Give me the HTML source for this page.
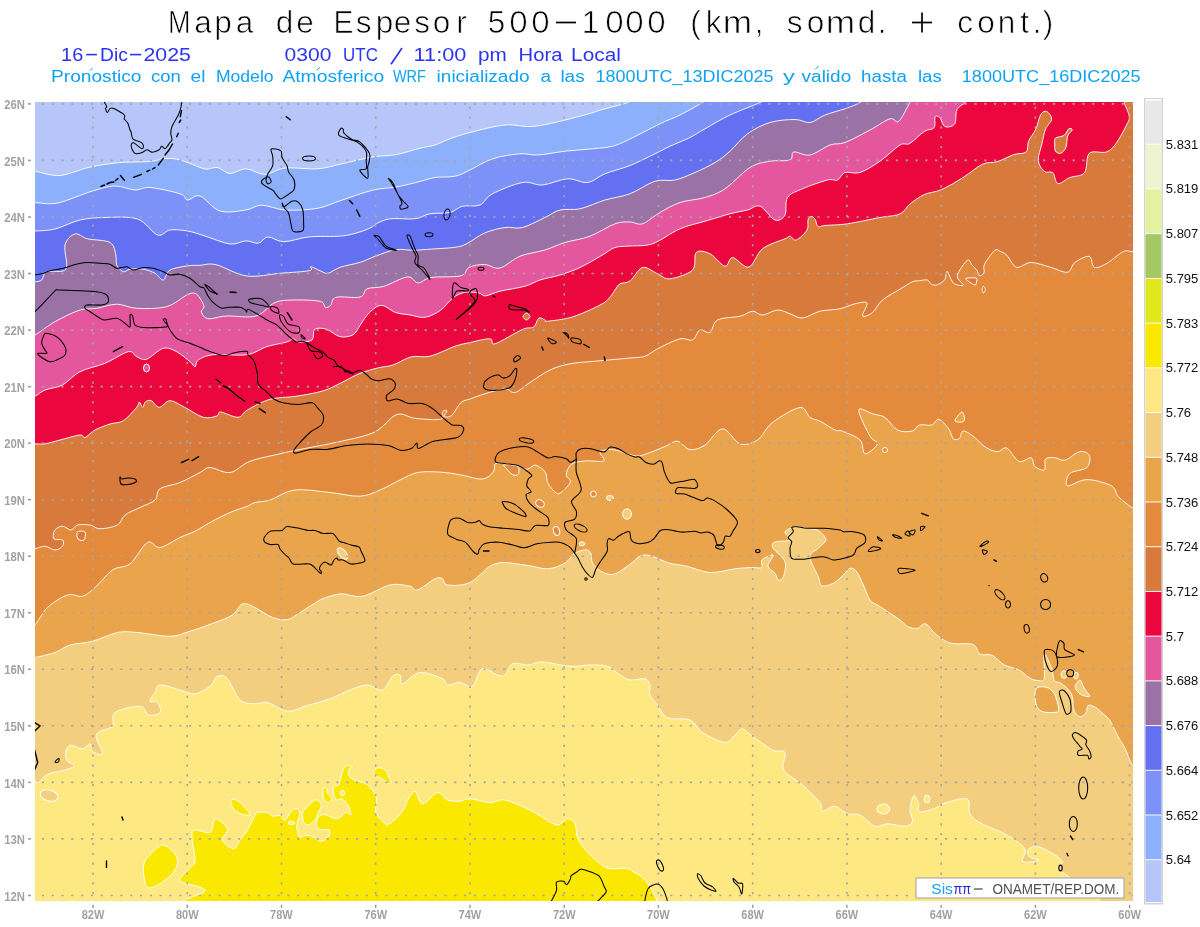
<!DOCTYPE html><html><head><meta charset="utf-8"><style>html,body{margin:0;padding:0;background:#fff;overflow:hidden}svg{display:block;will-change:transform}text{font-family:"Liberation Sans",sans-serif}</style></head><body>
<svg width="1200" height="927" viewBox="0 0 1200 927">
<rect width="1200" height="927" fill="#fff"/>
<defs><clipPath id="mc"><rect x="35" y="102" width="1098" height="799"/></clipPath></defs>
<text transform="translate(179.3 33) scale(0.86 1)" x="0" y="0" font-size="31.5" text-anchor="middle" fill="#000" stroke="#fff" stroke-width="0.7">M</text>
<text transform="translate(203 33) scale(1.0 1)" x="0" y="0" font-size="31.5" text-anchor="middle" fill="#000" stroke="#fff" stroke-width="0.7">a</text>
<text transform="translate(223 33) scale(1.0 1)" x="0" y="0" font-size="31.5" text-anchor="middle" fill="#000" stroke="#fff" stroke-width="0.7">p</text>
<text transform="translate(244.5 33) scale(1.0 1)" x="0" y="0" font-size="31.5" text-anchor="middle" fill="#000" stroke="#fff" stroke-width="0.7">a</text>
<text transform="translate(284.5 33) scale(1.0 1)" x="0" y="0" font-size="31.5" text-anchor="middle" fill="#000" stroke="#fff" stroke-width="0.7">d</text>
<text transform="translate(305 33) scale(1.0 1)" x="0" y="0" font-size="31.5" text-anchor="middle" fill="#000" stroke="#fff" stroke-width="0.7">e</text>
<text transform="translate(343.5 33) scale(0.95 1)" x="0" y="0" font-size="31.5" text-anchor="middle" fill="#000" stroke="#fff" stroke-width="0.7">E</text>
<text transform="translate(363.5 33) scale(1.0 1)" x="0" y="0" font-size="31.5" text-anchor="middle" fill="#000" stroke="#fff" stroke-width="0.7">s</text>
<text transform="translate(384.5 33) scale(1.0 1)" x="0" y="0" font-size="31.5" text-anchor="middle" fill="#000" stroke="#fff" stroke-width="0.7">p</text>
<text transform="translate(402.5 33) scale(1.0 1)" x="0" y="0" font-size="31.5" text-anchor="middle" fill="#000" stroke="#fff" stroke-width="0.7">e</text>
<text transform="translate(422 33) scale(1.0 1)" x="0" y="0" font-size="31.5" text-anchor="middle" fill="#000" stroke="#fff" stroke-width="0.7">s</text>
<text transform="translate(441.5 33) scale(1.0 1)" x="0" y="0" font-size="31.5" text-anchor="middle" fill="#000" stroke="#fff" stroke-width="0.7">o</text>
<text transform="translate(461.5 33) scale(1.0 1)" x="0" y="0" font-size="31.5" text-anchor="middle" fill="#000" stroke="#fff" stroke-width="0.7">r</text>
<text transform="translate(496.5 33) scale(1.0 1)" x="0" y="0" font-size="31.5" text-anchor="middle" fill="#000" stroke="#fff" stroke-width="0.7">5</text>
<text transform="translate(518.5 33) scale(1.05 1)" x="0" y="0" font-size="31.5" text-anchor="middle" fill="#000" stroke="#fff" stroke-width="0.7">0</text>
<text transform="translate(540.5 33) scale(1.05 1)" x="0" y="0" font-size="31.5" text-anchor="middle" fill="#000" stroke="#fff" stroke-width="0.7">0</text>
<line x1="556" y1="22.5" x2="576" y2="22.5" stroke="#000" stroke-width="1.7"/>
<text transform="translate(590.5 33) scale(1.0 1)" x="0" y="0" font-size="31.5" text-anchor="middle" fill="#000" stroke="#fff" stroke-width="0.7">1</text>
<text transform="translate(614.5 33) scale(1.05 1)" x="0" y="0" font-size="31.5" text-anchor="middle" fill="#000" stroke="#fff" stroke-width="0.7">0</text>
<text transform="translate(634.5 33) scale(1.05 1)" x="0" y="0" font-size="31.5" text-anchor="middle" fill="#000" stroke="#fff" stroke-width="0.7">0</text>
<text transform="translate(656.5 33) scale(1.05 1)" x="0" y="0" font-size="31.5" text-anchor="middle" fill="#000" stroke="#fff" stroke-width="0.7">0</text>
<text transform="translate(695.5 33) scale(1.0 1)" x="0" y="0" font-size="31.5" text-anchor="middle" fill="#000" stroke="#fff" stroke-width="0.7">(</text>
<text transform="translate(713.5 33) scale(1.0 1)" x="0" y="0" font-size="31.5" text-anchor="middle" fill="#000" stroke="#fff" stroke-width="0.7">k</text>
<text transform="translate(737.5 33) scale(1.12 1)" x="0" y="0" font-size="31.5" text-anchor="middle" fill="#000" stroke="#fff" stroke-width="0.7">m</text>
<text transform="translate(759 33) scale(1.0 1)" x="0" y="0" font-size="31.5" text-anchor="middle" fill="#000" stroke="#fff" stroke-width="0.7">,</text>
<text transform="translate(794.5 33) scale(1.0 1)" x="0" y="0" font-size="31.5" text-anchor="middle" fill="#000" stroke="#fff" stroke-width="0.7">s</text>
<text transform="translate(815.5 33) scale(1.0 1)" x="0" y="0" font-size="31.5" text-anchor="middle" fill="#000" stroke="#fff" stroke-width="0.7">o</text>
<text transform="translate(840.5 33) scale(1.12 1)" x="0" y="0" font-size="31.5" text-anchor="middle" fill="#000" stroke="#fff" stroke-width="0.7">m</text>
<text transform="translate(866.5 33) scale(1.0 1)" x="0" y="0" font-size="31.5" text-anchor="middle" fill="#000" stroke="#fff" stroke-width="0.7">d</text>
<text transform="translate(882 33) scale(1.0 1)" x="0" y="0" font-size="31.5" text-anchor="middle" fill="#000" stroke="#fff" stroke-width="0.7">.</text>
<line x1="912" y1="22.5" x2="932" y2="22.5" stroke="#000" stroke-width="1.7"/><line x1="922" y1="12.5" x2="922" y2="32.5" stroke="#000" stroke-width="1.7"/>
<text transform="translate(965 33) scale(1.0 1)" x="0" y="0" font-size="31.5" text-anchor="middle" fill="#000" stroke="#fff" stroke-width="0.7">c</text>
<text transform="translate(986 33) scale(1.0 1)" x="0" y="0" font-size="31.5" text-anchor="middle" fill="#000" stroke="#fff" stroke-width="0.7">o</text>
<text transform="translate(1006.5 33) scale(1.0 1)" x="0" y="0" font-size="31.5" text-anchor="middle" fill="#000" stroke="#fff" stroke-width="0.7">n</text>
<text transform="translate(1024.5 33) scale(1.0 1)" x="0" y="0" font-size="31.5" text-anchor="middle" fill="#000" stroke="#fff" stroke-width="0.7">t</text>
<text transform="translate(1037 33) scale(1.0 1)" x="0" y="0" font-size="31.5" text-anchor="middle" fill="#000" stroke="#fff" stroke-width="0.7">.</text>
<text transform="translate(1048 33) scale(1.0 1)" x="0" y="0" font-size="31.5" text-anchor="middle" fill="#000" stroke="#fff" stroke-width="0.7">)</text>
<text x="61.1" y="61" font-size="17.5" textLength="22.1" lengthAdjust="spacingAndGlyphs" fill="#2b34f2" >16</text>
<text x="100.1" y="61" font-size="17.5" textLength="27.8" lengthAdjust="spacingAndGlyphs" fill="#2b34f2" >Dic</text>
<text x="143.5" y="61" font-size="17.5" textLength="47.4" lengthAdjust="spacingAndGlyphs" fill="#2b34f2" >2025</text>
<line x1="86.25" y1="54.6" x2="96.9" y2="54.6" stroke="#2b34f2" stroke-width="1.6"/>
<line x1="130" y1="54.6" x2="141.25" y2="54.6" stroke="#2b34f2" stroke-width="1.6"/>
<text x="284.6" y="61" font-size="17.5" textLength="46.8" lengthAdjust="spacingAndGlyphs" fill="#2b34f2" >0300</text>
<text x="343.1" y="61" font-size="17.5" textLength="34.8" lengthAdjust="spacingAndGlyphs" fill="#2b34f2" >UTC</text>
<text x="413.6" y="61" font-size="17.5" textLength="52.8" lengthAdjust="spacingAndGlyphs" fill="#2b34f2" >11:00</text>
<text x="478.1" y="61" font-size="17.5" textLength="28.8" lengthAdjust="spacingAndGlyphs" fill="#2b34f2" >pm</text>
<text x="518.6" y="61" font-size="17.5" textLength="43.8" lengthAdjust="spacingAndGlyphs" fill="#2b34f2" >Hora</text>
<text x="571.1" y="61" font-size="17.5" textLength="49.8" lengthAdjust="spacingAndGlyphs" fill="#2b34f2" >Local</text>
<line x1="391" y1="64.3" x2="402" y2="48" stroke="#2b34f2" stroke-width="1.7"/>
<text x="51.0" y="82" font-size="16" textLength="90.5" lengthAdjust="spacingAndGlyphs" fill="#0ea2f6" >Pronostico</text>
<text x="151.1" y="82" font-size="16" textLength="29.8" lengthAdjust="spacingAndGlyphs" fill="#0ea2f6" >con</text>
<text x="190.5" y="82" font-size="16" textLength="14.9" lengthAdjust="spacingAndGlyphs" fill="#0ea2f6" >el</text>
<text x="215.9" y="82" font-size="16" textLength="57.7" lengthAdjust="spacingAndGlyphs" fill="#0ea2f6" >Modelo</text>
<text x="282.4" y="82" font-size="16" textLength="101.8" lengthAdjust="spacingAndGlyphs" fill="#0ea2f6" >Atmosferico</text>
<text x="392.9" y="82" font-size="16" textLength="33.0" lengthAdjust="spacingAndGlyphs" fill="#0ea2f6" >WRF</text>
<text x="436.6" y="82" font-size="16" textLength="93.0" lengthAdjust="spacingAndGlyphs" fill="#0ea2f6" >inicializado</text>
<text x="540.4" y="82" font-size="16" textLength="10.6" lengthAdjust="spacingAndGlyphs" fill="#0ea2f6" >a</text>
<text x="560.4" y="82" font-size="16" textLength="24.3" lengthAdjust="spacingAndGlyphs" fill="#0ea2f6" >las</text>
<text x="595.4" y="82" font-size="16" textLength="178.1" lengthAdjust="spacingAndGlyphs" fill="#0ea2f6" >1800UTC_13DIC2025</text>
<text x="782.9" y="82" font-size="16" textLength="11.8" lengthAdjust="spacingAndGlyphs" fill="#0ea2f6" >y</text>
<text x="801.6" y="82" font-size="16" textLength="49.6" lengthAdjust="spacingAndGlyphs" fill="#0ea2f6" >valido</text>
<text x="861.1" y="82" font-size="16" textLength="45.8" lengthAdjust="spacingAndGlyphs" fill="#0ea2f6" >hasta</text>
<text x="917.9" y="82" font-size="16" textLength="23.8" lengthAdjust="spacingAndGlyphs" fill="#0ea2f6" >las</text>
<text x="961.8" y="82" font-size="16" textLength="178.8" lengthAdjust="spacingAndGlyphs" fill="#0ea2f6" >1800UTC_16DIC2025</text>
<line x1="89.9" y1="70.75" x2="92.5" y2="68" stroke="#0ea2f6" stroke-width="1"/>
<line x1="316.7" y1="70" x2="320" y2="67.3" stroke="#0ea2f6" stroke-width="1"/>
<line x1="815" y1="69.5" x2="818.75" y2="65.75" stroke="#0ea2f6" stroke-width="1"/>
<g clip-path="url(#mc)">
<rect x="30" y="96" width="1110" height="814" fill="#b6c6fa"/>
<path d="M30.0,171.0 C30.8,171.0 30.0,170.5 35.0,171.2 C40.0,172.0 51.0,176.2 60.0,175.5 C69.0,174.8 79.5,169.4 89.2,167.3 C98.9,165.2 108.4,163.7 118.3,162.7 C128.2,161.7 140.9,162.2 148.7,161.5 C156.5,160.8 160.3,159.0 165.0,158.6 C169.7,158.2 172.8,158.5 176.7,159.2 C180.6,159.9 183.6,161.1 188.3,162.7 C193.0,164.3 200.1,168.2 205.0,169.0 C209.9,169.8 213.3,166.7 217.5,167.5 C221.7,168.3 225.3,173.4 230.0,173.6 C234.7,173.8 240.0,168.7 245.8,168.8 C251.6,168.9 258.2,174.5 264.8,174.4 C271.4,174.3 276.7,168.9 285.4,168.0 C294.1,167.1 307.9,169.5 317.1,168.8 C326.3,168.2 331.6,166.1 340.8,164.1 C350.0,162.1 363.3,158.6 372.5,157.0 C381.7,155.4 388.3,156.1 396.2,154.6 C404.1,153.1 413.5,149.8 420.0,148.2 C426.5,146.6 430.0,146.6 435.0,145.0 C440.0,143.4 444.2,140.8 450.0,138.8 C455.8,136.7 460.8,134.8 470.0,132.5 C479.2,130.2 494.2,126.0 505.0,125.0 C515.8,124.0 522.5,127.7 535.0,126.2 C547.5,124.8 568.3,119.2 580.0,116.2 C591.7,113.3 597.1,111.0 605.0,108.8 C612.9,106.5 622.5,104.6 627.5,102.5 C632.5,100.4 633.8,97.1 635.0,96.0 L1140.0,96.0 L1140.0,910.0 L30.0,910.0 Z" fill="#8cb0fc"/>
<path d="M30.0,202.5 C30.8,202.5 30.4,202.4 35.0,202.5 C39.6,202.6 47.9,204.9 57.5,203.0 C67.1,201.1 82.9,193.8 92.5,191.0 C102.1,188.2 107.9,186.2 115.0,186.0 C122.1,185.8 129.2,189.8 135.0,190.0 C140.8,190.2 142.5,186.9 150.0,187.5 C157.5,188.1 173.8,191.7 180.0,193.8 C186.2,195.8 184.2,199.6 187.5,200.0 C190.8,200.4 194.6,194.2 200.0,196.0 C205.4,197.8 212.4,208.7 220.0,211.0 C227.6,213.3 238.9,211.0 245.8,210.0 C252.8,209.0 255.1,205.2 261.7,205.2 C268.3,205.2 276.2,209.5 285.4,210.0 C294.6,210.5 307.9,210.0 317.1,208.4 C326.3,206.8 331.6,203.5 340.8,200.5 C350.0,197.5 363.3,192.4 372.5,190.2 C381.7,187.9 388.3,188.4 396.2,187.0 C404.1,185.6 413.5,183.1 420.0,181.5 C426.5,179.9 429.2,178.4 435.0,177.5 C440.8,176.6 449.2,177.5 455.0,176.2 C460.8,175.0 463.8,172.9 470.0,170.0 C476.2,167.1 484.2,161.5 492.5,158.8 C500.8,156.0 512.5,154.4 520.0,153.8 C527.5,153.1 530.0,155.4 537.5,155.0 C545.0,154.6 555.8,152.3 565.0,151.2 C574.2,150.2 584.6,149.6 592.5,148.8 C600.4,147.9 606.2,147.9 612.5,146.2 C618.8,144.6 622.1,142.8 630.0,139.0 C637.9,135.2 651.7,127.8 660.0,123.8 C668.3,119.8 672.9,118.5 680.0,115.0 C687.1,111.5 697.2,105.7 702.5,102.5 C707.8,99.3 710.4,97.1 712.0,96.0 L1140.0,96.0 L1140.0,910.0 L30.0,910.0 Z" fill="#7c92f8"/>
<path d="M30.0,231.0 C30.8,231.0 30.8,231.3 35.0,231.0 C39.2,230.7 47.5,230.8 55.0,229.0 C62.5,227.2 71.7,221.9 80.0,220.0 C88.3,218.1 95.4,217.7 105.0,217.5 C114.6,217.3 128.8,216.1 137.5,219.0 C146.2,221.9 152.1,233.2 157.5,235.0 C162.9,236.8 165.0,230.7 170.0,230.0 C175.0,229.3 181.7,230.0 187.5,231.0 C193.3,232.0 197.9,233.8 205.0,236.0 C212.1,238.2 223.2,243.2 230.0,244.0 C236.8,244.8 241.1,241.0 245.8,240.9 C250.6,240.8 254.8,243.9 258.5,243.2 C262.2,242.5 263.8,237.2 268.0,236.9 C272.2,236.7 276.9,241.7 283.8,241.7 C290.7,241.7 299.7,237.8 309.2,236.9 C318.7,236.0 332.3,236.9 340.8,236.1 C349.3,235.3 354.8,233.4 360.0,231.9 C365.2,230.4 369.1,228.5 371.9,227.1 C374.7,225.7 373.6,225.0 376.6,223.6 C379.6,222.2 383.6,219.6 390.0,218.8 C396.4,217.9 408.3,219.6 415.0,218.8 C421.7,217.9 424.2,214.8 430.0,213.8 C435.8,212.7 444.6,213.8 450.0,212.5 C455.4,211.2 457.5,207.5 462.5,206.2 C467.5,205.0 475.0,207.1 480.0,205.0 C485.0,202.9 485.4,197.5 492.5,193.8 C499.6,190.0 514.2,184.0 522.5,182.5 C530.8,181.0 535.0,185.6 542.5,185.0 C550.0,184.4 560.0,179.2 567.5,178.8 C575.0,178.3 581.2,183.3 587.5,182.5 C593.8,181.7 597.9,176.6 605.0,173.8 C612.1,170.9 621.7,168.8 630.0,165.5 C638.3,162.2 648.3,157.0 655.0,153.8 C661.7,150.5 664.2,149.0 670.0,146.2 C675.8,143.5 684.2,140.4 690.0,137.5 C695.8,134.6 698.3,132.5 705.0,128.8 C711.7,125.0 720.8,119.4 730.0,115.0 C739.2,110.6 753.3,105.7 760.0,102.5 C766.7,99.3 768.3,97.1 770.0,96.0 L1140.0,96.0 L1140.0,910.0 L30.0,910.0 Z" fill="#6470f2"/>
<path d="M30.0,281.7 C30.8,281.7 33.0,282.0 35.0,281.7 C37.0,281.4 39.8,281.7 41.7,280.0 C43.7,278.3 42.7,273.5 46.7,271.7 C50.7,269.9 62.8,273.6 65.8,269.2 C68.8,264.8 63.5,250.9 65.0,245.0 C66.5,239.1 71.2,235.0 75.0,234.0 C78.8,233.0 81.7,237.3 87.5,238.8 C93.3,240.2 105.3,239.8 110.0,242.5 C114.7,245.2 114.7,251.2 115.8,255.0 C116.9,258.8 115.5,262.2 116.7,265.0 C118.0,267.8 121.1,271.0 123.3,271.7 C125.5,272.4 126.7,269.6 130.0,269.2 C133.3,268.8 139.1,268.5 143.3,269.2 C147.5,269.9 151.7,271.5 155.0,273.3 C158.3,275.1 160.8,280.6 163.3,280.0 C165.8,279.4 165.8,272.4 170.0,270.0 C174.2,267.6 183.3,266.6 188.3,265.8 C193.3,265.0 195.4,265.5 200.0,265.3 C204.6,265.1 208.2,262.9 216.0,264.7 C223.8,266.5 236.0,274.6 246.7,276.0 C257.4,277.4 269.6,274.2 280.0,273.3 C290.4,272.4 304.2,271.8 309.3,270.7 C314.4,269.6 308.9,266.7 310.7,266.7 C312.5,266.7 317.1,269.6 320.0,270.7 C322.9,271.8 324.7,273.9 328.0,273.3 C331.3,272.7 334.7,269.1 340.0,267.3 C345.3,265.5 354.1,264.2 360.0,262.4 C365.9,260.5 369.5,258.3 375.4,256.2 C381.3,254.1 389.3,250.7 395.6,249.7 C401.9,248.7 407.5,250.3 413.4,250.2 C419.3,250.1 424.3,249.6 431.2,249.1 C438.1,248.6 449.0,248.2 454.9,247.3 C460.8,246.4 461.9,246.1 466.8,243.7 C471.8,241.3 478.2,235.7 484.6,233.0 C491.0,230.3 498.7,228.4 505.0,227.5 C511.3,226.6 515.8,229.2 522.5,227.5 C529.2,225.8 538.8,220.4 545.0,217.5 C551.2,214.6 554.2,211.5 560.0,210.0 C565.8,208.5 572.5,210.4 580.0,208.8 C587.5,207.1 596.7,202.5 605.0,200.0 C613.3,197.5 621.7,196.9 630.0,193.8 C638.3,190.6 647.5,183.5 655.0,181.2 C662.5,179.0 668.3,181.5 675.0,180.0 C681.7,178.5 688.3,175.4 695.0,172.5 C701.7,169.6 709.2,166.0 715.0,162.5 C720.8,159.0 724.6,156.0 730.0,151.2 C735.4,146.5 740.8,138.5 747.5,133.8 C754.2,129.0 762.1,124.9 770.0,122.5 C777.9,120.1 788.3,119.5 795.0,119.5 C801.7,119.5 805.0,123.2 810.0,122.5 C815.0,121.8 819.2,117.3 825.0,115.0 C830.8,112.7 839.2,110.8 845.0,108.8 C850.8,106.7 856.2,104.6 860.0,102.5 C863.8,100.4 866.7,97.1 868.0,96.0 L1140.0,96.0 L1140.0,910.0 L30.0,910.0 Z" fill="#9a72a6"/>
<path d="M30.0,335.0 C30.8,335.0 30.8,337.2 35.0,335.0 C39.2,332.8 47.5,325.9 55.0,321.7 C62.5,317.5 73.0,312.2 80.0,310.0 C87.0,307.8 90.6,309.3 96.7,308.3 C102.8,307.3 110.0,304.2 116.7,304.2 C123.4,304.2 128.4,307.9 136.7,308.3 C145.0,308.7 158.4,308.9 166.7,306.7 C175.0,304.5 182.0,297.2 186.7,295.0 C191.4,292.8 192.8,292.8 195.0,293.3 C197.2,293.9 198.5,296.1 200.0,298.3 C201.5,300.5 203.8,304.4 204.0,306.7 C204.2,309.0 200.6,310.0 201.3,312.0 C202.0,314.0 203.8,318.0 208.0,318.7 C212.2,319.4 218.7,316.4 226.7,316.0 C234.7,315.6 248.0,318.2 256.0,316.0 C264.0,313.8 268.5,305.4 274.7,302.7 C280.9,300.0 285.8,300.2 293.3,300.0 C300.9,299.8 314.7,300.1 320.0,301.3 C325.3,302.5 323.5,306.6 325.3,307.3 C327.1,308.0 328.9,307.0 330.7,305.3 C332.5,303.6 331.1,298.7 336.0,297.3 C340.9,295.9 354.8,298.5 360.0,297.1 C365.2,295.7 363.2,290.6 367.1,288.8 C371.1,287.0 377.0,288.4 383.7,286.4 C390.4,284.4 401.7,277.5 407.4,276.9 C413.1,276.3 414.1,282.8 418.1,282.9 C422.1,283.0 424.1,278.7 431.2,277.5 C438.3,276.3 454.5,277.5 460.8,275.8 C467.1,274.1 465.1,269.3 469.1,267.4 C473.1,265.5 479.5,264.4 484.6,264.5 C489.8,264.6 494.1,269.4 500.0,268.0 C505.9,266.6 512.5,259.2 520.0,256.2 C527.5,253.2 537.5,252.3 545.0,250.0 C552.5,247.7 557.5,244.8 565.0,242.5 C572.5,240.2 581.7,239.4 590.0,236.2 C598.3,233.1 608.3,226.1 615.0,223.8 C621.7,221.4 625.4,222.0 630.0,222.0 C634.6,222.0 637.5,225.3 642.5,223.8 C647.5,222.2 653.8,216.0 660.0,212.5 C666.2,209.0 672.5,205.0 680.0,202.5 C687.5,200.0 697.5,199.8 705.0,197.5 C712.5,195.2 717.5,193.8 725.0,188.8 C732.5,183.8 742.5,172.1 750.0,167.5 C757.5,162.9 763.3,162.5 770.0,161.2 C776.7,160.0 786.0,161.5 790.0,160.0 C794.0,158.5 790.4,152.8 793.8,152.0 C797.1,151.2 804.0,156.2 810.0,155.0 C816.0,153.8 824.2,147.1 830.0,145.0 C835.8,142.9 838.3,145.0 845.0,142.5 C851.7,140.0 862.5,134.0 870.0,130.0 C877.5,126.0 885.2,120.2 890.0,118.8 C894.8,117.3 895.4,124.0 898.8,121.2 C902.1,118.5 907.3,106.7 910.0,102.5 C912.7,98.3 914.2,97.1 915.0,96.0 L1140.0,96.0 L1140.0,910.0 L30.0,910.0 Z" fill="#e4569e"/>
<path d="M30.0,396.2 C30.8,396.2 32.5,397.3 35.0,396.2 C37.5,395.2 40.4,391.9 45.0,390.0 C49.6,388.1 56.7,388.1 62.5,385.0 C68.3,381.9 72.9,375.3 80.0,371.7 C87.1,368.1 97.0,366.6 105.0,363.3 C113.0,360.0 123.0,352.8 128.3,351.7 C133.6,350.6 133.6,355.4 136.7,356.7 C139.8,357.9 142.3,360.6 146.7,359.2 C151.1,357.8 158.3,349.6 163.3,348.3 C168.3,347.1 172.2,349.5 176.7,351.7 C181.1,353.9 186.9,359.2 190.0,361.7 C193.1,364.2 193.6,367.0 195.0,366.7 C196.4,366.4 195.2,362.0 198.3,360.0 C201.4,358.0 205.2,355.6 213.3,354.7 C221.4,353.8 237.8,356.0 246.7,354.7 C255.6,353.4 260.0,348.8 266.7,346.7 C273.4,344.6 282.3,343.3 286.7,342.0 C291.1,340.7 291.3,338.7 293.3,338.7 C295.3,338.7 295.6,341.8 298.7,342.0 C301.8,342.2 309.3,342.1 312.0,340.0 C314.7,337.9 312.2,331.1 314.7,329.3 C317.1,327.5 322.5,328.1 326.7,329.3 C330.9,330.5 335.6,335.8 340.0,336.7 C344.4,337.6 350.0,336.6 353.3,334.7 C356.6,332.8 357.3,329.0 360.0,325.3 C362.7,321.6 365.9,315.8 369.5,312.5 C373.1,309.2 377.0,305.4 381.4,305.4 C385.8,305.4 390.9,310.9 395.6,312.5 C400.3,314.1 404.9,314.1 409.8,314.9 C414.7,315.7 420.1,318.1 425.2,317.3 C430.3,316.5 436.1,313.4 440.7,310.2 C445.2,307.0 448.6,301.3 452.5,298.3 C456.4,295.3 460.0,293.3 464.4,292.4 C468.8,291.5 475.1,292.4 478.6,293.0 C482.2,293.6 482.1,296.2 485.7,295.9 C489.3,295.6 493.4,292.8 500.0,291.2 C506.6,289.6 518.3,288.1 525.0,286.2 C531.7,284.4 534.2,281.9 540.0,280.0 C545.8,278.1 553.3,277.1 560.0,275.0 C566.7,272.9 572.9,270.8 580.0,267.5 C587.1,264.2 596.7,258.3 602.5,255.0 C608.3,251.7 610.4,249.0 615.0,247.5 C619.6,246.0 623.8,246.6 630.0,246.0 C636.2,245.4 644.2,246.6 652.5,243.8 C660.8,240.9 671.2,232.5 680.0,228.8 C688.8,225.0 696.7,223.8 705.0,221.2 C713.3,218.8 722.9,215.6 730.0,213.8 C737.1,211.9 742.5,211.2 747.5,210.0 C752.5,208.8 755.4,204.6 760.0,206.2 C764.6,207.9 770.8,218.5 775.0,220.0 C779.2,221.5 782.9,218.8 785.0,215.0 C787.1,211.2 784.6,201.9 787.5,197.5 C790.4,193.1 795.8,191.7 802.5,188.8 C809.2,185.8 821.7,181.5 827.5,180.0 C833.3,178.5 834.6,181.2 837.5,180.0 C840.4,178.8 841.2,173.8 845.0,172.5 C848.8,171.2 854.2,174.4 860.0,172.5 C865.8,170.6 873.3,165.8 880.0,161.2 C886.7,156.7 895.0,148.0 900.0,145.0 C905.0,142.0 905.7,145.8 909.7,143.5 C913.8,141.2 920.2,134.0 924.3,131.4 C928.3,128.8 932.2,130.2 934.0,127.8 C935.8,125.4 934.2,118.4 935.2,116.8 C936.2,115.2 938.4,116.4 940.0,118.0 C941.6,119.6 942.5,125.6 944.9,126.6 C947.3,127.6 952.6,126.9 954.6,124.1 C956.6,121.3 955.2,113.2 957.0,109.6 C958.8,106.0 963.3,104.6 965.5,102.3 C967.7,100.0 969.2,97.0 970.0,96.0 L1140.0,96.0 L1140.0,910.0 L30.0,910.0 Z" fill="#ec063e"/>
<path d="M30.0,443.8 C30.8,443.8 32.5,443.8 35.0,443.8 C37.5,443.8 40.8,444.4 45.0,443.8 C49.2,443.1 54.2,441.5 60.0,440.0 C65.8,438.5 75.8,435.4 80.0,435.0 C84.2,434.6 82.5,438.3 85.0,437.5 C87.5,436.7 90.8,432.2 95.0,430.0 C99.2,427.8 105.3,425.6 110.0,424.0 C114.7,422.4 118.8,423.5 123.3,420.7 C127.8,417.9 134.0,410.4 136.7,407.3 C139.4,404.2 138.3,402.0 139.3,402.0 C140.3,402.0 141.7,407.3 142.7,407.3 C143.7,407.3 143.9,403.1 145.3,402.0 C146.7,400.9 149.0,399.8 151.3,400.7 C153.6,401.6 156.2,407.3 159.3,407.3 C162.4,407.3 165.8,400.7 170.0,400.7 C174.2,400.7 179.1,404.5 184.7,407.3 C190.2,410.1 198.0,415.9 203.3,417.3 C208.6,418.8 213.8,416.9 216.7,416.0 C219.6,415.1 217.1,411.8 220.7,412.0 C224.2,412.2 233.6,417.6 238.0,417.3 C242.4,417.0 242.0,413.0 247.3,410.0 C252.6,407.0 261.9,401.6 270.0,399.3 C278.1,397.0 286.9,397.7 295.8,396.3 C304.7,394.9 315.7,393.1 323.3,390.8 C330.9,388.5 335.6,385.4 341.7,382.5 C347.8,379.6 353.9,375.8 360.0,373.3 C366.1,370.9 372.8,369.2 378.3,367.8 C383.8,366.4 387.5,366.8 393.0,365.0 C398.5,363.2 405.1,358.3 411.3,356.8 C417.5,355.3 422.7,358.0 430.0,356.2 C437.3,354.5 448.3,348.5 455.0,346.2 C461.7,344.0 464.2,343.8 470.0,342.5 C475.8,341.2 485.8,338.5 490.0,338.8 C494.2,339.0 489.6,345.3 495.0,343.8 C500.4,342.2 516.0,332.2 522.5,329.4 C529.0,326.6 531.0,328.8 533.8,326.9 C536.5,325.0 536.9,319.2 538.8,318.1 C540.6,317.0 543.5,319.5 545.0,320.0 C546.5,320.5 542.9,321.8 547.5,321.2 C552.1,320.7 563.5,319.7 572.5,316.9 C581.5,314.1 595.0,307.7 601.2,304.4 C607.5,301.1 607.7,299.4 610.0,297.0 C612.3,294.6 613.3,292.2 615.0,290.0 C616.7,287.8 617.5,285.2 620.0,283.8 C622.5,282.2 626.2,283.7 630.0,281.0 C633.8,278.3 637.9,268.7 642.5,267.5 C647.1,266.3 652.9,271.9 657.5,273.8 C662.1,275.6 664.2,279.4 670.0,278.8 C675.8,278.1 688.1,274.4 692.5,270.0 C696.9,265.6 693.3,255.2 696.2,252.5 C699.2,249.8 705.2,251.5 710.0,253.8 C714.8,256.0 721.2,265.6 725.0,266.2 C728.8,266.9 728.5,257.4 732.5,257.5 C736.5,257.6 743.8,268.5 748.8,267.0 C753.8,265.5 756.5,253.5 762.5,248.8 C768.5,244.0 780.4,240.8 785.0,238.8 C789.6,236.7 788.1,236.0 790.0,236.2 C791.9,236.5 793.4,241.0 796.2,240.0 C799.1,239.0 805.0,233.3 807.0,230.0 C809.0,226.7 807.3,222.2 808.0,220.0 C808.7,217.8 809.8,216.7 811.0,216.5 C812.2,216.3 813.8,217.3 815.0,219.0 C816.2,220.7 816.3,225.4 818.0,226.5 C819.7,227.6 820.1,226.0 825.0,225.5 C829.9,225.0 838.3,225.1 847.5,223.8 C856.7,222.4 871.2,219.1 880.0,217.5 C888.8,215.9 895.0,216.1 900.0,213.9 C905.0,211.7 905.7,207.4 909.7,204.2 C913.8,201.0 919.0,196.9 924.3,194.5 C929.6,192.1 934.8,192.5 941.3,189.7 C947.8,186.9 956.2,181.8 963.1,177.5 C970.0,173.2 976.8,166.8 982.5,164.2 C988.2,161.6 991.8,163.3 997.1,161.7 C1002.4,160.1 1009.2,156.1 1014.1,154.5 C1019.0,152.9 1023.8,154.2 1026.2,152.0 C1028.6,149.8 1027.0,144.9 1028.6,141.1 C1030.2,137.3 1033.9,133.4 1035.9,129.0 C1037.9,124.5 1039.0,117.3 1040.8,114.4 C1042.6,111.5 1045.0,110.7 1046.8,111.5 C1048.6,112.3 1051.9,116.4 1051.7,119.3 C1051.5,122.2 1047.2,125.0 1045.6,129.0 C1044.0,133.0 1043.2,138.2 1042.0,143.5 C1040.8,148.8 1037.9,155.8 1038.3,160.5 C1038.7,165.2 1042.0,169.5 1044.4,171.5 C1046.8,173.5 1050.7,170.7 1052.9,172.7 C1055.1,174.7 1055.0,182.8 1057.8,183.6 C1060.6,184.4 1065.5,179.3 1069.9,177.5 C1074.4,175.7 1081.3,176.7 1084.5,172.7 C1087.7,168.7 1085.7,156.8 1089.3,153.3 C1092.9,149.9 1101.8,153.6 1106.3,152.0 C1110.8,150.4 1112.8,147.7 1116.0,143.5 C1119.2,139.3 1123.5,131.0 1125.7,126.6 C1127.9,122.1 1129.6,120.6 1129.4,116.8 C1129.2,113.0 1125.4,107.0 1124.5,103.5 C1123.6,100.0 1124.1,97.2 1124.0,96.0 L1140.0,96.0 L1140.0,910.0 L30.0,910.0 Z" fill="#d87a3c"/>
<path d="M30.0,548.8 C30.8,548.8 32.5,549.2 35.0,548.8 C37.5,548.3 41.7,546.0 45.0,546.2 C48.3,546.5 52.1,550.0 55.0,550.0 C57.9,550.0 61.2,547.9 62.5,546.2 C63.8,544.6 64.0,541.2 62.5,540.0 C61.0,538.8 55.0,540.4 53.8,538.8 C52.5,537.1 53.5,532.1 55.0,530.0 C56.5,527.9 59.8,526.2 62.5,526.2 C65.2,526.2 68.8,530.2 71.2,530.0 C73.8,529.8 74.4,525.8 77.5,525.0 C80.6,524.2 86.2,524.4 90.0,525.0 C93.8,525.6 95.4,528.8 100.0,528.8 C104.6,528.8 113.3,527.3 117.5,525.0 C121.7,522.7 121.2,517.9 125.0,515.0 C128.8,512.1 135.0,510.0 140.0,507.5 C145.0,505.0 151.7,503.1 155.0,500.0 C158.3,496.9 155.8,491.7 160.0,488.8 C164.2,485.8 173.3,485.2 180.0,482.5 C186.7,479.8 195.0,475.0 200.0,472.5 C205.0,470.0 205.0,467.5 210.0,467.5 C215.0,467.5 223.3,473.5 230.0,472.5 C236.7,471.5 241.7,464.4 250.0,461.3 C258.3,458.2 272.4,455.6 280.0,453.8 C287.6,451.9 285.5,452.4 295.8,450.3 C306.1,448.2 328.6,444.2 341.7,441.2 C354.8,438.1 365.5,436.4 374.7,432.0 C383.9,427.6 390.0,416.9 396.7,414.6 C403.4,412.3 407.7,417.5 415.0,418.3 C422.3,419.1 436.1,420.3 440.7,419.2 C445.3,418.1 441.4,413.2 442.5,411.8 C443.6,410.4 446.7,410.1 447.0,410.9 C447.3,411.7 443.5,415.6 444.3,416.4 C445.1,417.2 448.9,417.8 451.7,415.5 C454.4,413.2 457.8,405.4 460.8,402.7 C463.9,399.9 466.0,400.5 470.0,399.0 C474.0,397.5 479.2,395.5 485.0,393.8 C490.8,392.0 500.0,389.0 505.0,388.8 C510.0,388.5 510.8,393.5 515.0,392.5 C519.2,391.5 524.2,386.2 530.0,382.5 C535.8,378.8 543.3,373.1 550.0,370.0 C556.7,366.9 562.5,365.2 570.0,363.8 C577.5,362.3 585.0,362.2 595.0,361.2 C605.0,360.3 621.7,358.8 630.0,358.0 C638.3,357.2 640.4,357.8 645.0,356.2 C649.6,354.7 651.7,351.7 657.5,348.8 C663.3,345.8 674.2,340.2 680.0,338.8 C685.8,337.3 689.2,341.5 692.5,340.0 C695.8,338.5 697.1,331.2 700.0,330.0 C702.9,328.8 707.1,334.2 710.0,332.5 C712.9,330.8 712.5,322.7 717.5,320.0 C722.5,317.3 734.2,317.7 740.0,316.2 C745.8,314.8 748.8,311.5 752.5,311.2 C756.2,311.0 758.3,315.2 762.5,315.0 C766.7,314.8 772.9,310.2 777.5,310.0 C782.1,309.8 785.8,312.4 790.0,313.8 C794.2,315.1 797.5,318.4 802.5,318.0 C807.5,317.6 813.8,312.8 820.0,311.2 C826.2,309.7 834.2,310.0 840.0,308.8 C845.8,307.5 850.5,304.7 855.0,303.8 C859.5,302.8 865.8,301.0 867.0,303.0 C868.2,305.0 861.6,314.4 862.5,316.0 C863.4,317.6 869.2,315.2 872.5,312.5 C875.8,309.8 877.9,303.9 882.5,300.0 C887.1,296.1 895.1,292.2 900.0,289.2 C904.9,286.2 908.9,283.3 912.1,281.9 C915.3,280.5 916.9,281.0 919.4,280.7 C921.9,280.4 925.3,279.4 927.3,280.0 C929.3,280.6 929.6,283.5 931.3,284.3 C933.0,285.1 935.1,285.5 937.3,284.7 C939.5,283.9 943.1,281.9 944.7,279.7 C946.3,277.5 945.9,271.3 947.0,271.3 C948.1,271.3 950.0,277.6 951.3,279.7 C952.6,281.8 952.7,283.1 954.7,284.0 C956.7,284.9 962.9,286.4 963.3,285.0 C963.7,283.6 956.6,279.8 957.3,275.7 C958.0,271.6 964.8,262.1 967.3,260.3 C969.8,258.5 970.3,263.2 972.0,265.0 C973.7,266.8 976.1,269.2 977.3,271.0 C978.5,272.8 978.2,275.4 979.3,275.7 C980.4,276.0 983.2,274.7 984.0,273.0 C984.8,271.3 983.2,268.2 984.0,265.7 C984.8,263.1 986.8,260.3 988.7,257.7 C990.6,255.1 993.4,251.1 995.3,250.0 C997.2,248.9 998.1,250.4 1000.0,251.3 C1001.9,252.2 1004.0,252.5 1006.8,255.2 C1009.5,257.9 1012.5,266.1 1016.5,267.3 C1020.5,268.5 1025.4,262.5 1031.1,262.5 C1036.8,262.5 1044.4,265.7 1050.5,267.3 C1056.6,268.9 1063.5,273.0 1067.5,272.2 C1071.5,271.4 1071.2,265.1 1074.8,262.5 C1078.4,259.9 1086.1,255.6 1089.3,256.4 C1092.5,257.2 1091.4,266.1 1094.2,267.3 C1097.0,268.5 1101.5,266.3 1106.3,263.7 C1111.1,261.1 1119.0,253.6 1123.3,251.6 C1127.6,249.6 1129.2,251.6 1132.0,251.6 C1134.8,251.6 1138.7,251.6 1140.0,251.6 L1140.0,910.0 L30.0,910.0 Z" fill="#e48a3c"/>
<path d="M30.0,625.0 C30.8,625.0 32.1,627.9 35.0,625.0 C37.9,622.1 42.1,612.5 47.5,607.5 C52.9,602.5 61.7,596.9 67.5,595.0 C73.3,593.1 77.9,597.5 82.5,596.2 C87.1,595.0 90.0,591.9 95.0,587.5 C100.0,583.1 106.7,574.0 112.5,570.0 C118.3,566.0 124.2,568.3 130.0,563.8 C135.8,559.2 142.5,545.2 147.5,542.5 C152.5,539.8 154.6,548.3 160.0,547.5 C165.4,546.7 174.2,540.2 180.0,537.5 C185.8,534.8 190.0,533.8 195.0,531.2 C200.0,528.8 204.2,525.6 210.0,522.5 C215.8,519.4 223.8,515.2 230.0,512.5 C236.2,509.8 243.3,507.9 247.5,506.2 C251.7,504.6 251.2,503.5 255.0,502.5 C258.8,501.5 263.3,502.1 270.0,500.0 C276.7,497.9 285.0,491.2 295.0,490.0 C305.0,488.8 319.2,491.5 330.0,492.5 C340.8,493.5 351.7,496.7 360.0,496.2 C368.3,495.8 373.3,492.7 380.0,490.0 C386.7,487.3 393.8,482.9 400.0,480.0 C406.2,477.1 410.8,473.8 417.5,472.5 C424.2,471.2 432.8,471.7 440.0,472.1 C447.2,472.5 454.0,473.7 461.0,474.9 C468.0,476.1 476.7,479.6 482.1,479.1 C487.5,478.6 491.1,474.7 493.3,472.1 C495.5,469.5 493.3,465.1 495.4,463.7 C497.5,462.3 502.3,463.3 505.9,463.7 C509.5,464.1 513.6,464.9 517.1,465.8 C520.6,466.7 523.9,469.4 526.9,469.3 C529.9,469.2 532.3,464.6 535.4,465.1 C538.5,465.6 543.1,469.1 545.2,472.1 C547.3,475.1 546.1,479.8 548.0,483.3 C549.9,486.8 554.1,491.7 556.4,493.1 C558.7,494.5 559.7,493.6 562.0,491.7 C564.3,489.8 569.7,484.7 570.4,481.9 C571.1,479.1 566.0,477.9 566.2,474.9 C566.4,471.9 568.2,466.4 571.5,464.1 C574.8,461.8 580.6,461.4 586.0,460.9 C591.4,460.4 601.5,462.4 603.8,460.9 C606.1,459.4 598.9,453.9 600.0,452.0 C601.1,450.1 607.0,449.7 610.3,449.6 C613.6,449.5 615.7,450.1 620.0,451.2 C624.3,452.3 631.3,455.7 636.2,456.0 C641.1,456.3 644.3,454.4 649.2,452.8 C654.1,451.2 660.7,448.2 665.4,446.3 C670.1,444.4 673.4,440.7 677.5,441.2 C681.6,441.8 685.4,448.9 690.0,449.5 C694.6,450.1 699.6,448.5 705.0,445.0 C710.4,441.5 716.7,429.0 722.5,428.8 C728.3,428.5 734.2,441.9 740.0,443.8 C745.8,445.6 752.1,443.5 757.5,440.0 C762.9,436.5 765.4,427.9 772.5,422.5 C779.6,417.1 793.8,408.3 800.0,407.5 C806.2,406.7 806.7,415.2 810.0,417.5 C813.3,419.8 815.8,419.2 820.0,421.2 C824.2,423.3 831.2,428.3 835.0,430.0 C838.8,431.7 838.3,429.6 842.5,431.2 C846.7,432.9 856.2,436.2 860.0,440.0 C863.8,443.8 862.1,453.1 865.0,453.8 C867.9,454.4 876.7,446.7 877.5,443.8 C878.3,440.8 873.1,441.9 870.0,436.2 C866.9,430.6 858.3,413.8 858.8,410.0 C859.2,406.2 868.1,412.5 872.5,413.8 C876.9,415.0 880.8,414.8 885.0,417.5 C889.2,420.2 893.0,427.7 897.5,430.0 C902.0,432.3 908.5,431.9 912.1,431.1 C915.8,430.3 916.1,426.0 919.4,425.0 C922.6,424.0 928.4,425.9 931.6,425.0 C934.8,424.1 936.0,418.8 938.8,419.4 C941.6,420.0 946.1,425.4 948.5,428.6 C950.9,431.8 951.6,437.2 953.4,438.8 C955.2,440.4 957.9,439.6 959.5,438.3 C961.1,437.0 960.9,431.5 963.1,431.1 C965.3,430.7 969.1,433.3 972.8,435.9 C976.4,438.5 981.0,444.2 985.0,446.8 C989.0,449.4 993.5,451.5 997.1,451.7 C1000.7,451.9 1003.2,446.5 1006.8,448.1 C1010.4,449.7 1014.9,459.8 1018.9,461.4 C1022.9,463.0 1028.5,457.0 1031.1,457.8 C1033.7,458.6 1032.5,464.3 1034.7,466.3 C1036.9,468.3 1042.6,471.1 1044.4,469.9 C1046.2,468.7 1043.8,461.0 1045.6,459.0 C1047.4,457.0 1052.1,457.6 1055.3,457.8 C1058.5,458.0 1061.0,461.2 1065.0,460.2 C1069.0,459.2 1075.5,452.5 1079.6,451.7 C1083.6,450.9 1088.1,452.7 1089.3,455.3 C1090.5,457.9 1090.1,464.5 1086.9,467.5 C1083.7,470.5 1073.1,470.5 1069.9,473.5 C1066.7,476.5 1064.7,484.7 1067.5,485.7 C1070.3,486.7 1079.6,479.6 1086.9,479.6 C1094.2,479.6 1106.0,482.9 1111.2,485.7 C1116.5,488.5 1115.0,493.0 1118.4,496.6 C1121.8,500.2 1128.2,504.9 1131.8,507.5 C1135.4,510.1 1138.6,511.2 1140.0,512.0 L1140.0,910.0 L30.0,910.0 Z" fill="#eaa44c"/>
<path d="M30.0,657.5 C30.8,657.5 30.8,658.3 35.0,657.5 C39.2,656.7 49.2,654.6 55.0,652.5 C60.8,650.4 63.8,646.9 70.0,645.0 C76.2,643.1 84.6,643.3 92.5,641.2 C100.4,639.2 110.0,634.0 117.5,632.5 C125.0,631.0 128.8,631.9 137.5,632.5 C146.2,633.1 161.2,636.5 170.0,636.2 C178.8,636.0 182.5,633.5 190.0,631.2 C197.5,629.0 207.9,625.2 215.0,622.5 C222.1,619.8 227.9,618.1 232.5,615.0 C237.1,611.9 238.8,605.0 242.5,603.8 C246.2,602.5 250.0,605.2 255.0,607.5 C260.0,609.8 267.1,615.5 272.5,617.5 C277.9,619.5 282.9,620.3 287.5,619.5 C292.1,618.7 294.6,615.8 300.0,612.5 C305.4,609.2 315.0,602.7 320.0,600.0 C325.0,597.3 326.2,597.3 330.0,596.2 C333.8,595.2 337.1,593.8 342.5,593.8 C347.9,593.8 354.6,597.7 362.5,596.2 C370.4,594.8 382.1,586.7 390.0,585.0 C397.9,583.3 405.4,585.4 410.0,586.2 C414.6,587.1 413.3,591.2 417.5,590.0 C421.7,588.8 430.8,580.6 435.0,578.8 C439.2,576.9 440.4,577.7 442.5,578.8 C444.6,579.8 442.9,584.4 447.5,585.0 C452.1,585.6 462.1,586.0 470.0,582.5 C477.9,579.0 485.8,566.7 495.0,563.8 C504.2,560.8 516.2,564.2 525.0,565.0 C533.8,565.8 540.8,569.1 547.5,568.8 C554.2,568.4 560.5,565.6 565.0,563.0 C569.5,560.4 571.2,555.4 574.7,553.2 C578.2,551.0 583.3,549.9 586.0,549.9 C588.7,549.9 589.8,551.0 590.9,553.2 C592.0,555.4 590.9,559.9 592.5,562.9 C594.1,565.9 597.1,569.1 600.6,571.0 C604.1,572.9 608.8,575.3 613.6,574.2 C618.5,573.1 625.1,567.6 629.7,564.5 C634.3,561.4 637.3,557.0 641.1,555.6 C644.9,554.2 647.8,555.2 652.4,556.4 C657.0,557.6 662.9,561.3 668.6,562.9 C674.3,564.5 679.5,564.5 686.4,566.1 C693.3,567.7 701.9,572.1 710.0,572.5 C718.1,572.9 728.0,569.6 735.0,568.8 C742.0,567.9 747.2,567.7 751.7,567.5 C756.2,567.3 760.0,568.8 761.7,567.5 C763.4,566.2 760.1,562.1 762.0,560.0 C763.9,557.9 772.3,554.0 773.3,555.0 C774.3,556.0 767.7,563.0 768.0,566.0 C768.3,569.0 773.3,571.0 775.0,573.3 C776.7,575.6 776.9,579.4 778.3,580.0 C779.7,580.6 782.2,579.8 783.3,576.7 C784.4,573.7 786.7,566.5 785.0,561.7 C783.3,556.9 774.7,551.3 773.0,548.0 C771.3,544.7 772.2,543.3 775.0,542.0 C777.8,540.7 788.3,541.7 790.0,540.0 C791.7,538.3 784.2,534.1 785.0,532.0 C785.8,529.9 790.3,528.0 795.0,527.5 C799.7,527.0 809.1,528.5 813.3,529.2 C817.5,529.9 817.9,529.9 820.0,531.7 C822.1,533.5 826.1,537.2 825.8,540.0 C825.5,542.8 820.9,545.5 818.3,548.3 C815.7,551.1 810.0,552.0 810.0,556.7 C810.0,561.4 816.3,571.9 818.3,576.7 C820.2,581.6 819.2,584.7 821.7,585.8 C824.2,586.9 829.7,585.1 833.3,583.3 C836.9,581.5 840.5,577.5 843.3,575.0 C846.1,572.5 847.8,568.8 850.0,568.3 C852.2,567.8 854.5,568.9 856.7,571.7 C858.9,574.5 861.1,580.3 863.3,585.0 C865.5,589.7 867.6,596.7 870.0,600.0 C872.4,603.3 872.5,601.7 877.5,605.0 C882.5,608.3 895.0,616.5 900.0,620.0 C905.0,623.5 904.5,624.8 907.3,626.2 C910.1,627.6 914.0,629.0 917.0,628.6 C920.0,628.2 922.3,622.8 925.5,623.8 C928.7,624.8 932.1,631.5 936.4,634.7 C940.6,637.9 944.9,641.6 951.0,643.2 C957.1,644.8 967.9,642.6 972.8,644.4 C977.6,646.2 976.9,652.3 980.1,654.1 C983.3,655.9 988.2,653.5 992.2,655.3 C996.2,657.1 1000.0,662.6 1004.4,665.0 C1008.8,667.4 1014.6,667.7 1018.9,669.9 C1023.2,672.1 1026.6,676.5 1030.0,678.3 C1033.4,680.1 1036.7,680.6 1039.1,680.6 C1041.5,680.6 1043.4,682.7 1044.3,678.3 C1045.2,673.9 1043.0,655.7 1044.3,654.2 C1045.6,652.7 1050.2,664.8 1051.9,669.2 C1053.6,673.6 1052.8,678.3 1054.2,680.6 C1055.6,682.9 1058.0,681.4 1060.2,682.8 C1062.5,684.2 1065.7,686.6 1067.7,688.9 C1069.7,691.2 1071.3,692.9 1072.3,696.4 C1073.3,699.9 1072.5,706.6 1073.8,710.0 C1075.0,713.4 1077.8,716.3 1079.8,716.8 C1081.8,717.3 1084.4,714.9 1085.8,713.0 C1087.2,711.1 1086.6,706.5 1088.1,705.5 C1089.6,704.5 1092.2,705.5 1094.9,707.0 C1097.6,708.5 1101.5,712.2 1104.0,714.5 C1106.5,716.8 1107.7,717.0 1110.0,720.6 C1112.3,724.2 1115.5,731.8 1118.0,736.4 C1120.5,741.0 1122.6,743.4 1124.9,748.0 C1127.2,752.6 1129.4,760.5 1131.9,764.2 C1134.4,767.9 1138.7,769.0 1140.0,770.0 L1140.0,910.0 L30.0,910.0 Z" fill="#f2ce7e"/>
<path d="M30.0,781.2 C30.8,781.2 33.5,781.0 35.0,781.2 C36.5,781.5 36.7,783.6 38.8,782.5 C40.9,781.4 43.1,776.5 47.4,774.4 C51.7,772.3 60.2,771.4 64.7,770.0 C69.2,768.6 74.1,767.4 74.4,765.8 C74.8,764.2 68.2,762.9 66.8,760.4 C65.4,757.9 65.1,753.2 65.8,750.7 C66.5,748.2 68.4,745.6 71.2,745.3 C74.0,745.0 79.4,749.0 82.5,748.8 C85.6,748.5 88.3,743.3 90.0,743.8 C91.7,744.2 90.4,749.6 92.5,751.2 C94.6,752.9 101.9,756.0 102.5,753.8 C103.1,751.5 96.7,741.2 96.2,737.5 C95.8,733.8 97.3,733.1 100.0,731.2 C102.7,729.4 110.0,729.4 112.5,726.2 C115.0,723.1 110.4,715.8 115.0,712.5 C119.6,709.2 134.4,705.8 140.0,706.2 C145.6,706.7 145.4,714.0 148.8,715.0 C152.1,716.0 158.5,714.6 160.0,712.5 C161.5,710.4 159.2,704.4 157.5,702.5 C155.8,700.6 150.4,702.9 150.0,701.2 C149.6,699.6 153.3,695.2 155.0,692.5 C156.7,689.8 155.8,685.4 160.0,685.0 C164.2,684.6 174.2,688.5 180.0,690.0 C185.8,691.5 190.0,694.4 195.0,693.8 C200.0,693.1 206.2,689.2 210.0,686.2 C213.8,683.3 214.6,677.5 217.5,676.2 C220.4,675.0 223.8,674.8 227.5,678.8 C231.2,682.7 235.4,695.8 240.0,700.0 C244.6,704.2 250.4,703.3 255.0,703.8 C259.6,704.2 262.1,701.2 267.5,702.5 C272.9,703.8 281.2,710.6 287.5,711.2 C293.8,711.9 297.9,708.3 305.0,706.2 C312.1,704.2 322.5,701.5 330.0,698.8 C337.5,696.0 343.8,692.3 350.0,690.0 C356.2,687.7 362.1,685.0 367.5,685.0 C372.9,685.0 378.3,691.5 382.5,690.0 C386.7,688.5 389.6,678.8 392.5,676.2 C395.4,673.8 398.3,673.8 400.0,675.0 C401.7,676.2 399.2,684.2 402.5,683.8 C405.8,683.3 413.3,673.3 420.0,672.5 C426.7,671.7 437.9,676.7 442.5,678.8 C447.1,680.8 444.6,684.4 447.5,685.0 C450.4,685.6 455.8,682.3 460.0,682.5 C464.2,682.7 468.8,688.5 472.5,686.2 C476.2,684.0 477.5,670.4 482.5,668.8 C487.5,667.1 497.5,677.1 502.5,676.2 C507.5,675.4 508.3,665.6 512.5,663.8 C516.7,661.9 522.5,665.3 527.5,665.0 C532.5,664.7 535.4,661.8 542.5,662.0 C549.6,662.2 562.1,665.8 570.0,666.2 C577.9,666.8 583.8,665.0 590.0,665.0 C596.2,665.0 602.5,664.6 607.5,666.2 C612.5,667.9 616.2,672.7 620.0,675.0 C623.8,677.3 625.8,679.4 630.0,680.0 C634.2,680.6 641.7,677.9 645.0,678.8 C648.3,679.6 649.2,682.3 650.0,685.0 C650.8,687.7 648.8,691.7 650.0,695.0 C651.2,698.3 654.6,701.2 657.5,705.0 C660.4,708.8 662.1,715.0 667.5,717.5 C672.9,720.0 684.2,717.5 690.0,720.0 C695.8,722.5 696.7,728.8 702.5,732.5 C708.3,736.2 719.6,742.1 725.0,742.5 C730.4,742.9 732.1,737.3 735.0,735.0 C737.9,732.7 739.6,728.5 742.5,728.8 C745.4,729.0 747.5,732.7 752.5,736.2 C757.5,739.8 767.1,747.3 772.5,750.0 C777.9,752.7 783.1,749.2 785.0,752.5 C786.9,755.8 780.8,764.6 783.8,770.0 C786.7,775.4 796.5,779.6 802.5,785.0 C808.5,790.4 816.7,798.1 820.0,802.5 C823.3,806.9 820.0,810.6 822.5,811.2 C825.0,811.9 830.8,805.8 835.0,806.2 C839.2,806.7 843.3,812.3 847.5,813.8 C851.7,815.2 855.4,812.9 860.0,815.0 C864.6,817.1 870.4,824.8 875.0,826.2 C879.6,827.7 882.5,823.8 887.5,823.8 C892.5,823.8 900.8,826.7 905.0,826.2 C909.2,825.8 911.7,824.0 912.5,821.2 C913.3,818.5 909.8,814.3 910.0,810.0 C910.2,805.7 912.5,796.6 913.9,795.5 C915.3,794.4 917.8,801.1 918.6,803.6 C919.4,806.1 917.8,809.2 918.6,810.6 C919.4,812.0 920.5,812.1 923.2,811.7 C925.9,811.3 930.9,809.8 934.8,808.3 C938.7,806.8 941.0,804.0 946.4,802.5 C951.8,801.0 963.3,797.3 967.2,799.0 C971.1,800.7 967.7,809.0 969.6,812.9 C971.5,816.8 973.8,819.1 978.8,822.2 C983.8,825.3 993.5,828.3 999.7,831.4 C1005.9,834.5 1011.8,837.6 1016.0,840.7 C1020.2,843.8 1024.0,846.5 1025.2,850.0 C1026.4,853.5 1020.6,859.9 1022.9,861.6 C1025.2,863.3 1037.9,861.2 1039.1,860.4 C1040.3,859.6 1031.8,858.7 1029.9,857.0 C1028.0,855.3 1026.3,851.8 1027.5,850.0 C1028.7,848.2 1032.9,846.1 1036.8,846.5 C1040.7,846.9 1046.5,849.8 1050.7,852.3 C1055.0,854.8 1061.1,858.9 1062.3,861.6 C1063.5,864.3 1056.9,866.3 1057.7,868.6 C1058.5,870.9 1063.3,872.8 1067.0,875.5 C1070.7,878.2 1075.3,881.8 1080.0,885.0 C1084.7,888.2 1091.7,892.2 1095.0,895.0 C1098.3,897.8 1099.2,899.5 1100.0,902.0 C1100.8,904.5 1100.0,908.7 1100.0,910.0 L30.0,910.0 Z" fill="#fee882"/>
<path d="M180.0,878.8 C181.2,876.2 187.5,870.6 190.0,867.5 C192.5,864.4 194.6,866.0 195.0,860.0 C195.4,854.0 190.0,835.8 192.5,831.2 C195.0,826.7 206.2,834.6 210.0,832.5 C213.8,830.4 212.1,819.4 215.0,818.8 C217.9,818.1 226.2,825.2 227.5,828.8 C228.8,832.3 221.5,836.7 222.5,840.0 C223.5,843.3 230.8,848.8 233.8,848.8 C236.7,848.8 237.7,843.1 240.0,840.0 C242.3,836.9 245.2,833.8 247.5,830.0 C249.8,826.2 252.1,820.4 253.8,817.5 C255.4,814.6 255.6,813.4 257.5,812.5 C259.4,811.6 263.2,812.4 265.0,812.4 C266.8,812.4 267.2,812.2 268.5,812.8 C269.8,813.4 270.8,815.8 272.8,816.2 C274.8,816.6 278.5,814.8 280.5,815.4 C282.5,816.0 283.1,820.7 284.8,820.1 C286.5,819.5 289.0,813.8 290.9,811.9 C292.8,810.0 294.8,808.8 296.1,808.5 C297.4,808.2 298.0,809.2 298.6,810.2 C299.2,811.2 299.8,811.8 299.5,814.5 C299.2,817.2 296.9,822.9 296.9,826.6 C296.9,830.3 298.1,835.5 299.5,836.9 C300.9,838.3 303.3,835.2 305.6,835.2 C307.9,835.2 310.7,835.9 313.3,836.9 C315.9,837.9 318.5,841.4 321.1,841.3 C323.7,841.2 327.4,838.0 328.8,836.1 C330.2,834.2 330.6,831.1 329.3,830.0 C328.0,828.9 323.2,830.2 321.1,829.6 C319.0,829.0 317.4,828.5 316.8,826.6 C316.2,824.7 316.3,820.0 317.6,818.0 C318.9,816.0 321.2,814.4 324.5,814.5 C327.8,814.6 333.6,819.1 337.1,818.8 C340.6,818.4 343.4,813.1 345.7,812.4 C348.0,811.7 350.6,815.9 350.9,814.5 C351.2,813.1 349.0,806.8 347.4,804.2 C345.8,801.6 343.3,799.7 341.4,799.0 C339.5,798.3 337.5,800.9 336.2,799.9 C334.9,798.9 334.0,795.2 333.6,793.0 C333.2,790.8 332.8,788.2 333.6,786.9 C334.4,785.6 337.2,786.9 338.4,785.2 C339.6,783.5 339.9,779.7 341.0,776.6 C342.1,773.5 342.9,768.3 344.8,766.6 C346.7,764.9 352.0,766.1 352.6,766.6 C353.2,767.1 349.3,768.2 348.7,769.7 C348.1,771.2 348.1,773.9 349.2,775.7 C350.3,777.5 352.5,779.2 355.2,780.5 C357.9,781.8 362.6,781.7 365.6,783.5 C368.6,785.3 371.4,788.5 373.3,791.2 C375.2,793.9 376.4,796.3 376.8,799.9 C377.2,803.5 374.5,808.8 375.9,812.8 C377.3,816.8 383.2,822.1 385.4,824.0 C387.5,825.9 386.8,825.1 388.8,824.0 C390.8,822.9 394.8,820.0 397.5,817.1 C400.2,814.2 403.3,809.6 405.0,806.8 C406.7,803.9 405.8,802.6 407.5,800.0 C409.2,797.4 412.5,790.6 415.0,791.2 C417.5,791.9 418.8,803.5 422.5,803.8 C426.2,804.0 433.3,793.1 437.5,792.5 C441.7,791.9 443.8,798.5 447.5,800.0 C451.2,801.5 456.2,801.5 460.0,801.2 C463.8,801.0 465.0,798.5 470.0,798.8 C475.0,799.0 484.2,802.3 490.0,802.5 C495.8,802.7 498.3,798.8 505.0,800.0 C511.7,801.2 523.3,806.9 530.0,810.0 C536.7,813.1 540.4,816.2 545.0,818.8 C549.6,821.2 553.8,825.0 557.5,825.0 C561.2,825.0 564.6,819.0 567.5,818.8 C570.4,818.5 573.3,820.6 575.0,823.8 C576.7,826.9 575.7,833.1 577.5,837.5 C579.3,841.9 582.9,846.4 585.8,850.0 C588.7,853.6 591.3,856.2 595.0,859.2 C598.7,862.2 602.6,866.8 607.8,868.3 C613.0,869.8 621.9,867.7 626.2,868.3 C630.5,868.9 630.8,870.5 633.5,872.0 C636.2,873.5 640.0,875.0 642.7,877.5 C645.5,880.0 647.6,882.7 650.0,886.7 C652.4,890.7 656.0,897.4 657.3,901.3 C658.6,905.2 731.7,908.5 658.0,910.0 C584.3,911.5 290.5,913.3 215.0,910.0 C139.5,906.7 210.4,894.6 205.0,890.0 C199.6,885.4 186.7,884.4 182.5,882.5 C178.3,880.6 178.8,881.2 180.0,878.8 Z" fill="#fae800" />
<path d="M143.8,865.0 C144.4,862.1 144.4,860.8 147.5,857.5 C150.6,854.2 157.7,845.2 162.5,845.0 C167.3,844.8 174.2,852.1 176.2,856.2 C178.3,860.4 177.7,865.4 175.0,870.0 C172.3,874.6 164.6,880.8 160.0,883.8 C155.4,886.7 150.2,889.0 147.5,887.5 C144.8,886.0 144.4,878.8 143.8,875.0 C143.1,871.2 143.1,867.9 143.8,865.0 Z" fill="#fae800" />
<path d="M231.0,800.0 C231.8,798.8 234.8,798.7 238.0,801.0 C241.2,803.3 249.5,811.8 250.0,814.0 C250.5,816.2 243.8,815.0 241.0,814.0 C238.2,813.0 234.7,810.3 233.0,808.0 C231.3,805.7 230.2,801.2 231.0,800.0 Z" fill="#fae800" />
<path d="M302.5,813.0 C303.1,811.5 304.6,809.7 306.0,808.0 C307.4,806.3 309.3,804.4 311.0,803.0 C312.7,801.6 314.5,800.0 316.0,799.8 C317.5,799.6 319.1,801.0 320.0,802.0 C320.9,803.0 321.8,804.2 321.5,806.0 C321.2,807.8 318.9,810.8 318.0,813.0 C317.1,815.2 317.5,817.0 316.0,819.0 C314.5,821.0 311.0,824.2 309.0,824.9 C307.0,825.6 305.1,824.3 304.0,823.0 C302.9,821.7 302.8,818.7 302.5,817.0 C302.2,815.3 301.9,814.5 302.5,813.0 Z" fill="#fae800" />
<path d="M323.0,789.0 C323.5,787.8 325.2,787.1 326.0,787.8 C326.8,788.5 326.5,791.2 327.5,793.0 C328.5,794.8 331.8,796.8 332.0,798.5 C332.2,800.2 329.8,802.8 328.5,803.0 C327.2,803.2 324.9,801.3 324.0,800.0 C323.1,798.7 323.2,796.8 323.0,795.0 C322.8,793.2 322.5,790.2 323.0,789.0 Z" fill="#fae800" />
<path d="M373.7,771.4 C374.0,770.1 375.9,768.3 377.6,767.9 C379.3,767.5 382.1,768.1 383.7,768.8 C385.3,769.5 386.2,770.9 387.1,772.3 C388.0,773.7 388.2,776.0 388.8,777.4 C389.4,778.8 390.9,779.8 391.0,780.9 C391.1,782.0 390.6,783.8 389.7,783.9 C388.8,784.0 387.0,782.3 385.4,781.3 C383.8,780.3 381.8,778.8 380.2,777.9 C378.6,777.0 377.0,776.8 375.9,775.7 C374.8,774.6 373.4,772.7 373.7,771.4 Z" fill="#fae800" />
<path d="M1055.4,138.2 C1057.0,136.8 1062.0,136.9 1064.2,135.3 C1066.4,133.7 1067.5,129.7 1068.8,128.8 C1070.1,127.9 1072.5,128.8 1072.3,130.0 C1072.1,131.2 1068.8,132.9 1067.7,135.8 C1066.6,138.7 1067.1,144.6 1065.9,147.5 C1064.7,150.4 1062.5,152.7 1060.7,153.3 C1059.0,153.9 1056.4,152.6 1055.4,151.0 C1054.4,149.4 1054.8,146.1 1054.8,144.0 C1054.8,141.9 1053.8,139.6 1055.4,138.2 Z" fill="#d87a3c" />
<ellipse cx="146.5" cy="368" rx="3" ry="4" transform="rotate(0 146.5 368)" fill="#e4569e" stroke="none" stroke-width="1"/>
<path d="M77.5,532.0 C78.7,530.8 83.9,530.7 85.0,532.0 C86.1,533.3 85.2,538.8 84.0,540.0 C82.8,541.2 79.1,540.3 78.0,539.0 C76.9,537.7 76.3,533.2 77.5,532.0 Z" fill="#d87a3c" />
<path d="M955.0,421.0 C954.7,419.5 960.5,412.0 962.0,412.0 C963.5,412.0 965.2,419.5 964.0,421.0 C962.8,422.5 955.3,422.5 955.0,421.0 Z" fill="#eaa44c" />
<ellipse cx="540" cy="503.5" rx="4.5" ry="3.5" transform="rotate(30 540 503.5)" fill="#e48a3c" stroke="none" stroke-width="1"/>
<ellipse cx="556.5" cy="531" rx="3" ry="4.5" transform="rotate(-20 556.5 531)" fill="#e48a3c" stroke="none" stroke-width="1"/>
<ellipse cx="593.5" cy="494" rx="2.8" ry="3" transform="rotate(0 593.5 494)" fill="#e48a3c" stroke="none" stroke-width="1"/>
<ellipse cx="885" cy="450" rx="2.5" ry="2.5" transform="rotate(0 885 450)" fill="#e48a3c" stroke="none" stroke-width="1"/>
<path d="M966.0,278.3 C967.3,277.8 974.2,277.6 976.0,278.0 C977.8,278.4 976.9,279.8 976.7,281.0 C976.5,282.2 976.5,285.0 975.0,285.0 C973.5,285.0 969.5,282.1 968.0,281.0 C966.5,279.9 964.7,278.8 966.0,278.3 Z" fill="#d87a3c" />
<path d="M982.0,289.5 C982.0,288.4 983.1,286.3 983.6,286.3 C984.1,286.3 985.3,288.4 985.3,289.5 C985.3,290.6 984.1,293.0 983.6,293.0 C983.1,293.0 982.0,290.6 982.0,289.5 Z" fill="#d87a3c" />
<path d="M526.5,313.0 C527.7,313.0 530.0,315.3 530.0,316.5 C530.0,317.7 527.7,320.0 526.5,320.0 C525.3,320.0 523.0,317.7 523.0,316.5 C523.0,315.3 525.3,313.0 526.5,313.0 Z" fill="#d87a3c" />
<path d="M504.0,465.0 C505.8,464.6 514.6,464.4 517.0,465.8 C519.4,467.2 519.2,472.0 518.5,473.5 C517.8,475.0 515.1,475.9 513.0,475.0 C510.9,474.1 507.5,469.7 506.0,468.0 C504.5,466.3 502.2,465.4 504.0,465.0 Z" fill="#e48a3c" />
<ellipse cx="342.5" cy="553.5" rx="7" ry="3.5" transform="rotate(50 342.5 553.5)" fill="#f2ce7e" stroke="none" stroke-width="1"/>
<ellipse cx="627" cy="514" rx="4.5" ry="5.2" transform="rotate(0 627 514)" fill="#f2ce7e" stroke="none" stroke-width="1"/>
<ellipse cx="610" cy="498" rx="3.6" ry="2.4" transform="rotate(0 610 498)" fill="#f2ce7e" stroke="none" stroke-width="1"/>
<ellipse cx="582" cy="543.8" rx="2.8" ry="2" transform="rotate(0 582 543.8)" fill="#f2ce7e" stroke="none" stroke-width="1"/>
<path d="M1036.0,688.9 C1037.8,686.1 1043.6,686.6 1046.6,687.4 C1049.6,688.1 1052.2,689.9 1054.2,693.4 C1056.2,696.9 1058.5,705.4 1058.7,708.5 C1059.0,711.6 1058.5,711.8 1055.7,712.3 C1052.9,712.8 1045.4,712.9 1042.1,711.5 C1038.8,710.1 1037.0,707.8 1036.0,704.0 C1035.0,700.2 1034.2,691.7 1036.0,688.9 Z" fill="#eaa44c" />
<ellipse cx="1064" cy="674.5" rx="3" ry="3.8" transform="rotate(0 1064 674.5)" fill="#f2ce7e" stroke="none" stroke-width="1"/>
<ellipse cx="1076" cy="675.6" rx="2.3" ry="3.4" transform="rotate(0 1076 675.6)" fill="#f2ce7e" stroke="none" stroke-width="1"/>
<path d="M1080.0,680.0 C1081.5,680.2 1082.4,685.3 1084.0,688.0 C1085.6,690.7 1090.3,695.4 1089.6,696.4 C1088.9,697.4 1082.4,695.6 1080.0,694.0 C1077.6,692.4 1075.3,689.3 1075.3,687.0 C1075.3,684.7 1078.5,679.8 1080.0,680.0 Z" fill="#f2ce7e" />
<ellipse cx="49" cy="795.5" rx="9" ry="5.5" transform="rotate(15 49 795.5)" fill="#f2ce7e" stroke="none" stroke-width="1"/>
<ellipse cx="883.5" cy="809" rx="6.5" ry="5" transform="rotate(0 883.5 809)" fill="#fee882" stroke="none" stroke-width="1"/>
<ellipse cx="927" cy="799" rx="3" ry="4" transform="rotate(0 927 799)" fill="#fee882" stroke="none" stroke-width="1"/>
<ellipse cx="342.5" cy="793" rx="2.2" ry="2.6" transform="rotate(0 342.5 793)" fill="#fee882" stroke="none" stroke-width="1"/>
<ellipse cx="291.5" cy="823" rx="3.2" ry="1.5" transform="rotate(0 291.5 823)" fill="#fee882" stroke="none" stroke-width="1"/>
<path d="M30.0,171.0 C30.8,171.0 30.0,170.5 35.0,171.2 C40.0,172.0 51.0,176.2 60.0,175.5 C69.0,174.8 79.5,169.4 89.2,167.3 C98.9,165.2 108.4,163.7 118.3,162.7 C128.2,161.7 140.9,162.2 148.7,161.5 C156.5,160.8 160.3,159.0 165.0,158.6 C169.7,158.2 172.8,158.5 176.7,159.2 C180.6,159.9 183.6,161.1 188.3,162.7 C193.0,164.3 200.1,168.2 205.0,169.0 C209.9,169.8 213.3,166.7 217.5,167.5 C221.7,168.3 225.3,173.4 230.0,173.6 C234.7,173.8 240.0,168.7 245.8,168.8 C251.6,168.9 258.2,174.5 264.8,174.4 C271.4,174.3 276.7,168.9 285.4,168.0 C294.1,167.1 307.9,169.5 317.1,168.8 C326.3,168.2 331.6,166.1 340.8,164.1 C350.0,162.1 363.3,158.6 372.5,157.0 C381.7,155.4 388.3,156.1 396.2,154.6 C404.1,153.1 413.5,149.8 420.0,148.2 C426.5,146.6 430.0,146.6 435.0,145.0 C440.0,143.4 444.2,140.8 450.0,138.8 C455.8,136.7 460.8,134.8 470.0,132.5 C479.2,130.2 494.2,126.0 505.0,125.0 C515.8,124.0 522.5,127.7 535.0,126.2 C547.5,124.8 568.3,119.2 580.0,116.2 C591.7,113.3 597.1,111.0 605.0,108.8 C612.9,106.5 622.5,104.6 627.5,102.5 C632.5,100.4 633.8,97.1 635.0,96.0" fill="none" stroke="#fff" stroke-width="1.0" stroke-linejoin="round" stroke-opacity="0.9"/>
<path d="M30.0,202.5 C30.8,202.5 30.4,202.4 35.0,202.5 C39.6,202.6 47.9,204.9 57.5,203.0 C67.1,201.1 82.9,193.8 92.5,191.0 C102.1,188.2 107.9,186.2 115.0,186.0 C122.1,185.8 129.2,189.8 135.0,190.0 C140.8,190.2 142.5,186.9 150.0,187.5 C157.5,188.1 173.8,191.7 180.0,193.8 C186.2,195.8 184.2,199.6 187.5,200.0 C190.8,200.4 194.6,194.2 200.0,196.0 C205.4,197.8 212.4,208.7 220.0,211.0 C227.6,213.3 238.9,211.0 245.8,210.0 C252.8,209.0 255.1,205.2 261.7,205.2 C268.3,205.2 276.2,209.5 285.4,210.0 C294.6,210.5 307.9,210.0 317.1,208.4 C326.3,206.8 331.6,203.5 340.8,200.5 C350.0,197.5 363.3,192.4 372.5,190.2 C381.7,187.9 388.3,188.4 396.2,187.0 C404.1,185.6 413.5,183.1 420.0,181.5 C426.5,179.9 429.2,178.4 435.0,177.5 C440.8,176.6 449.2,177.5 455.0,176.2 C460.8,175.0 463.8,172.9 470.0,170.0 C476.2,167.1 484.2,161.5 492.5,158.8 C500.8,156.0 512.5,154.4 520.0,153.8 C527.5,153.1 530.0,155.4 537.5,155.0 C545.0,154.6 555.8,152.3 565.0,151.2 C574.2,150.2 584.6,149.6 592.5,148.8 C600.4,147.9 606.2,147.9 612.5,146.2 C618.8,144.6 622.1,142.8 630.0,139.0 C637.9,135.2 651.7,127.8 660.0,123.8 C668.3,119.8 672.9,118.5 680.0,115.0 C687.1,111.5 697.2,105.7 702.5,102.5 C707.8,99.3 710.4,97.1 712.0,96.0" fill="none" stroke="#fff" stroke-width="1.0" stroke-linejoin="round" stroke-opacity="0.9"/>
<path d="M30.0,231.0 C30.8,231.0 30.8,231.3 35.0,231.0 C39.2,230.7 47.5,230.8 55.0,229.0 C62.5,227.2 71.7,221.9 80.0,220.0 C88.3,218.1 95.4,217.7 105.0,217.5 C114.6,217.3 128.8,216.1 137.5,219.0 C146.2,221.9 152.1,233.2 157.5,235.0 C162.9,236.8 165.0,230.7 170.0,230.0 C175.0,229.3 181.7,230.0 187.5,231.0 C193.3,232.0 197.9,233.8 205.0,236.0 C212.1,238.2 223.2,243.2 230.0,244.0 C236.8,244.8 241.1,241.0 245.8,240.9 C250.6,240.8 254.8,243.9 258.5,243.2 C262.2,242.5 263.8,237.2 268.0,236.9 C272.2,236.7 276.9,241.7 283.8,241.7 C290.7,241.7 299.7,237.8 309.2,236.9 C318.7,236.0 332.3,236.9 340.8,236.1 C349.3,235.3 354.8,233.4 360.0,231.9 C365.2,230.4 369.1,228.5 371.9,227.1 C374.7,225.7 373.6,225.0 376.6,223.6 C379.6,222.2 383.6,219.6 390.0,218.8 C396.4,217.9 408.3,219.6 415.0,218.8 C421.7,217.9 424.2,214.8 430.0,213.8 C435.8,212.7 444.6,213.8 450.0,212.5 C455.4,211.2 457.5,207.5 462.5,206.2 C467.5,205.0 475.0,207.1 480.0,205.0 C485.0,202.9 485.4,197.5 492.5,193.8 C499.6,190.0 514.2,184.0 522.5,182.5 C530.8,181.0 535.0,185.6 542.5,185.0 C550.0,184.4 560.0,179.2 567.5,178.8 C575.0,178.3 581.2,183.3 587.5,182.5 C593.8,181.7 597.9,176.6 605.0,173.8 C612.1,170.9 621.7,168.8 630.0,165.5 C638.3,162.2 648.3,157.0 655.0,153.8 C661.7,150.5 664.2,149.0 670.0,146.2 C675.8,143.5 684.2,140.4 690.0,137.5 C695.8,134.6 698.3,132.5 705.0,128.8 C711.7,125.0 720.8,119.4 730.0,115.0 C739.2,110.6 753.3,105.7 760.0,102.5 C766.7,99.3 768.3,97.1 770.0,96.0" fill="none" stroke="#fff" stroke-width="1.0" stroke-linejoin="round" stroke-opacity="0.9"/>
<path d="M30.0,281.7 C30.8,281.7 33.0,282.0 35.0,281.7 C37.0,281.4 39.8,281.7 41.7,280.0 C43.7,278.3 42.7,273.5 46.7,271.7 C50.7,269.9 62.8,273.6 65.8,269.2 C68.8,264.8 63.5,250.9 65.0,245.0 C66.5,239.1 71.2,235.0 75.0,234.0 C78.8,233.0 81.7,237.3 87.5,238.8 C93.3,240.2 105.3,239.8 110.0,242.5 C114.7,245.2 114.7,251.2 115.8,255.0 C116.9,258.8 115.5,262.2 116.7,265.0 C118.0,267.8 121.1,271.0 123.3,271.7 C125.5,272.4 126.7,269.6 130.0,269.2 C133.3,268.8 139.1,268.5 143.3,269.2 C147.5,269.9 151.7,271.5 155.0,273.3 C158.3,275.1 160.8,280.6 163.3,280.0 C165.8,279.4 165.8,272.4 170.0,270.0 C174.2,267.6 183.3,266.6 188.3,265.8 C193.3,265.0 195.4,265.5 200.0,265.3 C204.6,265.1 208.2,262.9 216.0,264.7 C223.8,266.5 236.0,274.6 246.7,276.0 C257.4,277.4 269.6,274.2 280.0,273.3 C290.4,272.4 304.2,271.8 309.3,270.7 C314.4,269.6 308.9,266.7 310.7,266.7 C312.5,266.7 317.1,269.6 320.0,270.7 C322.9,271.8 324.7,273.9 328.0,273.3 C331.3,272.7 334.7,269.1 340.0,267.3 C345.3,265.5 354.1,264.2 360.0,262.4 C365.9,260.5 369.5,258.3 375.4,256.2 C381.3,254.1 389.3,250.7 395.6,249.7 C401.9,248.7 407.5,250.3 413.4,250.2 C419.3,250.1 424.3,249.6 431.2,249.1 C438.1,248.6 449.0,248.2 454.9,247.3 C460.8,246.4 461.9,246.1 466.8,243.7 C471.8,241.3 478.2,235.7 484.6,233.0 C491.0,230.3 498.7,228.4 505.0,227.5 C511.3,226.6 515.8,229.2 522.5,227.5 C529.2,225.8 538.8,220.4 545.0,217.5 C551.2,214.6 554.2,211.5 560.0,210.0 C565.8,208.5 572.5,210.4 580.0,208.8 C587.5,207.1 596.7,202.5 605.0,200.0 C613.3,197.5 621.7,196.9 630.0,193.8 C638.3,190.6 647.5,183.5 655.0,181.2 C662.5,179.0 668.3,181.5 675.0,180.0 C681.7,178.5 688.3,175.4 695.0,172.5 C701.7,169.6 709.2,166.0 715.0,162.5 C720.8,159.0 724.6,156.0 730.0,151.2 C735.4,146.5 740.8,138.5 747.5,133.8 C754.2,129.0 762.1,124.9 770.0,122.5 C777.9,120.1 788.3,119.5 795.0,119.5 C801.7,119.5 805.0,123.2 810.0,122.5 C815.0,121.8 819.2,117.3 825.0,115.0 C830.8,112.7 839.2,110.8 845.0,108.8 C850.8,106.7 856.2,104.6 860.0,102.5 C863.8,100.4 866.7,97.1 868.0,96.0" fill="none" stroke="#fff" stroke-width="1.0" stroke-linejoin="round" stroke-opacity="0.9"/>
<path d="M30.0,335.0 C30.8,335.0 30.8,337.2 35.0,335.0 C39.2,332.8 47.5,325.9 55.0,321.7 C62.5,317.5 73.0,312.2 80.0,310.0 C87.0,307.8 90.6,309.3 96.7,308.3 C102.8,307.3 110.0,304.2 116.7,304.2 C123.4,304.2 128.4,307.9 136.7,308.3 C145.0,308.7 158.4,308.9 166.7,306.7 C175.0,304.5 182.0,297.2 186.7,295.0 C191.4,292.8 192.8,292.8 195.0,293.3 C197.2,293.9 198.5,296.1 200.0,298.3 C201.5,300.5 203.8,304.4 204.0,306.7 C204.2,309.0 200.6,310.0 201.3,312.0 C202.0,314.0 203.8,318.0 208.0,318.7 C212.2,319.4 218.7,316.4 226.7,316.0 C234.7,315.6 248.0,318.2 256.0,316.0 C264.0,313.8 268.5,305.4 274.7,302.7 C280.9,300.0 285.8,300.2 293.3,300.0 C300.9,299.8 314.7,300.1 320.0,301.3 C325.3,302.5 323.5,306.6 325.3,307.3 C327.1,308.0 328.9,307.0 330.7,305.3 C332.5,303.6 331.1,298.7 336.0,297.3 C340.9,295.9 354.8,298.5 360.0,297.1 C365.2,295.7 363.2,290.6 367.1,288.8 C371.1,287.0 377.0,288.4 383.7,286.4 C390.4,284.4 401.7,277.5 407.4,276.9 C413.1,276.3 414.1,282.8 418.1,282.9 C422.1,283.0 424.1,278.7 431.2,277.5 C438.3,276.3 454.5,277.5 460.8,275.8 C467.1,274.1 465.1,269.3 469.1,267.4 C473.1,265.5 479.5,264.4 484.6,264.5 C489.8,264.6 494.1,269.4 500.0,268.0 C505.9,266.6 512.5,259.2 520.0,256.2 C527.5,253.2 537.5,252.3 545.0,250.0 C552.5,247.7 557.5,244.8 565.0,242.5 C572.5,240.2 581.7,239.4 590.0,236.2 C598.3,233.1 608.3,226.1 615.0,223.8 C621.7,221.4 625.4,222.0 630.0,222.0 C634.6,222.0 637.5,225.3 642.5,223.8 C647.5,222.2 653.8,216.0 660.0,212.5 C666.2,209.0 672.5,205.0 680.0,202.5 C687.5,200.0 697.5,199.8 705.0,197.5 C712.5,195.2 717.5,193.8 725.0,188.8 C732.5,183.8 742.5,172.1 750.0,167.5 C757.5,162.9 763.3,162.5 770.0,161.2 C776.7,160.0 786.0,161.5 790.0,160.0 C794.0,158.5 790.4,152.8 793.8,152.0 C797.1,151.2 804.0,156.2 810.0,155.0 C816.0,153.8 824.2,147.1 830.0,145.0 C835.8,142.9 838.3,145.0 845.0,142.5 C851.7,140.0 862.5,134.0 870.0,130.0 C877.5,126.0 885.2,120.2 890.0,118.8 C894.8,117.3 895.4,124.0 898.8,121.2 C902.1,118.5 907.3,106.7 910.0,102.5 C912.7,98.3 914.2,97.1 915.0,96.0" fill="none" stroke="#fff" stroke-width="1.0" stroke-linejoin="round" stroke-opacity="0.9"/>
<path d="M30.0,396.2 C30.8,396.2 32.5,397.3 35.0,396.2 C37.5,395.2 40.4,391.9 45.0,390.0 C49.6,388.1 56.7,388.1 62.5,385.0 C68.3,381.9 72.9,375.3 80.0,371.7 C87.1,368.1 97.0,366.6 105.0,363.3 C113.0,360.0 123.0,352.8 128.3,351.7 C133.6,350.6 133.6,355.4 136.7,356.7 C139.8,357.9 142.3,360.6 146.7,359.2 C151.1,357.8 158.3,349.6 163.3,348.3 C168.3,347.1 172.2,349.5 176.7,351.7 C181.1,353.9 186.9,359.2 190.0,361.7 C193.1,364.2 193.6,367.0 195.0,366.7 C196.4,366.4 195.2,362.0 198.3,360.0 C201.4,358.0 205.2,355.6 213.3,354.7 C221.4,353.8 237.8,356.0 246.7,354.7 C255.6,353.4 260.0,348.8 266.7,346.7 C273.4,344.6 282.3,343.3 286.7,342.0 C291.1,340.7 291.3,338.7 293.3,338.7 C295.3,338.7 295.6,341.8 298.7,342.0 C301.8,342.2 309.3,342.1 312.0,340.0 C314.7,337.9 312.2,331.1 314.7,329.3 C317.1,327.5 322.5,328.1 326.7,329.3 C330.9,330.5 335.6,335.8 340.0,336.7 C344.4,337.6 350.0,336.6 353.3,334.7 C356.6,332.8 357.3,329.0 360.0,325.3 C362.7,321.6 365.9,315.8 369.5,312.5 C373.1,309.2 377.0,305.4 381.4,305.4 C385.8,305.4 390.9,310.9 395.6,312.5 C400.3,314.1 404.9,314.1 409.8,314.9 C414.7,315.7 420.1,318.1 425.2,317.3 C430.3,316.5 436.1,313.4 440.7,310.2 C445.2,307.0 448.6,301.3 452.5,298.3 C456.4,295.3 460.0,293.3 464.4,292.4 C468.8,291.5 475.1,292.4 478.6,293.0 C482.2,293.6 482.1,296.2 485.7,295.9 C489.3,295.6 493.4,292.8 500.0,291.2 C506.6,289.6 518.3,288.1 525.0,286.2 C531.7,284.4 534.2,281.9 540.0,280.0 C545.8,278.1 553.3,277.1 560.0,275.0 C566.7,272.9 572.9,270.8 580.0,267.5 C587.1,264.2 596.7,258.3 602.5,255.0 C608.3,251.7 610.4,249.0 615.0,247.5 C619.6,246.0 623.8,246.6 630.0,246.0 C636.2,245.4 644.2,246.6 652.5,243.8 C660.8,240.9 671.2,232.5 680.0,228.8 C688.8,225.0 696.7,223.8 705.0,221.2 C713.3,218.8 722.9,215.6 730.0,213.8 C737.1,211.9 742.5,211.2 747.5,210.0 C752.5,208.8 755.4,204.6 760.0,206.2 C764.6,207.9 770.8,218.5 775.0,220.0 C779.2,221.5 782.9,218.8 785.0,215.0 C787.1,211.2 784.6,201.9 787.5,197.5 C790.4,193.1 795.8,191.7 802.5,188.8 C809.2,185.8 821.7,181.5 827.5,180.0 C833.3,178.5 834.6,181.2 837.5,180.0 C840.4,178.8 841.2,173.8 845.0,172.5 C848.8,171.2 854.2,174.4 860.0,172.5 C865.8,170.6 873.3,165.8 880.0,161.2 C886.7,156.7 895.0,148.0 900.0,145.0 C905.0,142.0 905.7,145.8 909.7,143.5 C913.8,141.2 920.2,134.0 924.3,131.4 C928.3,128.8 932.2,130.2 934.0,127.8 C935.8,125.4 934.2,118.4 935.2,116.8 C936.2,115.2 938.4,116.4 940.0,118.0 C941.6,119.6 942.5,125.6 944.9,126.6 C947.3,127.6 952.6,126.9 954.6,124.1 C956.6,121.3 955.2,113.2 957.0,109.6 C958.8,106.0 963.3,104.6 965.5,102.3 C967.7,100.0 969.2,97.0 970.0,96.0" fill="none" stroke="#fff" stroke-width="1.0" stroke-linejoin="round" stroke-opacity="0.9"/>
<path d="M30.0,443.8 C30.8,443.8 32.5,443.8 35.0,443.8 C37.5,443.8 40.8,444.4 45.0,443.8 C49.2,443.1 54.2,441.5 60.0,440.0 C65.8,438.5 75.8,435.4 80.0,435.0 C84.2,434.6 82.5,438.3 85.0,437.5 C87.5,436.7 90.8,432.2 95.0,430.0 C99.2,427.8 105.3,425.6 110.0,424.0 C114.7,422.4 118.8,423.5 123.3,420.7 C127.8,417.9 134.0,410.4 136.7,407.3 C139.4,404.2 138.3,402.0 139.3,402.0 C140.3,402.0 141.7,407.3 142.7,407.3 C143.7,407.3 143.9,403.1 145.3,402.0 C146.7,400.9 149.0,399.8 151.3,400.7 C153.6,401.6 156.2,407.3 159.3,407.3 C162.4,407.3 165.8,400.7 170.0,400.7 C174.2,400.7 179.1,404.5 184.7,407.3 C190.2,410.1 198.0,415.9 203.3,417.3 C208.6,418.8 213.8,416.9 216.7,416.0 C219.6,415.1 217.1,411.8 220.7,412.0 C224.2,412.2 233.6,417.6 238.0,417.3 C242.4,417.0 242.0,413.0 247.3,410.0 C252.6,407.0 261.9,401.6 270.0,399.3 C278.1,397.0 286.9,397.7 295.8,396.3 C304.7,394.9 315.7,393.1 323.3,390.8 C330.9,388.5 335.6,385.4 341.7,382.5 C347.8,379.6 353.9,375.8 360.0,373.3 C366.1,370.9 372.8,369.2 378.3,367.8 C383.8,366.4 387.5,366.8 393.0,365.0 C398.5,363.2 405.1,358.3 411.3,356.8 C417.5,355.3 422.7,358.0 430.0,356.2 C437.3,354.5 448.3,348.5 455.0,346.2 C461.7,344.0 464.2,343.8 470.0,342.5 C475.8,341.2 485.8,338.5 490.0,338.8 C494.2,339.0 489.6,345.3 495.0,343.8 C500.4,342.2 516.0,332.2 522.5,329.4 C529.0,326.6 531.0,328.8 533.8,326.9 C536.5,325.0 536.9,319.2 538.8,318.1 C540.6,317.0 543.5,319.5 545.0,320.0 C546.5,320.5 542.9,321.8 547.5,321.2 C552.1,320.7 563.5,319.7 572.5,316.9 C581.5,314.1 595.0,307.7 601.2,304.4 C607.5,301.1 607.7,299.4 610.0,297.0 C612.3,294.6 613.3,292.2 615.0,290.0 C616.7,287.8 617.5,285.2 620.0,283.8 C622.5,282.2 626.2,283.7 630.0,281.0 C633.8,278.3 637.9,268.7 642.5,267.5 C647.1,266.3 652.9,271.9 657.5,273.8 C662.1,275.6 664.2,279.4 670.0,278.8 C675.8,278.1 688.1,274.4 692.5,270.0 C696.9,265.6 693.3,255.2 696.2,252.5 C699.2,249.8 705.2,251.5 710.0,253.8 C714.8,256.0 721.2,265.6 725.0,266.2 C728.8,266.9 728.5,257.4 732.5,257.5 C736.5,257.6 743.8,268.5 748.8,267.0 C753.8,265.5 756.5,253.5 762.5,248.8 C768.5,244.0 780.4,240.8 785.0,238.8 C789.6,236.7 788.1,236.0 790.0,236.2 C791.9,236.5 793.4,241.0 796.2,240.0 C799.1,239.0 805.0,233.3 807.0,230.0 C809.0,226.7 807.3,222.2 808.0,220.0 C808.7,217.8 809.8,216.7 811.0,216.5 C812.2,216.3 813.8,217.3 815.0,219.0 C816.2,220.7 816.3,225.4 818.0,226.5 C819.7,227.6 820.1,226.0 825.0,225.5 C829.9,225.0 838.3,225.1 847.5,223.8 C856.7,222.4 871.2,219.1 880.0,217.5 C888.8,215.9 895.0,216.1 900.0,213.9 C905.0,211.7 905.7,207.4 909.7,204.2 C913.8,201.0 919.0,196.9 924.3,194.5 C929.6,192.1 934.8,192.5 941.3,189.7 C947.8,186.9 956.2,181.8 963.1,177.5 C970.0,173.2 976.8,166.8 982.5,164.2 C988.2,161.6 991.8,163.3 997.1,161.7 C1002.4,160.1 1009.2,156.1 1014.1,154.5 C1019.0,152.9 1023.8,154.2 1026.2,152.0 C1028.6,149.8 1027.0,144.9 1028.6,141.1 C1030.2,137.3 1033.9,133.4 1035.9,129.0 C1037.9,124.5 1039.0,117.3 1040.8,114.4 C1042.6,111.5 1045.0,110.7 1046.8,111.5 C1048.6,112.3 1051.9,116.4 1051.7,119.3 C1051.5,122.2 1047.2,125.0 1045.6,129.0 C1044.0,133.0 1043.2,138.2 1042.0,143.5 C1040.8,148.8 1037.9,155.8 1038.3,160.5 C1038.7,165.2 1042.0,169.5 1044.4,171.5 C1046.8,173.5 1050.7,170.7 1052.9,172.7 C1055.1,174.7 1055.0,182.8 1057.8,183.6 C1060.6,184.4 1065.5,179.3 1069.9,177.5 C1074.4,175.7 1081.3,176.7 1084.5,172.7 C1087.7,168.7 1085.7,156.8 1089.3,153.3 C1092.9,149.9 1101.8,153.6 1106.3,152.0 C1110.8,150.4 1112.8,147.7 1116.0,143.5 C1119.2,139.3 1123.5,131.0 1125.7,126.6 C1127.9,122.1 1129.6,120.6 1129.4,116.8 C1129.2,113.0 1125.4,107.0 1124.5,103.5 C1123.6,100.0 1124.1,97.2 1124.0,96.0" fill="none" stroke="#fff" stroke-width="1.0" stroke-linejoin="round" stroke-opacity="0.9"/>
<path d="M30.0,548.8 C30.8,548.8 32.5,549.2 35.0,548.8 C37.5,548.3 41.7,546.0 45.0,546.2 C48.3,546.5 52.1,550.0 55.0,550.0 C57.9,550.0 61.2,547.9 62.5,546.2 C63.8,544.6 64.0,541.2 62.5,540.0 C61.0,538.8 55.0,540.4 53.8,538.8 C52.5,537.1 53.5,532.1 55.0,530.0 C56.5,527.9 59.8,526.2 62.5,526.2 C65.2,526.2 68.8,530.2 71.2,530.0 C73.8,529.8 74.4,525.8 77.5,525.0 C80.6,524.2 86.2,524.4 90.0,525.0 C93.8,525.6 95.4,528.8 100.0,528.8 C104.6,528.8 113.3,527.3 117.5,525.0 C121.7,522.7 121.2,517.9 125.0,515.0 C128.8,512.1 135.0,510.0 140.0,507.5 C145.0,505.0 151.7,503.1 155.0,500.0 C158.3,496.9 155.8,491.7 160.0,488.8 C164.2,485.8 173.3,485.2 180.0,482.5 C186.7,479.8 195.0,475.0 200.0,472.5 C205.0,470.0 205.0,467.5 210.0,467.5 C215.0,467.5 223.3,473.5 230.0,472.5 C236.7,471.5 241.7,464.4 250.0,461.3 C258.3,458.2 272.4,455.6 280.0,453.8 C287.6,451.9 285.5,452.4 295.8,450.3 C306.1,448.2 328.6,444.2 341.7,441.2 C354.8,438.1 365.5,436.4 374.7,432.0 C383.9,427.6 390.0,416.9 396.7,414.6 C403.4,412.3 407.7,417.5 415.0,418.3 C422.3,419.1 436.1,420.3 440.7,419.2 C445.3,418.1 441.4,413.2 442.5,411.8 C443.6,410.4 446.7,410.1 447.0,410.9 C447.3,411.7 443.5,415.6 444.3,416.4 C445.1,417.2 448.9,417.8 451.7,415.5 C454.4,413.2 457.8,405.4 460.8,402.7 C463.9,399.9 466.0,400.5 470.0,399.0 C474.0,397.5 479.2,395.5 485.0,393.8 C490.8,392.0 500.0,389.0 505.0,388.8 C510.0,388.5 510.8,393.5 515.0,392.5 C519.2,391.5 524.2,386.2 530.0,382.5 C535.8,378.8 543.3,373.1 550.0,370.0 C556.7,366.9 562.5,365.2 570.0,363.8 C577.5,362.3 585.0,362.2 595.0,361.2 C605.0,360.3 621.7,358.8 630.0,358.0 C638.3,357.2 640.4,357.8 645.0,356.2 C649.6,354.7 651.7,351.7 657.5,348.8 C663.3,345.8 674.2,340.2 680.0,338.8 C685.8,337.3 689.2,341.5 692.5,340.0 C695.8,338.5 697.1,331.2 700.0,330.0 C702.9,328.8 707.1,334.2 710.0,332.5 C712.9,330.8 712.5,322.7 717.5,320.0 C722.5,317.3 734.2,317.7 740.0,316.2 C745.8,314.8 748.8,311.5 752.5,311.2 C756.2,311.0 758.3,315.2 762.5,315.0 C766.7,314.8 772.9,310.2 777.5,310.0 C782.1,309.8 785.8,312.4 790.0,313.8 C794.2,315.1 797.5,318.4 802.5,318.0 C807.5,317.6 813.8,312.8 820.0,311.2 C826.2,309.7 834.2,310.0 840.0,308.8 C845.8,307.5 850.5,304.7 855.0,303.8 C859.5,302.8 865.8,301.0 867.0,303.0 C868.2,305.0 861.6,314.4 862.5,316.0 C863.4,317.6 869.2,315.2 872.5,312.5 C875.8,309.8 877.9,303.9 882.5,300.0 C887.1,296.1 895.1,292.2 900.0,289.2 C904.9,286.2 908.9,283.3 912.1,281.9 C915.3,280.5 916.9,281.0 919.4,280.7 C921.9,280.4 925.3,279.4 927.3,280.0 C929.3,280.6 929.6,283.5 931.3,284.3 C933.0,285.1 935.1,285.5 937.3,284.7 C939.5,283.9 943.1,281.9 944.7,279.7 C946.3,277.5 945.9,271.3 947.0,271.3 C948.1,271.3 950.0,277.6 951.3,279.7 C952.6,281.8 952.7,283.1 954.7,284.0 C956.7,284.9 962.9,286.4 963.3,285.0 C963.7,283.6 956.6,279.8 957.3,275.7 C958.0,271.6 964.8,262.1 967.3,260.3 C969.8,258.5 970.3,263.2 972.0,265.0 C973.7,266.8 976.1,269.2 977.3,271.0 C978.5,272.8 978.2,275.4 979.3,275.7 C980.4,276.0 983.2,274.7 984.0,273.0 C984.8,271.3 983.2,268.2 984.0,265.7 C984.8,263.1 986.8,260.3 988.7,257.7 C990.6,255.1 993.4,251.1 995.3,250.0 C997.2,248.9 998.1,250.4 1000.0,251.3 C1001.9,252.2 1004.0,252.5 1006.8,255.2 C1009.5,257.9 1012.5,266.1 1016.5,267.3 C1020.5,268.5 1025.4,262.5 1031.1,262.5 C1036.8,262.5 1044.4,265.7 1050.5,267.3 C1056.6,268.9 1063.5,273.0 1067.5,272.2 C1071.5,271.4 1071.2,265.1 1074.8,262.5 C1078.4,259.9 1086.1,255.6 1089.3,256.4 C1092.5,257.2 1091.4,266.1 1094.2,267.3 C1097.0,268.5 1101.5,266.3 1106.3,263.7 C1111.1,261.1 1119.0,253.6 1123.3,251.6 C1127.6,249.6 1129.2,251.6 1132.0,251.6 C1134.8,251.6 1138.7,251.6 1140.0,251.6" fill="none" stroke="#fff" stroke-width="1.0" stroke-linejoin="round" stroke-opacity="0.9"/>
<path d="M30.0,625.0 C30.8,625.0 32.1,627.9 35.0,625.0 C37.9,622.1 42.1,612.5 47.5,607.5 C52.9,602.5 61.7,596.9 67.5,595.0 C73.3,593.1 77.9,597.5 82.5,596.2 C87.1,595.0 90.0,591.9 95.0,587.5 C100.0,583.1 106.7,574.0 112.5,570.0 C118.3,566.0 124.2,568.3 130.0,563.8 C135.8,559.2 142.5,545.2 147.5,542.5 C152.5,539.8 154.6,548.3 160.0,547.5 C165.4,546.7 174.2,540.2 180.0,537.5 C185.8,534.8 190.0,533.8 195.0,531.2 C200.0,528.8 204.2,525.6 210.0,522.5 C215.8,519.4 223.8,515.2 230.0,512.5 C236.2,509.8 243.3,507.9 247.5,506.2 C251.7,504.6 251.2,503.5 255.0,502.5 C258.8,501.5 263.3,502.1 270.0,500.0 C276.7,497.9 285.0,491.2 295.0,490.0 C305.0,488.8 319.2,491.5 330.0,492.5 C340.8,493.5 351.7,496.7 360.0,496.2 C368.3,495.8 373.3,492.7 380.0,490.0 C386.7,487.3 393.8,482.9 400.0,480.0 C406.2,477.1 410.8,473.8 417.5,472.5 C424.2,471.2 432.8,471.7 440.0,472.1 C447.2,472.5 454.0,473.7 461.0,474.9 C468.0,476.1 476.7,479.6 482.1,479.1 C487.5,478.6 491.1,474.7 493.3,472.1 C495.5,469.5 493.3,465.1 495.4,463.7 C497.5,462.3 502.3,463.3 505.9,463.7 C509.5,464.1 513.6,464.9 517.1,465.8 C520.6,466.7 523.9,469.4 526.9,469.3 C529.9,469.2 532.3,464.6 535.4,465.1 C538.5,465.6 543.1,469.1 545.2,472.1 C547.3,475.1 546.1,479.8 548.0,483.3 C549.9,486.8 554.1,491.7 556.4,493.1 C558.7,494.5 559.7,493.6 562.0,491.7 C564.3,489.8 569.7,484.7 570.4,481.9 C571.1,479.1 566.0,477.9 566.2,474.9 C566.4,471.9 568.2,466.4 571.5,464.1 C574.8,461.8 580.6,461.4 586.0,460.9 C591.4,460.4 601.5,462.4 603.8,460.9 C606.1,459.4 598.9,453.9 600.0,452.0 C601.1,450.1 607.0,449.7 610.3,449.6 C613.6,449.5 615.7,450.1 620.0,451.2 C624.3,452.3 631.3,455.7 636.2,456.0 C641.1,456.3 644.3,454.4 649.2,452.8 C654.1,451.2 660.7,448.2 665.4,446.3 C670.1,444.4 673.4,440.7 677.5,441.2 C681.6,441.8 685.4,448.9 690.0,449.5 C694.6,450.1 699.6,448.5 705.0,445.0 C710.4,441.5 716.7,429.0 722.5,428.8 C728.3,428.5 734.2,441.9 740.0,443.8 C745.8,445.6 752.1,443.5 757.5,440.0 C762.9,436.5 765.4,427.9 772.5,422.5 C779.6,417.1 793.8,408.3 800.0,407.5 C806.2,406.7 806.7,415.2 810.0,417.5 C813.3,419.8 815.8,419.2 820.0,421.2 C824.2,423.3 831.2,428.3 835.0,430.0 C838.8,431.7 838.3,429.6 842.5,431.2 C846.7,432.9 856.2,436.2 860.0,440.0 C863.8,443.8 862.1,453.1 865.0,453.8 C867.9,454.4 876.7,446.7 877.5,443.8 C878.3,440.8 873.1,441.9 870.0,436.2 C866.9,430.6 858.3,413.8 858.8,410.0 C859.2,406.2 868.1,412.5 872.5,413.8 C876.9,415.0 880.8,414.8 885.0,417.5 C889.2,420.2 893.0,427.7 897.5,430.0 C902.0,432.3 908.5,431.9 912.1,431.1 C915.8,430.3 916.1,426.0 919.4,425.0 C922.6,424.0 928.4,425.9 931.6,425.0 C934.8,424.1 936.0,418.8 938.8,419.4 C941.6,420.0 946.1,425.4 948.5,428.6 C950.9,431.8 951.6,437.2 953.4,438.8 C955.2,440.4 957.9,439.6 959.5,438.3 C961.1,437.0 960.9,431.5 963.1,431.1 C965.3,430.7 969.1,433.3 972.8,435.9 C976.4,438.5 981.0,444.2 985.0,446.8 C989.0,449.4 993.5,451.5 997.1,451.7 C1000.7,451.9 1003.2,446.5 1006.8,448.1 C1010.4,449.7 1014.9,459.8 1018.9,461.4 C1022.9,463.0 1028.5,457.0 1031.1,457.8 C1033.7,458.6 1032.5,464.3 1034.7,466.3 C1036.9,468.3 1042.6,471.1 1044.4,469.9 C1046.2,468.7 1043.8,461.0 1045.6,459.0 C1047.4,457.0 1052.1,457.6 1055.3,457.8 C1058.5,458.0 1061.0,461.2 1065.0,460.2 C1069.0,459.2 1075.5,452.5 1079.6,451.7 C1083.6,450.9 1088.1,452.7 1089.3,455.3 C1090.5,457.9 1090.1,464.5 1086.9,467.5 C1083.7,470.5 1073.1,470.5 1069.9,473.5 C1066.7,476.5 1064.7,484.7 1067.5,485.7 C1070.3,486.7 1079.6,479.6 1086.9,479.6 C1094.2,479.6 1106.0,482.9 1111.2,485.7 C1116.5,488.5 1115.0,493.0 1118.4,496.6 C1121.8,500.2 1128.2,504.9 1131.8,507.5 C1135.4,510.1 1138.6,511.2 1140.0,512.0" fill="none" stroke="#fff" stroke-width="1.0" stroke-linejoin="round" stroke-opacity="0.9"/>
<path d="M30.0,657.5 C30.8,657.5 30.8,658.3 35.0,657.5 C39.2,656.7 49.2,654.6 55.0,652.5 C60.8,650.4 63.8,646.9 70.0,645.0 C76.2,643.1 84.6,643.3 92.5,641.2 C100.4,639.2 110.0,634.0 117.5,632.5 C125.0,631.0 128.8,631.9 137.5,632.5 C146.2,633.1 161.2,636.5 170.0,636.2 C178.8,636.0 182.5,633.5 190.0,631.2 C197.5,629.0 207.9,625.2 215.0,622.5 C222.1,619.8 227.9,618.1 232.5,615.0 C237.1,611.9 238.8,605.0 242.5,603.8 C246.2,602.5 250.0,605.2 255.0,607.5 C260.0,609.8 267.1,615.5 272.5,617.5 C277.9,619.5 282.9,620.3 287.5,619.5 C292.1,618.7 294.6,615.8 300.0,612.5 C305.4,609.2 315.0,602.7 320.0,600.0 C325.0,597.3 326.2,597.3 330.0,596.2 C333.8,595.2 337.1,593.8 342.5,593.8 C347.9,593.8 354.6,597.7 362.5,596.2 C370.4,594.8 382.1,586.7 390.0,585.0 C397.9,583.3 405.4,585.4 410.0,586.2 C414.6,587.1 413.3,591.2 417.5,590.0 C421.7,588.8 430.8,580.6 435.0,578.8 C439.2,576.9 440.4,577.7 442.5,578.8 C444.6,579.8 442.9,584.4 447.5,585.0 C452.1,585.6 462.1,586.0 470.0,582.5 C477.9,579.0 485.8,566.7 495.0,563.8 C504.2,560.8 516.2,564.2 525.0,565.0 C533.8,565.8 540.8,569.1 547.5,568.8 C554.2,568.4 560.5,565.6 565.0,563.0 C569.5,560.4 571.2,555.4 574.7,553.2 C578.2,551.0 583.3,549.9 586.0,549.9 C588.7,549.9 589.8,551.0 590.9,553.2 C592.0,555.4 590.9,559.9 592.5,562.9 C594.1,565.9 597.1,569.1 600.6,571.0 C604.1,572.9 608.8,575.3 613.6,574.2 C618.5,573.1 625.1,567.6 629.7,564.5 C634.3,561.4 637.3,557.0 641.1,555.6 C644.9,554.2 647.8,555.2 652.4,556.4 C657.0,557.6 662.9,561.3 668.6,562.9 C674.3,564.5 679.5,564.5 686.4,566.1 C693.3,567.7 701.9,572.1 710.0,572.5 C718.1,572.9 728.0,569.6 735.0,568.8 C742.0,567.9 747.2,567.7 751.7,567.5 C756.2,567.3 760.0,568.8 761.7,567.5 C763.4,566.2 760.1,562.1 762.0,560.0 C763.9,557.9 772.3,554.0 773.3,555.0 C774.3,556.0 767.7,563.0 768.0,566.0 C768.3,569.0 773.3,571.0 775.0,573.3 C776.7,575.6 776.9,579.4 778.3,580.0 C779.7,580.6 782.2,579.8 783.3,576.7 C784.4,573.7 786.7,566.5 785.0,561.7 C783.3,556.9 774.7,551.3 773.0,548.0 C771.3,544.7 772.2,543.3 775.0,542.0 C777.8,540.7 788.3,541.7 790.0,540.0 C791.7,538.3 784.2,534.1 785.0,532.0 C785.8,529.9 790.3,528.0 795.0,527.5 C799.7,527.0 809.1,528.5 813.3,529.2 C817.5,529.9 817.9,529.9 820.0,531.7 C822.1,533.5 826.1,537.2 825.8,540.0 C825.5,542.8 820.9,545.5 818.3,548.3 C815.7,551.1 810.0,552.0 810.0,556.7 C810.0,561.4 816.3,571.9 818.3,576.7 C820.2,581.6 819.2,584.7 821.7,585.8 C824.2,586.9 829.7,585.1 833.3,583.3 C836.9,581.5 840.5,577.5 843.3,575.0 C846.1,572.5 847.8,568.8 850.0,568.3 C852.2,567.8 854.5,568.9 856.7,571.7 C858.9,574.5 861.1,580.3 863.3,585.0 C865.5,589.7 867.6,596.7 870.0,600.0 C872.4,603.3 872.5,601.7 877.5,605.0 C882.5,608.3 895.0,616.5 900.0,620.0 C905.0,623.5 904.5,624.8 907.3,626.2 C910.1,627.6 914.0,629.0 917.0,628.6 C920.0,628.2 922.3,622.8 925.5,623.8 C928.7,624.8 932.1,631.5 936.4,634.7 C940.6,637.9 944.9,641.6 951.0,643.2 C957.1,644.8 967.9,642.6 972.8,644.4 C977.6,646.2 976.9,652.3 980.1,654.1 C983.3,655.9 988.2,653.5 992.2,655.3 C996.2,657.1 1000.0,662.6 1004.4,665.0 C1008.8,667.4 1014.6,667.7 1018.9,669.9 C1023.2,672.1 1026.6,676.5 1030.0,678.3 C1033.4,680.1 1036.7,680.6 1039.1,680.6 C1041.5,680.6 1043.4,682.7 1044.3,678.3 C1045.2,673.9 1043.0,655.7 1044.3,654.2 C1045.6,652.7 1050.2,664.8 1051.9,669.2 C1053.6,673.6 1052.8,678.3 1054.2,680.6 C1055.6,682.9 1058.0,681.4 1060.2,682.8 C1062.5,684.2 1065.7,686.6 1067.7,688.9 C1069.7,691.2 1071.3,692.9 1072.3,696.4 C1073.3,699.9 1072.5,706.6 1073.8,710.0 C1075.0,713.4 1077.8,716.3 1079.8,716.8 C1081.8,717.3 1084.4,714.9 1085.8,713.0 C1087.2,711.1 1086.6,706.5 1088.1,705.5 C1089.6,704.5 1092.2,705.5 1094.9,707.0 C1097.6,708.5 1101.5,712.2 1104.0,714.5 C1106.5,716.8 1107.7,717.0 1110.0,720.6 C1112.3,724.2 1115.5,731.8 1118.0,736.4 C1120.5,741.0 1122.6,743.4 1124.9,748.0 C1127.2,752.6 1129.4,760.5 1131.9,764.2 C1134.4,767.9 1138.7,769.0 1140.0,770.0" fill="none" stroke="#fff" stroke-width="1.0" stroke-linejoin="round" stroke-opacity="0.9"/>
<path d="M30.0,781.2 C30.8,781.2 33.5,781.0 35.0,781.2 C36.5,781.5 36.7,783.6 38.8,782.5 C40.9,781.4 43.1,776.5 47.4,774.4 C51.7,772.3 60.2,771.4 64.7,770.0 C69.2,768.6 74.1,767.4 74.4,765.8 C74.8,764.2 68.2,762.9 66.8,760.4 C65.4,757.9 65.1,753.2 65.8,750.7 C66.5,748.2 68.4,745.6 71.2,745.3 C74.0,745.0 79.4,749.0 82.5,748.8 C85.6,748.5 88.3,743.3 90.0,743.8 C91.7,744.2 90.4,749.6 92.5,751.2 C94.6,752.9 101.9,756.0 102.5,753.8 C103.1,751.5 96.7,741.2 96.2,737.5 C95.8,733.8 97.3,733.1 100.0,731.2 C102.7,729.4 110.0,729.4 112.5,726.2 C115.0,723.1 110.4,715.8 115.0,712.5 C119.6,709.2 134.4,705.8 140.0,706.2 C145.6,706.7 145.4,714.0 148.8,715.0 C152.1,716.0 158.5,714.6 160.0,712.5 C161.5,710.4 159.2,704.4 157.5,702.5 C155.8,700.6 150.4,702.9 150.0,701.2 C149.6,699.6 153.3,695.2 155.0,692.5 C156.7,689.8 155.8,685.4 160.0,685.0 C164.2,684.6 174.2,688.5 180.0,690.0 C185.8,691.5 190.0,694.4 195.0,693.8 C200.0,693.1 206.2,689.2 210.0,686.2 C213.8,683.3 214.6,677.5 217.5,676.2 C220.4,675.0 223.8,674.8 227.5,678.8 C231.2,682.7 235.4,695.8 240.0,700.0 C244.6,704.2 250.4,703.3 255.0,703.8 C259.6,704.2 262.1,701.2 267.5,702.5 C272.9,703.8 281.2,710.6 287.5,711.2 C293.8,711.9 297.9,708.3 305.0,706.2 C312.1,704.2 322.5,701.5 330.0,698.8 C337.5,696.0 343.8,692.3 350.0,690.0 C356.2,687.7 362.1,685.0 367.5,685.0 C372.9,685.0 378.3,691.5 382.5,690.0 C386.7,688.5 389.6,678.8 392.5,676.2 C395.4,673.8 398.3,673.8 400.0,675.0 C401.7,676.2 399.2,684.2 402.5,683.8 C405.8,683.3 413.3,673.3 420.0,672.5 C426.7,671.7 437.9,676.7 442.5,678.8 C447.1,680.8 444.6,684.4 447.5,685.0 C450.4,685.6 455.8,682.3 460.0,682.5 C464.2,682.7 468.8,688.5 472.5,686.2 C476.2,684.0 477.5,670.4 482.5,668.8 C487.5,667.1 497.5,677.1 502.5,676.2 C507.5,675.4 508.3,665.6 512.5,663.8 C516.7,661.9 522.5,665.3 527.5,665.0 C532.5,664.7 535.4,661.8 542.5,662.0 C549.6,662.2 562.1,665.8 570.0,666.2 C577.9,666.8 583.8,665.0 590.0,665.0 C596.2,665.0 602.5,664.6 607.5,666.2 C612.5,667.9 616.2,672.7 620.0,675.0 C623.8,677.3 625.8,679.4 630.0,680.0 C634.2,680.6 641.7,677.9 645.0,678.8 C648.3,679.6 649.2,682.3 650.0,685.0 C650.8,687.7 648.8,691.7 650.0,695.0 C651.2,698.3 654.6,701.2 657.5,705.0 C660.4,708.8 662.1,715.0 667.5,717.5 C672.9,720.0 684.2,717.5 690.0,720.0 C695.8,722.5 696.7,728.8 702.5,732.5 C708.3,736.2 719.6,742.1 725.0,742.5 C730.4,742.9 732.1,737.3 735.0,735.0 C737.9,732.7 739.6,728.5 742.5,728.8 C745.4,729.0 747.5,732.7 752.5,736.2 C757.5,739.8 767.1,747.3 772.5,750.0 C777.9,752.7 783.1,749.2 785.0,752.5 C786.9,755.8 780.8,764.6 783.8,770.0 C786.7,775.4 796.5,779.6 802.5,785.0 C808.5,790.4 816.7,798.1 820.0,802.5 C823.3,806.9 820.0,810.6 822.5,811.2 C825.0,811.9 830.8,805.8 835.0,806.2 C839.2,806.7 843.3,812.3 847.5,813.8 C851.7,815.2 855.4,812.9 860.0,815.0 C864.6,817.1 870.4,824.8 875.0,826.2 C879.6,827.7 882.5,823.8 887.5,823.8 C892.5,823.8 900.8,826.7 905.0,826.2 C909.2,825.8 911.7,824.0 912.5,821.2 C913.3,818.5 909.8,814.3 910.0,810.0 C910.2,805.7 912.5,796.6 913.9,795.5 C915.3,794.4 917.8,801.1 918.6,803.6 C919.4,806.1 917.8,809.2 918.6,810.6 C919.4,812.0 920.5,812.1 923.2,811.7 C925.9,811.3 930.9,809.8 934.8,808.3 C938.7,806.8 941.0,804.0 946.4,802.5 C951.8,801.0 963.3,797.3 967.2,799.0 C971.1,800.7 967.7,809.0 969.6,812.9 C971.5,816.8 973.8,819.1 978.8,822.2 C983.8,825.3 993.5,828.3 999.7,831.4 C1005.9,834.5 1011.8,837.6 1016.0,840.7 C1020.2,843.8 1024.0,846.5 1025.2,850.0 C1026.4,853.5 1020.6,859.9 1022.9,861.6 C1025.2,863.3 1037.9,861.2 1039.1,860.4 C1040.3,859.6 1031.8,858.7 1029.9,857.0 C1028.0,855.3 1026.3,851.8 1027.5,850.0 C1028.7,848.2 1032.9,846.1 1036.8,846.5 C1040.7,846.9 1046.5,849.8 1050.7,852.3 C1055.0,854.8 1061.1,858.9 1062.3,861.6 C1063.5,864.3 1056.9,866.3 1057.7,868.6 C1058.5,870.9 1063.3,872.8 1067.0,875.5 C1070.7,878.2 1075.3,881.8 1080.0,885.0 C1084.7,888.2 1091.7,892.2 1095.0,895.0 C1098.3,897.8 1099.2,899.5 1100.0,902.0 C1100.8,904.5 1100.0,908.7 1100.0,910.0" fill="none" stroke="#fff" stroke-width="1.0" stroke-linejoin="round" stroke-opacity="0.9"/>
<path d="M180.0,878.8 C181.2,876.2 187.5,870.6 190.0,867.5 C192.5,864.4 194.6,866.0 195.0,860.0 C195.4,854.0 190.0,835.8 192.5,831.2 C195.0,826.7 206.2,834.6 210.0,832.5 C213.8,830.4 212.1,819.4 215.0,818.8 C217.9,818.1 226.2,825.2 227.5,828.8 C228.8,832.3 221.5,836.7 222.5,840.0 C223.5,843.3 230.8,848.8 233.8,848.8 C236.7,848.8 237.7,843.1 240.0,840.0 C242.3,836.9 245.2,833.8 247.5,830.0 C249.8,826.2 252.1,820.4 253.8,817.5 C255.4,814.6 255.6,813.4 257.5,812.5 C259.4,811.6 263.2,812.4 265.0,812.4 C266.8,812.4 267.2,812.2 268.5,812.8 C269.8,813.4 270.8,815.8 272.8,816.2 C274.8,816.6 278.5,814.8 280.5,815.4 C282.5,816.0 283.1,820.7 284.8,820.1 C286.5,819.5 289.0,813.8 290.9,811.9 C292.8,810.0 294.8,808.8 296.1,808.5 C297.4,808.2 298.0,809.2 298.6,810.2 C299.2,811.2 299.8,811.8 299.5,814.5 C299.2,817.2 296.9,822.9 296.9,826.6 C296.9,830.3 298.1,835.5 299.5,836.9 C300.9,838.3 303.3,835.2 305.6,835.2 C307.9,835.2 310.7,835.9 313.3,836.9 C315.9,837.9 318.5,841.4 321.1,841.3 C323.7,841.2 327.4,838.0 328.8,836.1 C330.2,834.2 330.6,831.1 329.3,830.0 C328.0,828.9 323.2,830.2 321.1,829.6 C319.0,829.0 317.4,828.5 316.8,826.6 C316.2,824.7 316.3,820.0 317.6,818.0 C318.9,816.0 321.2,814.4 324.5,814.5 C327.8,814.6 333.6,819.1 337.1,818.8 C340.6,818.4 343.4,813.1 345.7,812.4 C348.0,811.7 350.6,815.9 350.9,814.5 C351.2,813.1 349.0,806.8 347.4,804.2 C345.8,801.6 343.3,799.7 341.4,799.0 C339.5,798.3 337.5,800.9 336.2,799.9 C334.9,798.9 334.0,795.2 333.6,793.0 C333.2,790.8 332.8,788.2 333.6,786.9 C334.4,785.6 337.2,786.9 338.4,785.2 C339.6,783.5 339.9,779.7 341.0,776.6 C342.1,773.5 342.9,768.3 344.8,766.6 C346.7,764.9 352.0,766.1 352.6,766.6 C353.2,767.1 349.3,768.2 348.7,769.7 C348.1,771.2 348.1,773.9 349.2,775.7 C350.3,777.5 352.5,779.2 355.2,780.5 C357.9,781.8 362.6,781.7 365.6,783.5 C368.6,785.3 371.4,788.5 373.3,791.2 C375.2,793.9 376.4,796.3 376.8,799.9 C377.2,803.5 374.5,808.8 375.9,812.8 C377.3,816.8 383.2,822.1 385.4,824.0 C387.5,825.9 386.8,825.1 388.8,824.0 C390.8,822.9 394.8,820.0 397.5,817.1 C400.2,814.2 403.3,809.6 405.0,806.8 C406.7,803.9 405.8,802.6 407.5,800.0 C409.2,797.4 412.5,790.6 415.0,791.2 C417.5,791.9 418.8,803.5 422.5,803.8 C426.2,804.0 433.3,793.1 437.5,792.5 C441.7,791.9 443.8,798.5 447.5,800.0 C451.2,801.5 456.2,801.5 460.0,801.2 C463.8,801.0 465.0,798.5 470.0,798.8 C475.0,799.0 484.2,802.3 490.0,802.5 C495.8,802.7 498.3,798.8 505.0,800.0 C511.7,801.2 523.3,806.9 530.0,810.0 C536.7,813.1 540.4,816.2 545.0,818.8 C549.6,821.2 553.8,825.0 557.5,825.0 C561.2,825.0 564.6,819.0 567.5,818.8 C570.4,818.5 573.3,820.6 575.0,823.8 C576.7,826.9 575.7,833.1 577.5,837.5 C579.3,841.9 582.9,846.4 585.8,850.0 C588.7,853.6 591.3,856.2 595.0,859.2 C598.7,862.2 602.6,866.8 607.8,868.3 C613.0,869.8 621.9,867.7 626.2,868.3 C630.5,868.9 630.8,870.5 633.5,872.0 C636.2,873.5 640.0,875.0 642.7,877.5 C645.5,880.0 647.6,882.7 650.0,886.7 C652.4,890.7 656.0,897.4 657.3,901.3 C658.6,905.2 731.7,908.5 658.0,910.0 C584.3,911.5 290.5,913.3 215.0,910.0 C139.5,906.7 210.4,894.6 205.0,890.0 C199.6,885.4 186.7,884.4 182.5,882.5 C178.3,880.6 178.8,881.2 180.0,878.8 Z" fill="none" stroke="#fff" stroke-width="1.0"/>
<path d="M143.8,865.0 C144.4,862.1 144.4,860.8 147.5,857.5 C150.6,854.2 157.7,845.2 162.5,845.0 C167.3,844.8 174.2,852.1 176.2,856.2 C178.3,860.4 177.7,865.4 175.0,870.0 C172.3,874.6 164.6,880.8 160.0,883.8 C155.4,886.7 150.2,889.0 147.5,887.5 C144.8,886.0 144.4,878.8 143.8,875.0 C143.1,871.2 143.1,867.9 143.8,865.0 Z" fill="none" stroke="#fff" stroke-width="1.0"/>
<path d="M231.0,800.0 C231.8,798.8 234.8,798.7 238.0,801.0 C241.2,803.3 249.5,811.8 250.0,814.0 C250.5,816.2 243.8,815.0 241.0,814.0 C238.2,813.0 234.7,810.3 233.0,808.0 C231.3,805.7 230.2,801.2 231.0,800.0 Z" fill="none" stroke="#fff" stroke-width="1.0"/>
<path d="M302.5,813.0 C303.1,811.5 304.6,809.7 306.0,808.0 C307.4,806.3 309.3,804.4 311.0,803.0 C312.7,801.6 314.5,800.0 316.0,799.8 C317.5,799.6 319.1,801.0 320.0,802.0 C320.9,803.0 321.8,804.2 321.5,806.0 C321.2,807.8 318.9,810.8 318.0,813.0 C317.1,815.2 317.5,817.0 316.0,819.0 C314.5,821.0 311.0,824.2 309.0,824.9 C307.0,825.6 305.1,824.3 304.0,823.0 C302.9,821.7 302.8,818.7 302.5,817.0 C302.2,815.3 301.9,814.5 302.5,813.0 Z" fill="none" stroke="#fff" stroke-width="1.0"/>
<path d="M323.0,789.0 C323.5,787.8 325.2,787.1 326.0,787.8 C326.8,788.5 326.5,791.2 327.5,793.0 C328.5,794.8 331.8,796.8 332.0,798.5 C332.2,800.2 329.8,802.8 328.5,803.0 C327.2,803.2 324.9,801.3 324.0,800.0 C323.1,798.7 323.2,796.8 323.0,795.0 C322.8,793.2 322.5,790.2 323.0,789.0 Z" fill="none" stroke="#fff" stroke-width="1.0"/>
<path d="M373.7,771.4 C374.0,770.1 375.9,768.3 377.6,767.9 C379.3,767.5 382.1,768.1 383.7,768.8 C385.3,769.5 386.2,770.9 387.1,772.3 C388.0,773.7 388.2,776.0 388.8,777.4 C389.4,778.8 390.9,779.8 391.0,780.9 C391.1,782.0 390.6,783.8 389.7,783.9 C388.8,784.0 387.0,782.3 385.4,781.3 C383.8,780.3 381.8,778.8 380.2,777.9 C378.6,777.0 377.0,776.8 375.9,775.7 C374.8,774.6 373.4,772.7 373.7,771.4 Z" fill="none" stroke="#fff" stroke-width="1.0"/>
<path d="M1055.4,138.2 C1057.0,136.8 1062.0,136.9 1064.2,135.3 C1066.4,133.7 1067.5,129.7 1068.8,128.8 C1070.1,127.9 1072.5,128.8 1072.3,130.0 C1072.1,131.2 1068.8,132.9 1067.7,135.8 C1066.6,138.7 1067.1,144.6 1065.9,147.5 C1064.7,150.4 1062.5,152.7 1060.7,153.3 C1059.0,153.9 1056.4,152.6 1055.4,151.0 C1054.4,149.4 1054.8,146.1 1054.8,144.0 C1054.8,141.9 1053.8,139.6 1055.4,138.2 Z" fill="none" stroke="#fff" stroke-width="1.0"/>
<ellipse cx="146.5" cy="368" rx="3" ry="4" transform="rotate(0 146.5 368)" fill="none" stroke="#fff" stroke-width="1.0"/>
<path d="M77.5,532.0 C78.7,530.8 83.9,530.7 85.0,532.0 C86.1,533.3 85.2,538.8 84.0,540.0 C82.8,541.2 79.1,540.3 78.0,539.0 C76.9,537.7 76.3,533.2 77.5,532.0 Z" fill="none" stroke="#fff" stroke-width="1.0"/>
<path d="M955.0,421.0 C954.7,419.5 960.5,412.0 962.0,412.0 C963.5,412.0 965.2,419.5 964.0,421.0 C962.8,422.5 955.3,422.5 955.0,421.0 Z" fill="none" stroke="#fff" stroke-width="1.0"/>
<ellipse cx="540" cy="503.5" rx="4.5" ry="3.5" transform="rotate(30 540 503.5)" fill="none" stroke="#fff" stroke-width="1.0"/>
<ellipse cx="556.5" cy="531" rx="3" ry="4.5" transform="rotate(-20 556.5 531)" fill="none" stroke="#fff" stroke-width="1.0"/>
<ellipse cx="593.5" cy="494" rx="2.8" ry="3" transform="rotate(0 593.5 494)" fill="none" stroke="#fff" stroke-width="1.0"/>
<ellipse cx="885" cy="450" rx="2.5" ry="2.5" transform="rotate(0 885 450)" fill="none" stroke="#fff" stroke-width="1.0"/>
<path d="M966.0,278.3 C967.3,277.8 974.2,277.6 976.0,278.0 C977.8,278.4 976.9,279.8 976.7,281.0 C976.5,282.2 976.5,285.0 975.0,285.0 C973.5,285.0 969.5,282.1 968.0,281.0 C966.5,279.9 964.7,278.8 966.0,278.3 Z" fill="none" stroke="#fff" stroke-width="1.0"/>
<path d="M982.0,289.5 C982.0,288.4 983.1,286.3 983.6,286.3 C984.1,286.3 985.3,288.4 985.3,289.5 C985.3,290.6 984.1,293.0 983.6,293.0 C983.1,293.0 982.0,290.6 982.0,289.5 Z" fill="none" stroke="#fff" stroke-width="1.0"/>
<path d="M526.5,313.0 C527.7,313.0 530.0,315.3 530.0,316.5 C530.0,317.7 527.7,320.0 526.5,320.0 C525.3,320.0 523.0,317.7 523.0,316.5 C523.0,315.3 525.3,313.0 526.5,313.0 Z" fill="none" stroke="#fff" stroke-width="1.0"/>
<path d="M504.0,465.0 C505.8,464.6 514.6,464.4 517.0,465.8 C519.4,467.2 519.2,472.0 518.5,473.5 C517.8,475.0 515.1,475.9 513.0,475.0 C510.9,474.1 507.5,469.7 506.0,468.0 C504.5,466.3 502.2,465.4 504.0,465.0 Z" fill="none" stroke="#fff" stroke-width="1.0"/>
<ellipse cx="342.5" cy="553.5" rx="7" ry="3.5" transform="rotate(50 342.5 553.5)" fill="none" stroke="#fff" stroke-width="1.0"/>
<ellipse cx="627" cy="514" rx="4.5" ry="5.2" transform="rotate(0 627 514)" fill="none" stroke="#fff" stroke-width="1.0"/>
<ellipse cx="610" cy="498" rx="3.6" ry="2.4" transform="rotate(0 610 498)" fill="none" stroke="#fff" stroke-width="1.0"/>
<ellipse cx="582" cy="543.8" rx="2.8" ry="2" transform="rotate(0 582 543.8)" fill="none" stroke="#fff" stroke-width="1.0"/>
<path d="M1036.0,688.9 C1037.8,686.1 1043.6,686.6 1046.6,687.4 C1049.6,688.1 1052.2,689.9 1054.2,693.4 C1056.2,696.9 1058.5,705.4 1058.7,708.5 C1059.0,711.6 1058.5,711.8 1055.7,712.3 C1052.9,712.8 1045.4,712.9 1042.1,711.5 C1038.8,710.1 1037.0,707.8 1036.0,704.0 C1035.0,700.2 1034.2,691.7 1036.0,688.9 Z" fill="none" stroke="#fff" stroke-width="1.0"/>
<ellipse cx="1064" cy="674.5" rx="3" ry="3.8" transform="rotate(0 1064 674.5)" fill="none" stroke="#fff" stroke-width="1.0"/>
<ellipse cx="1076" cy="675.6" rx="2.3" ry="3.4" transform="rotate(0 1076 675.6)" fill="none" stroke="#fff" stroke-width="1.0"/>
<path d="M1080.0,680.0 C1081.5,680.2 1082.4,685.3 1084.0,688.0 C1085.6,690.7 1090.3,695.4 1089.6,696.4 C1088.9,697.4 1082.4,695.6 1080.0,694.0 C1077.6,692.4 1075.3,689.3 1075.3,687.0 C1075.3,684.7 1078.5,679.8 1080.0,680.0 Z" fill="none" stroke="#fff" stroke-width="1.0"/>
<ellipse cx="49" cy="795.5" rx="9" ry="5.5" transform="rotate(15 49 795.5)" fill="none" stroke="#fff" stroke-width="1.0"/>
<ellipse cx="883.5" cy="809" rx="6.5" ry="5" transform="rotate(0 883.5 809)" fill="none" stroke="#fff" stroke-width="1.0"/>
<ellipse cx="927" cy="799" rx="3" ry="4" transform="rotate(0 927 799)" fill="none" stroke="#fff" stroke-width="1.0"/>
<ellipse cx="342.5" cy="793" rx="2.2" ry="2.6" transform="rotate(0 342.5 793)" fill="none" stroke="#fff" stroke-width="1.0"/>
<ellipse cx="291.5" cy="823" rx="3.2" ry="1.5" transform="rotate(0 291.5 823)" fill="none" stroke="#fff" stroke-width="1.0"/>
<line x1="93.0" y1="106.7" x2="93.0" y2="901" stroke="#a6a6a6" stroke-width="1.6" stroke-dasharray="2.2 7.617"/>
<line x1="187.2" y1="106.7" x2="187.2" y2="901" stroke="#a6a6a6" stroke-width="1.6" stroke-dasharray="2.2 7.617"/>
<line x1="281.5" y1="106.7" x2="281.5" y2="901" stroke="#a6a6a6" stroke-width="1.6" stroke-dasharray="2.2 7.617"/>
<line x1="375.7" y1="106.7" x2="375.7" y2="901" stroke="#a6a6a6" stroke-width="1.6" stroke-dasharray="2.2 7.617"/>
<line x1="470.0" y1="106.7" x2="470.0" y2="901" stroke="#a6a6a6" stroke-width="1.6" stroke-dasharray="2.2 7.617"/>
<line x1="564.2" y1="106.7" x2="564.2" y2="901" stroke="#a6a6a6" stroke-width="1.6" stroke-dasharray="2.2 7.617"/>
<line x1="658.4" y1="106.7" x2="658.4" y2="901" stroke="#a6a6a6" stroke-width="1.6" stroke-dasharray="2.2 7.617"/>
<line x1="752.7" y1="106.7" x2="752.7" y2="901" stroke="#a6a6a6" stroke-width="1.6" stroke-dasharray="2.2 7.617"/>
<line x1="846.9" y1="106.7" x2="846.9" y2="901" stroke="#a6a6a6" stroke-width="1.6" stroke-dasharray="2.2 7.617"/>
<line x1="941.2" y1="106.7" x2="941.2" y2="901" stroke="#a6a6a6" stroke-width="1.6" stroke-dasharray="2.2 7.617"/>
<line x1="1035.4" y1="106.7" x2="1035.4" y2="901" stroke="#a6a6a6" stroke-width="1.6" stroke-dasharray="2.2 7.617"/>
<line x1="1129.6" y1="106.7" x2="1129.6" y2="901" stroke="#a6a6a6" stroke-width="1.6" stroke-dasharray="2.2 7.617"/>
<line x1="41.8" y1="103.9" x2="1133" y2="103.9" stroke="#a6a6a6" stroke-width="1.6" stroke-dasharray="2.2 7.617"/>
<line x1="41.8" y1="160.4" x2="1133" y2="160.4" stroke="#a6a6a6" stroke-width="1.6" stroke-dasharray="2.2 7.617"/>
<line x1="41.8" y1="217.0" x2="1133" y2="217.0" stroke="#a6a6a6" stroke-width="1.6" stroke-dasharray="2.2 7.617"/>
<line x1="41.8" y1="273.5" x2="1133" y2="273.5" stroke="#a6a6a6" stroke-width="1.6" stroke-dasharray="2.2 7.617"/>
<line x1="41.8" y1="330.1" x2="1133" y2="330.1" stroke="#a6a6a6" stroke-width="1.6" stroke-dasharray="2.2 7.617"/>
<line x1="41.8" y1="386.6" x2="1133" y2="386.6" stroke="#a6a6a6" stroke-width="1.6" stroke-dasharray="2.2 7.617"/>
<line x1="41.8" y1="443.1" x2="1133" y2="443.1" stroke="#a6a6a6" stroke-width="1.6" stroke-dasharray="2.2 7.617"/>
<line x1="41.8" y1="499.7" x2="1133" y2="499.7" stroke="#a6a6a6" stroke-width="1.6" stroke-dasharray="2.2 7.617"/>
<line x1="41.8" y1="556.2" x2="1133" y2="556.2" stroke="#a6a6a6" stroke-width="1.6" stroke-dasharray="2.2 7.617"/>
<line x1="41.8" y1="612.8" x2="1133" y2="612.8" stroke="#a6a6a6" stroke-width="1.6" stroke-dasharray="2.2 7.617"/>
<line x1="41.8" y1="669.3" x2="1133" y2="669.3" stroke="#a6a6a6" stroke-width="1.6" stroke-dasharray="2.2 7.617"/>
<line x1="41.8" y1="725.8" x2="1133" y2="725.8" stroke="#a6a6a6" stroke-width="1.6" stroke-dasharray="2.2 7.617"/>
<line x1="41.8" y1="782.4" x2="1133" y2="782.4" stroke="#a6a6a6" stroke-width="1.6" stroke-dasharray="2.2 7.617"/>
<line x1="41.8" y1="838.9" x2="1133" y2="838.9" stroke="#a6a6a6" stroke-width="1.6" stroke-dasharray="2.2 7.617"/>
<line x1="41.8" y1="895.5" x2="1133" y2="895.5" stroke="#a6a6a6" stroke-width="1.6" stroke-dasharray="2.2 7.617"/>
<path d="M104.3,100.0 C104.3,100.3 103.9,101.0 104.3,102.0 C104.7,103.0 106.5,105.7 106.7,106.7 C106.9,107.7 105.4,107.5 105.5,108.4 C105.6,109.3 106.6,112.5 107.3,112.5 C108.0,112.5 109.2,109.0 110.2,108.4 C111.2,107.8 111.8,107.6 113.7,108.4 C115.6,109.2 121.3,112.6 123.0,113.7 C124.7,114.8 124.6,115.2 124.8,116.0 C125.0,116.8 123.8,117.9 124.2,118.9 C124.6,120.0 126.8,121.3 127.7,123.0 C128.6,124.7 129.5,128.6 130.0,130.0 C130.5,131.4 130.8,131.0 131.2,132.3 C131.6,133.6 131.3,137.2 132.9,138.8 C134.5,140.4 140.1,141.7 141.7,142.8 C143.3,143.9 143.4,145.4 143.4,146.3 C143.4,147.2 143.2,149.2 141.7,148.7 C140.2,148.2 135.1,143.2 133.5,142.8 C131.9,142.4 131.0,144.7 131.2,146.3 C131.4,147.9 133.1,152.3 134.7,153.3 C136.3,154.3 139.9,153.3 141.7,152.8 C143.5,152.3 145.3,149.9 146.9,149.8 C148.5,149.7 150.4,152.2 152.2,152.2 C154.0,152.2 157.8,150.7 159.2,149.8 C160.6,148.9 160.6,146.5 161.5,146.3 C162.4,146.1 164.1,148.7 165.0,148.7 C165.9,148.7 166.6,147.2 167.3,146.3 C168.0,145.4 169.0,143.8 169.7,142.8 C170.4,141.8 171.8,141.3 172.0,139.9 C172.2,138.5 170.8,135.5 170.8,133.5 C170.8,131.5 170.9,129.1 172.0,126.5 C173.1,123.9 176.6,118.4 177.8,116.0 C179.0,113.6 179.6,112.3 180.2,110.2 C180.8,108.1 181.6,103.5 181.9,102.0 C182.2,100.5 182.0,100.3 182.0,100.0" fill="none" stroke="#000" stroke-width="1.05" stroke-linejoin="round" />
<path d="M35.0,275.0 C36.2,274.7 41.0,273.9 43.3,273.3 C45.5,272.7 47.0,271.6 50.0,270.8 C53.0,270.1 59.8,269.2 63.3,268.3 C66.8,267.4 69.8,265.9 73.3,265.0 C76.8,264.1 82.7,262.8 86.7,262.5 C90.7,262.2 96.5,263.0 100.0,263.3 C103.5,263.6 107.5,263.4 110.0,264.2 C112.5,264.9 114.2,267.9 116.7,268.3 C119.2,268.7 124.2,266.4 126.7,266.7 C129.2,267.0 130.8,269.9 133.3,270.0 C135.8,270.1 140.3,267.8 143.3,267.5 C146.3,267.2 150.3,267.7 153.3,268.3 C156.3,268.9 160.8,270.7 163.3,271.7 C165.8,272.7 167.5,274.6 170.0,275.0 C172.5,275.4 177.0,273.7 180.0,274.2 C183.0,274.7 187.0,276.4 190.0,278.3 C193.0,280.2 197.9,285.2 200.0,286.7 C202.1,288.2 202.8,286.6 204.0,288.0 C205.2,289.4 206.6,293.8 208.0,296.0 C209.4,298.2 211.3,300.9 213.3,302.7 C215.3,304.5 218.9,307.3 221.3,308.0 C223.7,308.7 226.5,307.4 229.3,307.3 C232.1,307.2 237.6,306.9 240.0,307.3 C242.4,307.7 244.3,309.3 245.3,310.0 C246.3,310.7 246.3,312.1 246.7,312.0 C247.1,311.9 246.6,309.1 248.0,309.3 C249.4,309.5 253.8,312.1 256.0,313.3 C258.2,314.5 260.7,316.1 262.7,317.3 C264.7,318.5 267.1,320.1 269.3,321.3 C271.5,322.5 274.9,323.5 277.3,325.3 C279.7,327.1 282.9,331.1 285.3,333.3 C287.7,335.5 291.7,338.7 293.3,340.0 C294.9,341.3 294.8,341.8 296.0,342.0 C297.2,342.2 299.7,341.2 301.3,341.3 C302.9,341.4 304.7,341.7 306.7,342.7 C308.7,343.7 312.3,346.6 314.7,348.0 C317.1,349.4 320.7,350.6 322.7,352.0 C324.7,353.4 326.3,356.0 328.0,357.3 C329.7,358.6 332.8,359.2 334.3,360.5 C335.8,361.8 336.4,364.6 338.0,366.0 C339.6,367.4 343.4,368.6 345.3,369.7 C347.2,370.8 348.6,373.2 350.8,373.3 C353.0,373.4 357.5,370.3 360.0,370.6 C362.5,370.9 365.7,374.0 367.3,375.2 C368.9,376.4 369.4,378.0 371.0,378.8 C372.6,379.6 375.6,380.7 378.3,380.7 C381.0,380.7 386.8,378.5 389.3,378.8 C391.8,379.1 394.0,381.1 394.8,382.5 C395.6,383.9 395.3,386.6 394.8,388.0 C394.3,389.4 392.4,390.6 391.2,391.7 C390.0,392.8 387.2,393.9 386.6,395.3 C386.0,396.7 386.0,400.2 387.5,400.8 C389.0,401.4 394.2,398.9 396.7,399.0 C399.2,399.1 402.1,401.1 404.0,401.8 C405.9,402.5 406.8,403.3 409.5,403.6 C412.2,403.9 418.7,402.8 422.3,403.6 C425.9,404.4 430.3,407.0 433.3,409.1 C436.3,411.2 439.7,415.0 442.5,417.3 C445.3,419.6 449.0,423.5 451.7,424.7 C454.4,425.9 459.0,424.8 460.8,425.6 C462.6,426.4 464.1,428.4 463.6,430.2 C463.1,432.0 461.7,435.9 457.2,437.5 C452.7,439.1 439.1,439.6 433.3,441.2 C427.5,442.8 421.2,448.2 418.7,448.5 C416.2,448.8 417.9,443.0 416.8,443.0 C415.7,443.0 413.8,447.4 411.3,448.5 C408.8,449.6 403.6,450.7 400.3,450.3 C397.0,449.9 394.2,446.8 389.3,445.8 C384.4,444.8 373.9,443.9 367.3,443.9 C360.7,443.9 351.3,445.0 345.3,445.8 C339.3,446.6 332.2,448.9 327.0,449.4 C321.8,449.9 315.2,448.8 310.5,449.4 C305.8,450.0 298.3,453.0 295.8,453.1 C293.3,453.2 293.2,452.1 294.0,450.3 C294.8,448.5 298.8,443.9 301.3,441.2 C303.8,438.5 307.5,434.5 310.5,432.0 C313.5,429.5 319.6,427.2 321.5,424.7 C323.4,422.2 323.9,418.0 323.3,415.5 C322.7,413.0 319.4,410.1 317.8,408.2 C316.2,406.3 315.3,403.3 312.3,402.7 C309.3,402.1 302.1,404.5 297.7,404.5 C293.3,404.5 286.6,403.5 283.0,402.7 C279.4,401.9 276.3,400.6 273.8,399.0 C271.3,397.4 268.8,393.9 266.5,391.7 C264.2,389.5 259.7,387.1 258.3,384.3 C256.9,381.5 258.0,376.9 257.3,373.3 C256.6,369.7 255.1,363.3 253.7,360.5 C252.3,357.7 249.1,356.1 248.0,354.7 C246.9,353.3 248.7,351.6 246.7,351.3 C244.7,351.0 237.7,352.1 234.7,352.7 C231.7,353.3 228.9,355.0 226.7,355.3 C224.5,355.6 222.8,355.4 220.0,354.7 C217.2,354.0 211.0,351.8 208.0,350.7 C205.0,349.6 202.7,348.4 200.0,347.3 C197.3,346.2 193.5,344.7 190.0,343.3 C186.5,341.9 180.0,340.8 176.7,338.3 C173.4,335.8 169.9,329.6 168.3,326.7 C166.7,323.8 166.6,320.2 165.8,319.2 C165.1,318.2 163.2,318.9 163.3,320.0 C163.4,321.1 169.7,325.6 166.7,326.7 C163.7,327.8 148.1,327.8 143.3,327.5 C138.5,327.2 136.6,326.8 135.0,325.0 C133.4,323.2 133.2,317.3 132.5,315.8 C131.8,314.3 130.4,313.4 130.0,315.0 C129.6,316.6 130.8,325.5 130.0,326.7 C129.2,327.9 127.0,324.6 125.0,323.3 C123.0,322.0 119.7,318.8 116.7,318.3 C113.7,317.8 107.5,320.0 105.0,320.0 C102.5,320.0 102.2,319.5 100.0,318.3 C97.8,317.1 92.2,313.2 90.0,311.7 C87.8,310.2 85.5,309.3 85.0,308.3 C84.5,307.3 84.2,305.5 86.7,305.0 C89.2,304.5 98.5,305.5 101.7,305.0 C104.9,304.5 107.5,303.2 108.3,301.7 C109.0,300.2 108.4,296.5 106.7,295.0 C105.0,293.5 100.7,292.3 96.7,291.7 C92.7,291.1 85.8,291.1 80.0,290.8 C74.2,290.5 62.0,290.0 58.3,290.0 C54.5,290.0 57.7,288.3 55.0,290.8 C52.3,293.3 43.0,303.6 40.0,306.7 C37.0,309.8 35.8,310.9 35.0,311.7" fill="none" stroke="#000" stroke-width="1.05" stroke-linejoin="round" />
<path d="M551.0,902.0 C551.8,900.2 555.7,893.3 556.5,890.3 C557.3,887.3 555.4,883.5 556.5,882.1 C557.6,880.7 562.3,880.8 563.8,881.2 C565.3,881.6 565.6,885.1 566.6,884.8 C567.6,884.5 569.6,880.7 570.3,879.3 C571.0,877.9 570.2,876.8 571.2,875.7 C572.2,874.6 575.3,873.0 576.7,872.0 C578.1,871.0 578.9,869.6 580.3,869.3 C581.7,869.0 583.0,869.2 585.8,870.2 C588.6,871.2 595.9,873.2 598.7,875.7 C601.5,878.2 603.1,884.2 604.2,886.7 C605.3,889.2 607.1,889.9 606.0,892.2 C604.9,894.5 598.2,900.5 596.8,902.0" fill="none" stroke="#000" stroke-width="1.05" stroke-linejoin="round" />
<path d="M644.5,902.0 C645.1,900.0 646.3,891.2 648.2,888.5 C650.1,885.8 655.1,883.9 657.3,883.9 C659.5,883.9 661.4,886.4 662.8,888.5 C664.2,890.6 665.8,895.7 666.5,897.7 C667.2,899.7 667.3,901.4 667.4,902.0" fill="none" stroke="#000" stroke-width="1.05" stroke-linejoin="round" />
<polyline points="101.0,186.5 104.5,185.0" fill="none" stroke="#000" stroke-width="1.4" stroke-linejoin="round" stroke-linecap="round"/>
<polyline points="107.0,184.0 110.0,182.5 114.0,182.0" fill="none" stroke="#000" stroke-width="1.4" stroke-linejoin="round" stroke-linecap="round"/>
<polyline points="115.5,180.5 118.0,178.5" fill="none" stroke="#000" stroke-width="1.4" stroke-linejoin="round" stroke-linecap="round"/>
<polyline points="120.5,175.5 124.5,180.5" fill="none" stroke="#000" stroke-width="1.4" stroke-linejoin="round" stroke-linecap="round"/>
<polyline points="133.5,177.3 141.5,174.3" fill="none" stroke="#000" stroke-width="1.4" stroke-linejoin="round" stroke-linecap="round"/>
<polyline points="146.8,171.5 149.8,170.2" fill="none" stroke="#000" stroke-width="1.4" stroke-linejoin="round" stroke-linecap="round"/>
<polyline points="152.5,169.0 155.0,167.6" fill="none" stroke="#000" stroke-width="1.4" stroke-linejoin="round" stroke-linecap="round"/>
<polyline points="158.3,165.0 163.3,158.3" fill="none" stroke="#000" stroke-width="1.4" stroke-linejoin="round" stroke-linecap="round"/>
<polyline points="165.0,155.0 169.0,150.0 172.5,144.0" fill="none" stroke="#000" stroke-width="1.4" stroke-linejoin="round" stroke-linecap="round"/>
<polyline points="176.7,136.7 178.3,133.3" fill="none" stroke="#000" stroke-width="1.4" stroke-linejoin="round" stroke-linecap="round"/>
<polyline points="179.2,122.5 180.8,120.0" fill="none" stroke="#000" stroke-width="1.4" stroke-linejoin="round" stroke-linecap="round"/>
<polyline points="180.3,116.7 181.5,110.5" fill="none" stroke="#000" stroke-width="1.4" stroke-linejoin="round" stroke-linecap="round"/>
<polyline points="286.2,116.6 290.2,119.8" fill="none" stroke="#000" stroke-width="1.4" stroke-linejoin="round" stroke-linecap="round"/>
<polyline points="349.5,200.5 352.7,203.7" fill="none" stroke="#000" stroke-width="1.4" stroke-linejoin="round" stroke-linecap="round"/>
<polyline points="356.7,210.0 359.8,216.3" fill="none" stroke="#000" stroke-width="1.4" stroke-linejoin="round" stroke-linecap="round"/>
<polyline points="113.3,351.7 122.5,346.7" fill="none" stroke="#000" stroke-width="1.4" stroke-linejoin="round" stroke-linecap="round"/>
<polyline points="230.0,292.0 236.0,292.5" fill="none" stroke="#000" stroke-width="1.4" stroke-linejoin="round" stroke-linecap="round"/>
<polyline points="287.3,312.7 292.0,320.0" fill="none" stroke="#000" stroke-width="1.4" stroke-linejoin="round" stroke-linecap="round"/>
<polyline points="492.9,295.9 495.0,297.0" fill="none" stroke="#000" stroke-width="1.4" stroke-linejoin="round" stroke-linecap="round"/>
<polyline points="483.5,551.0 489.0,551.0" fill="none" stroke="#000" stroke-width="1.4" stroke-linejoin="round" stroke-linecap="round"/>
<polyline points="921.7,513.3 928.3,515.8" fill="none" stroke="#000" stroke-width="1.4" stroke-linejoin="round" stroke-linecap="round"/>
<polyline points="994.0,559.8 996.5,561.3" fill="none" stroke="#000" stroke-width="1.4" stroke-linejoin="round" stroke-linecap="round"/>
<polyline points="1078.3,649.6 1083.6,651.9" fill="none" stroke="#000" stroke-width="1.4" stroke-linejoin="round" stroke-linecap="round"/>
<polyline points="1070.4,836.0 1072.8,839.6" fill="none" stroke="#000" stroke-width="1.4" stroke-linejoin="round" stroke-linecap="round"/>
<polyline points="1067.0,853.5 1068.0,855.8" fill="none" stroke="#000" stroke-width="1.4" stroke-linejoin="round" stroke-linecap="round"/>
<polyline points="122.0,817.0 123.0,820.0" fill="none" stroke="#000" stroke-width="1.4" stroke-linejoin="round" stroke-linecap="round"/>
<polyline points="106.5,861.0 106.5,867.5" fill="none" stroke="#000" stroke-width="1.4" stroke-linejoin="round" stroke-linecap="round"/>
<polyline points="34.5,722.6 40.0,725.9 34.5,731.3" fill="none" stroke="#000" stroke-width="1.4" stroke-linejoin="round" stroke-linecap="round"/>
<polyline points="34.5,749.6 37.7,762.5 34.5,770.0" fill="none" stroke="#000" stroke-width="1.4" stroke-linejoin="round" stroke-linecap="round"/>
<polyline points="216.0,379.3 220.7,382.7" fill="none" stroke="#000" stroke-width="1.4" stroke-linejoin="round" stroke-linecap="round"/>
<polyline points="223.3,386.0 228.0,388.0 236.0,395.0 244.7,401.3" fill="none" stroke="#000" stroke-width="1.4" stroke-linejoin="round" stroke-linecap="round"/>
<polyline points="255.3,402.0 260.0,403.3" fill="none" stroke="#000" stroke-width="1.4" stroke-linejoin="round" stroke-linecap="round"/>
<polyline points="259.3,408.7 265.3,412.7" fill="none" stroke="#000" stroke-width="1.4" stroke-linejoin="round" stroke-linecap="round"/>
<polyline points="181.3,462.7 188.7,459.3" fill="none" stroke="#000" stroke-width="1.4" stroke-linejoin="round" stroke-linecap="round"/>
<polyline points="192.0,460.7 198.7,456.7" fill="none" stroke="#000" stroke-width="1.4" stroke-linejoin="round" stroke-linecap="round"/>
<polyline points="583.8,344.4 589.4,347.5" fill="none" stroke="#000" stroke-width="1.4" stroke-linejoin="round" stroke-linecap="round"/>
<polyline points="541.9,346.9 543.1,350.0" fill="none" stroke="#000" stroke-width="1.4" stroke-linejoin="round" stroke-linecap="round"/>
<polyline points="604.4,356.9 605.0,360.6" fill="none" stroke="#000" stroke-width="1.4" stroke-linejoin="round" stroke-linecap="round"/>
<path d="M271.2,149.0 C272.4,148.2 279.1,149.3 280.7,150.6 C282.3,151.9 281.3,155.4 282.2,157.7 C283.1,160.0 286.0,163.6 287.0,165.7 C288.0,167.8 287.5,169.9 288.6,172.0 C289.7,174.1 293.3,177.4 294.1,180.0 C294.9,182.6 294.9,187.3 294.1,189.4 C293.3,191.5 290.6,192.8 288.6,194.2 C286.6,195.6 282.6,198.9 280.7,198.9 C278.8,198.9 277.1,195.5 275.9,194.2 C274.7,192.9 274.6,191.6 272.7,190.2 C270.8,188.8 264.8,186.1 263.2,184.7 C261.6,183.3 261.0,181.9 261.7,180.7 C262.4,179.5 266.6,176.6 268.0,176.7 C269.4,176.8 271.2,180.4 271.2,181.5 C271.2,182.6 268.8,184.1 268.0,183.9 C267.2,183.7 266.0,181.5 266.0,180.0 C266.0,178.5 267.0,175.7 268.0,173.6 C269.0,171.5 272.0,168.3 272.7,165.7 C273.4,163.1 272.9,158.7 272.7,156.2 C272.5,153.7 270.0,149.8 271.2,149.0 Z" fill="none" stroke="#000" stroke-width="1.05" stroke-linejoin="round" />
<path d="M282.2,202.9 C282.1,202.7 282.4,207.0 283.8,206.8 C285.2,206.6 289.6,202.0 291.7,201.3 C293.8,200.6 296.4,200.8 298.1,202.1 C299.8,203.4 302.0,206.9 302.8,210.0 C303.6,213.1 303.6,219.6 303.6,222.7 C303.6,225.8 304.3,229.3 302.8,230.6 C301.3,231.9 295.1,232.4 293.3,231.4 C291.5,230.4 291.7,226.9 291.0,224.2 C290.3,221.5 289.6,215.6 288.6,213.2 C287.6,210.8 285.6,209.9 284.6,208.4 C283.6,206.9 282.3,203.1 282.2,202.9 Z" fill="none" stroke="#000" stroke-width="1.05" stroke-linejoin="round" />
<path d="M339.2,135.6 C336.8,133.6 340.2,129.4 340.8,128.5 C341.4,127.6 342.7,128.6 343.2,129.3 C343.7,130.0 342.7,131.7 344.0,133.2 C345.3,134.7 349.5,138.2 351.9,139.5 C354.3,140.8 357.2,139.9 359.8,141.9 C362.4,143.9 367.9,150.2 369.3,153.0 C370.7,155.8 369.5,158.8 369.3,160.9 C369.1,163.0 367.9,164.6 367.7,167.2 C367.5,169.8 368.9,177.8 367.7,178.3 C366.5,178.8 360.0,171.8 359.8,170.4 C359.6,169.0 365.2,170.2 366.2,168.8 C367.2,167.4 366.2,163.5 366.2,160.9 C366.2,158.3 367.6,154.2 366.2,151.4 C364.8,148.6 360.8,144.3 356.7,141.9 C352.6,139.5 341.6,137.6 339.2,135.6 Z" fill="none" stroke="#000" stroke-width="1.05" stroke-linejoin="round" />
<path d="M388.3,178.3 C388.5,178.3 391.6,180.6 393.0,183.0 C394.4,185.4 396.4,191.6 397.8,194.2 C399.2,196.8 401.1,198.6 402.6,200.5 C404.1,202.4 408.3,205.5 408.1,206.8 C407.9,208.1 402.2,209.3 401.0,209.2 C399.8,209.1 399.9,206.9 400.0,206.0 C400.1,205.1 402.6,205.2 402.0,203.0 C401.4,200.8 397.8,194.0 396.2,191.0 C394.6,188.0 392.7,184.9 391.5,183.0 C390.3,181.1 388.1,178.3 388.3,178.3 Z" fill="none" stroke="#000" stroke-width="1.05" stroke-linejoin="round" />
<path d="M374.2,235.4 C374.5,235.2 377.2,235.0 379.0,236.6 C380.8,238.2 383.4,244.1 386.1,246.1 C388.8,248.1 396.8,249.9 396.8,250.2 C396.8,250.5 389.0,249.8 386.0,248.0 C383.0,246.2 378.8,239.9 377.0,238.0 C375.2,236.1 373.9,235.6 374.2,235.4 Z" fill="none" stroke="#000" stroke-width="1.05" stroke-linejoin="round" />
<path d="M407.0,236.0 C406.7,234.2 408.9,234.2 410.0,236.0 C411.1,237.8 413.4,245.1 414.6,248.0 C415.8,250.9 417.6,253.0 418.1,255.6 C418.6,258.1 417.2,263.1 418.1,265.0 C419.0,266.9 422.2,265.9 424.0,268.0 C425.8,270.1 430.1,278.9 430.0,279.3 C429.9,279.8 425.2,273.4 423.0,271.0 C420.8,268.6 416.1,265.2 415.0,263.0 C413.9,260.8 416.4,258.2 416.0,256.0 C415.6,253.8 413.4,251.0 412.0,248.0 C410.6,245.0 407.3,237.8 407.0,236.0 Z" fill="none" stroke="#000" stroke-width="1.05" stroke-linejoin="round" />
<path d="M453.7,283.0 C455.0,281.4 459.0,286.7 461.0,287.6 C463.0,288.5 465.9,288.5 467.0,289.0 C468.1,289.5 469.5,290.7 468.0,291.0 C466.5,291.3 459.3,289.9 457.0,291.0 C454.7,292.1 453.0,299.5 452.5,298.3 C452.0,297.1 452.4,284.6 453.7,283.0 Z" fill="none" stroke="#000" stroke-width="1.05" stroke-linejoin="round" />
<path d="M470.3,291.2 C471.2,290.3 475.1,287.7 476.2,288.8 C477.3,289.9 477.9,295.8 477.4,298.3 C476.9,300.8 475.0,302.9 472.7,305.4 C470.4,307.9 464.5,312.8 462.0,314.9 C459.5,317.0 455.3,320.3 456.0,319.6 C456.7,318.9 463.9,313.0 466.8,310.2 C469.7,307.4 474.5,303.0 475.0,300.7 C475.5,298.4 471.0,296.1 470.3,294.7 C469.6,293.3 469.4,292.1 470.3,291.2 Z" fill="none" stroke="#000" stroke-width="1.05" stroke-linejoin="round" />
<path d="M45.8,333.3 C47.8,333.3 53.8,334.7 56.7,336.7 C59.6,338.7 63.8,344.0 65.0,346.7 C66.2,349.4 66.2,353.0 65.0,355.0 C63.8,357.0 59.0,359.0 56.7,360.0 C54.5,361.0 52.2,362.1 50.0,361.7 C47.8,361.3 43.6,358.8 41.7,357.5 C39.8,356.2 36.8,353.9 37.5,353.3 C38.2,352.7 45.6,353.8 46.7,353.3 C47.8,352.8 45.8,351.5 45.0,350.0 C44.2,348.5 42.0,345.3 41.7,343.3 C41.4,341.3 42.7,338.2 43.3,336.7 C43.9,335.2 43.8,333.3 45.8,333.3 Z" fill="none" stroke="#000" stroke-width="1.05" stroke-linejoin="round" />
<path d="M264.0,541.0 C263.3,539.6 264.4,537.0 265.5,535.5 C266.6,534.0 268.5,531.8 271.0,531.0 C273.5,530.2 279.6,531.2 282.0,530.5 C284.4,529.8 284.3,526.8 287.0,526.5 C289.7,526.2 296.9,527.9 300.0,528.5 C303.1,529.1 305.8,530.2 308.0,530.5 C310.2,530.8 312.8,530.0 315.0,530.5 C317.2,531.0 320.3,533.0 323.0,533.5 C325.7,534.0 330.6,532.4 333.0,533.5 C335.4,534.6 337.2,539.6 339.0,541.0 C340.8,542.4 343.2,542.4 345.0,543.0 C346.8,543.6 348.9,544.4 351.0,545.0 C353.1,545.6 357.5,546.1 359.0,547.0 C360.5,547.9 360.1,549.0 361.0,551.0 C361.9,553.0 365.1,558.7 365.0,560.5 C364.9,562.3 362.1,562.5 360.0,563.0 C357.9,563.5 353.6,564.5 351.0,564.0 C348.4,563.5 344.9,560.6 343.0,560.0 C341.1,559.4 338.9,560.3 338.0,560.0 C337.1,559.7 337.6,558.0 337.0,558.0 C336.4,558.0 334.9,559.0 334.0,560.0 C333.1,561.0 332.4,564.7 331.0,565.0 C329.6,565.3 326.5,562.0 325.0,562.0 C323.5,562.0 321.8,564.0 321.0,565.0 C320.2,566.0 319.4,568.0 319.5,569.0 C319.6,570.0 321.4,571.4 321.5,572.0 C321.6,572.6 321.6,574.1 320.0,573.0 C318.4,571.9 313.6,565.9 311.0,564.5 C308.4,563.1 305.7,564.1 303.0,564.0 C300.3,563.9 295.1,564.9 293.0,564.0 C290.9,563.1 290.2,559.4 289.0,558.0 C287.8,556.6 286.4,555.9 285.0,554.5 C283.6,553.1 281.1,550.5 280.0,549.0 C278.9,547.5 279.5,545.2 278.0,544.5 C276.5,543.8 272.1,545.0 270.0,544.5 C267.9,544.0 264.7,542.4 264.0,541.0 Z" fill="none" stroke="#000" stroke-width="1.05" stroke-linejoin="round" />
<path d="M576.0,459.4 C575.1,459.8 571.9,462.4 570.4,462.3 C568.9,462.2 568.5,459.6 566.2,458.7 C563.9,457.8 557.7,456.7 555.0,456.6 C552.3,456.5 550.5,458.6 548.0,458.0 C545.5,457.4 541.4,454.1 538.2,452.4 C535.1,450.7 531.2,447.4 527.0,446.8 C522.8,446.2 514.3,447.4 510.1,448.2 C505.9,449.0 501.1,450.9 498.9,452.4 C496.7,453.9 495.8,456.5 495.4,458.0 C495.0,459.5 494.5,461.4 496.1,462.3 C497.7,463.2 502.5,463.2 505.9,463.7 C509.3,464.2 515.1,464.5 518.5,465.8 C521.9,467.1 526.3,470.6 528.3,472.1 C530.3,473.6 531.9,474.6 531.9,475.6 C531.9,476.7 529.0,477.5 528.3,479.1 C527.5,480.7 526.5,484.2 526.9,486.1 C527.3,488.0 531.3,490.4 531.2,491.7 C531.1,493.0 526.6,493.0 526.2,494.5 C525.8,496.0 526.9,499.4 528.3,501.5 C529.7,503.6 532.7,506.3 535.4,508.5 C538.1,510.7 544.6,514.5 546.6,516.2 C548.6,517.9 548.5,518.3 548.7,519.7 C548.9,521.1 550.0,524.5 548.0,525.4 C546.0,526.3 538.1,524.6 535.4,525.4 C532.7,526.2 532.2,530.4 529.7,531.0 C527.2,531.6 522.5,530.0 518.5,529.6 C514.5,529.2 507.5,528.6 503.1,528.2 C498.7,527.8 492.2,527.4 489.1,526.8 C486.0,526.2 483.6,524.9 482.1,524.0 C480.6,523.1 480.2,520.8 479.3,520.5 C478.4,520.2 477.7,521.7 476.0,522.0 C474.3,522.3 470.5,523.2 468.0,522.6 C465.5,522.0 462.1,518.7 459.6,518.3 C457.1,517.9 453.0,518.0 451.2,519.7 C449.4,521.4 448.1,527.3 447.7,529.6 C447.3,531.9 447.0,533.7 448.4,535.2 C449.8,536.7 454.3,538.4 456.8,539.4 C459.3,540.4 462.7,540.3 465.2,542.2 C467.7,544.1 471.8,550.2 473.7,552.0 C475.6,553.8 477.1,554.5 477.9,554.1 C478.7,553.7 478.2,550.8 479.3,549.2 C480.4,547.6 482.0,544.6 484.9,543.6 C487.8,542.6 494.7,542.0 498.9,542.2 C503.1,542.4 509.1,544.2 512.9,545.0 C516.7,545.8 520.3,548.0 524.1,547.8 C527.9,547.6 532.9,544.4 538.2,543.6 C543.5,542.8 554.6,541.8 559.2,542.2 C563.8,542.6 566.7,544.8 569.0,546.4 C571.3,548.0 573.4,551.5 574.7,553.2 C576.0,554.9 576.7,555.8 577.9,558.0 C579.1,560.2 581.3,565.3 582.8,567.7 C584.3,570.1 586.2,572.7 587.7,574.2 C589.2,575.7 591.3,578.1 592.5,577.4 C593.7,576.7 594.6,571.7 595.8,569.3 C597.0,566.9 598.9,564.0 600.6,561.3 C602.3,558.6 606.1,554.2 607.1,551.5 C608.1,548.8 606.9,545.4 607.1,543.5 C607.3,541.6 607.7,539.1 608.7,538.6 C609.7,538.1 612.1,540.6 613.6,540.2 C615.1,539.8 616.5,537.4 618.4,536.2 C620.3,535.0 624.8,532.7 626.5,532.1 C628.2,531.5 629.0,530.9 629.7,532.1 C630.4,533.3 630.2,538.5 631.4,540.2 C632.6,541.9 635.4,543.1 637.8,543.5 C640.2,543.9 645.2,543.3 647.6,542.6 C650.0,541.9 652.1,540.4 654.0,538.6 C655.9,536.8 658.3,531.8 660.5,530.5 C662.7,529.2 666.2,529.6 668.6,529.7 C671.0,529.8 674.5,530.9 676.7,531.3 C678.9,531.7 680.5,532.1 683.2,532.1 C685.9,532.1 691.8,531.2 694.5,531.3 C697.2,531.4 699.1,532.8 701.0,532.9 C702.9,533.0 705.5,531.7 707.4,532.1 C709.3,532.5 712.4,533.4 713.9,535.4 C715.4,537.4 716.2,543.6 717.2,545.1 C718.2,546.6 719.4,545.6 720.4,545.1 C721.4,544.6 722.9,543.1 723.6,541.8 C724.3,540.5 724.2,537.0 725.2,536.2 C726.2,535.4 728.9,537.1 730.1,536.2 C731.3,535.3 732.2,532.7 733.3,530.5 C734.4,528.3 738.4,524.8 737.4,521.6 C736.4,518.5 730.2,512.5 726.9,509.5 C723.6,506.5 718.4,503.1 715.5,501.4 C712.6,499.7 709.3,498.2 707.4,498.1 C705.5,498.0 704.8,500.7 702.6,500.6 C700.4,500.5 695.6,498.3 692.9,497.3 C690.2,496.3 687.3,494.7 684.8,494.1 C682.2,493.5 676.9,494.3 675.9,493.3 C674.9,492.3 675.5,488.3 678.3,487.6 C681.1,486.9 691.6,488.8 694.5,488.4 C697.4,488.0 697.7,486.5 697.7,485.2 C697.7,483.9 696.0,480.2 694.5,479.5 C693.0,478.8 690.4,479.9 688.0,480.3 C685.6,480.7 681.0,481.5 678.3,481.9 C675.6,482.3 672.3,484.3 670.2,482.8 C668.1,481.3 665.7,475.2 664.5,472.2 C663.3,469.2 662.9,464.2 662.1,462.5 C661.3,460.8 660.1,460.7 658.9,460.9 C657.7,461.1 656.0,463.9 654.0,464.1 C652.0,464.3 648.1,463.6 645.9,462.5 C643.7,461.4 641.2,457.7 639.5,456.9 C637.8,456.1 636.6,457.4 634.6,456.9 C632.6,456.4 628.9,454.8 626.5,453.6 C624.1,452.4 620.8,449.8 618.4,448.8 C616.0,447.8 612.5,446.6 610.3,447.1 C608.1,447.6 606.7,451.7 603.8,452.0 C600.9,452.3 594.3,449.3 590.9,448.8 C587.5,448.3 583.4,448.2 581.2,448.8 C579.0,449.4 577.0,451.2 576.3,452.8 C575.6,454.4 576.3,458.3 576.3,459.3 C576.3,460.3 576.9,458.9 576.0,459.4 Z" fill="none" stroke="#000" stroke-width="1.05" stroke-linejoin="round" />
<path d="M503.1,501.5 C504.8,501.5 510.9,502.4 514.0,504.0 C517.1,505.6 522.2,510.3 524.0,512.0 C525.8,513.7 525.9,514.8 526.0,515.5 C526.1,516.2 526.6,516.9 525.0,516.5 C523.4,516.1 517.9,514.2 515.0,513.0 C512.1,511.8 507.8,509.9 506.0,508.5 C504.2,507.1 503.4,505.1 503.0,504.0 C502.6,502.9 501.5,501.5 503.1,501.5 Z" fill="none" stroke="#000" stroke-width="1.05" stroke-linejoin="round" />
<path d="M791.7,527.5 C792.2,526.8 794.5,526.6 796.7,526.7 C799.0,526.8 802.7,528.1 806.7,528.3 C810.7,528.5 818.3,528.0 823.3,528.3 C828.3,528.6 837.0,529.5 840.0,530.0 C843.0,530.5 841.3,531.4 843.3,531.7 C845.3,532.0 850.2,531.2 853.3,531.7 C856.4,532.2 862.4,533.4 864.2,535.0 C866.0,536.6 866.1,540.5 865.0,542.5 C863.9,544.5 858.5,546.4 856.7,548.3 C854.9,550.2 855.8,553.4 853.3,555.0 C850.8,556.6 843.0,558.5 840.0,559.2 C837.0,560.0 835.8,560.4 833.3,560.0 C830.8,559.6 826.8,557.0 823.3,556.7 C819.8,556.4 813.2,557.9 810.0,558.3 C806.8,558.7 804.4,559.2 801.7,559.2 C799.0,559.2 793.5,559.9 791.7,558.3 C789.9,556.7 790.0,550.8 790.0,548.3 C790.0,545.8 792.0,543.3 791.7,541.7 C791.4,540.1 788.1,539.0 788.3,537.5 C788.5,536.0 792.8,533.2 793.3,531.7 C793.8,530.2 791.2,528.2 791.7,527.5 Z" fill="none" stroke="#000" stroke-width="1.05" stroke-linejoin="round" />
<path d="M1045.1,649.6 C1046.3,649.0 1050.9,649.5 1052.6,650.4 C1054.3,651.3 1055.7,653.3 1056.4,655.7 C1057.1,658.1 1058.0,663.8 1057.2,666.2 C1056.4,668.6 1052.7,671.7 1051.1,671.5 C1049.5,671.3 1047.6,667.3 1046.6,664.7 C1045.6,662.1 1044.5,656.5 1044.3,654.2 C1044.1,651.9 1043.9,650.2 1045.1,649.6 Z" fill="none" stroke="#000" stroke-width="1.05" stroke-linejoin="round" />
<path d="M1056.4,655.7 C1056.3,653.9 1057.3,647.4 1057.9,645.1 C1058.5,642.8 1059.3,640.8 1060.2,640.6 C1061.1,640.4 1063.3,642.2 1064.0,643.6 C1064.7,645.0 1063.1,647.9 1064.7,649.6 C1066.3,651.3 1074.5,653.8 1074.5,654.9 C1074.5,656.0 1067.1,656.9 1064.7,657.2 C1062.3,657.5 1059.9,657.4 1058.7,657.2 C1057.5,657.0 1056.5,657.5 1056.4,655.7 Z" fill="none" stroke="#000" stroke-width="1.05" stroke-linejoin="round" />
<path d="M1060.2,690.4 C1061.0,690.1 1063.2,689.8 1064.7,691.1 C1066.2,692.5 1069.1,696.3 1070.0,699.4 C1070.9,702.5 1071.4,709.3 1070.8,711.5 C1070.2,713.7 1067.4,714.9 1066.2,713.8 C1065.0,712.7 1063.5,707.1 1062.5,704.0 C1061.5,700.9 1059.7,695.4 1059.4,693.4 C1059.1,691.4 1059.4,690.7 1060.2,690.4 Z" fill="none" stroke="#000" stroke-width="1.05" stroke-linejoin="round" />
<path d="M1072.3,734.9 C1072.5,734.0 1074.0,732.5 1075.3,732.6 C1076.6,732.7 1079.6,734.6 1081.3,735.7 C1083.0,736.8 1085.9,738.9 1086.6,740.2 C1087.3,741.6 1085.3,743.1 1085.8,744.7 C1086.2,746.3 1088.8,749.0 1089.6,750.8 C1090.4,752.6 1091.2,755.6 1091.1,756.8 C1091.0,758.0 1089.5,759.3 1088.9,759.1 C1088.3,758.9 1089.0,755.9 1087.4,755.3 C1085.8,754.7 1079.7,756.0 1078.3,755.3 C1076.9,754.6 1077.7,751.7 1078.3,750.8 C1078.9,749.9 1081.9,749.9 1082.1,749.2 C1082.3,748.5 1081.0,747.8 1079.8,746.2 C1078.6,744.6 1074.9,740.4 1073.8,738.7 C1072.7,737.0 1072.1,735.8 1072.3,734.9 Z" fill="none" stroke="#000" stroke-width="1.05" stroke-linejoin="round" />
<path d="M697.7,873.8 C698.2,873.5 699.9,874.6 701.0,876.0 C702.1,877.4 703.3,881.4 705.0,883.0 C706.7,884.6 710.6,885.5 712.3,886.7 C713.9,887.9 716.2,890.7 716.0,891.2 C715.8,891.7 712.8,890.8 711.0,890.0 C709.2,889.2 706.0,887.8 704.0,886.0 C702.0,884.2 698.9,879.8 698.0,878.0 C697.1,876.2 697.2,874.1 697.7,873.8 Z" fill="none" stroke="#000" stroke-width="1.05" stroke-linejoin="round" />
<path d="M733.4,878.4 C734.0,878.5 736.6,882.2 738.0,883.0 C739.4,883.8 742.0,882.2 742.6,883.9 C743.2,885.5 742.2,893.5 741.7,894.0 C741.2,894.5 740.2,888.8 739.0,887.0 C737.8,885.2 734.8,883.3 734.0,882.0 C733.2,880.7 732.8,878.2 733.4,878.4 Z" fill="none" stroke="#000" stroke-width="1.05" stroke-linejoin="round" />
<path d="M204.0,284.0 C204.8,284.4 207.0,285.4 209.0,287.0 C211.0,288.6 216.1,293.5 217.3,294.7" fill="none" stroke="#000" stroke-width="1.05" stroke-linejoin="round" />
<path d="M249.3,299.3 C250.9,298.7 258.3,297.6 261.3,298.7 C264.3,299.8 269.3,305.7 269.3,306.7 C269.3,307.7 264.1,305.9 261.3,305.3 C258.5,304.7 252.5,303.6 250.7,302.7 C248.9,301.8 247.7,299.9 249.3,299.3 Z" fill="none" stroke="#000" stroke-width="1.05" stroke-linejoin="round" />
<path d="M270.7,306.7 C271.5,306.3 276.1,307.0 277.3,308.0 C278.5,309.0 279.5,312.9 278.7,313.3 C277.9,313.7 273.2,311.7 272.0,310.7 C270.8,309.7 269.9,307.1 270.7,306.7 Z" fill="none" stroke="#000" stroke-width="1.05" stroke-linejoin="round" />
<path d="M280.0,314.7 C280.6,314.4 282.8,315.6 284.0,317.0 C285.2,318.4 285.8,322.5 288.0,324.0 C290.2,325.5 297.1,325.4 298.7,326.7 C300.3,328.0 299.9,331.9 298.7,332.7 C297.5,333.5 293.1,333.3 290.7,332.0 C288.3,330.7 284.3,326.0 282.7,324.0 C281.1,322.0 280.4,320.1 280.0,318.7 C279.6,317.3 279.4,315.0 280.0,314.7 Z" fill="none" stroke="#000" stroke-width="1.05" stroke-linejoin="round" />
<path d="M301.3,334.7 C301.8,334.8 305.2,338.2 305.3,338.7 C305.4,339.2 302.6,338.6 302.0,338.0 C301.4,337.4 300.8,334.6 301.3,334.7 Z" fill="none" stroke="#000" stroke-width="1.05" stroke-linejoin="round" />
<path d="M306.7,342.7 C307.3,343.9 308.7,349.3 310.7,350.7 C312.7,352.1 318.2,351.2 320.0,352.0 C321.8,352.8 323.1,355.0 322.7,356.0 C322.3,357.0 318.7,359.1 317.3,358.7 C315.9,358.3 313.9,354.1 313.3,353.3" fill="none" stroke="#000" stroke-width="1.05" stroke-linejoin="round" />
<path d="M333.3,366.7 C334.5,366.7 339.5,365.9 341.3,366.7 C343.1,367.5 344.1,371.4 345.3,372.0 C346.5,372.6 347.8,370.6 349.0,371.0 C350.2,371.4 352.7,374.1 353.3,374.7" fill="none" stroke="#000" stroke-width="1.05" stroke-linejoin="round" />
<path d="M205.0,285.0 C205.8,285.9 208.1,289.6 210.0,291.0 C211.9,292.4 216.8,293.6 218.0,294.0" fill="none" stroke="#000" stroke-width="1.05" stroke-linejoin="round" />
<path d="M868.3,550.8 C868.5,550.1 871.4,547.0 873.3,546.7 C875.2,546.4 881.0,548.0 880.8,548.7 C880.6,549.4 873.6,551.0 871.7,551.3 C869.8,551.6 868.1,551.5 868.3,550.8 Z" fill="none" stroke="#000" stroke-width="1.05" stroke-linejoin="round" />
<path d="M877.5,536.7 C878.0,536.8 882.3,540.3 882.5,540.8 C882.7,541.3 879.8,540.6 879.0,540.0 C878.2,539.4 877.0,536.6 877.5,536.7 Z" fill="none" stroke="#000" stroke-width="1.05" stroke-linejoin="round" />
<path d="M892.5,535.0 C892.8,534.8 896.6,535.5 898.0,536.0 C899.4,536.5 902.0,538.1 901.7,538.3 C901.4,538.5 897.4,538.0 896.0,537.5 C894.6,537.0 892.2,535.2 892.5,535.0 Z" fill="none" stroke="#000" stroke-width="1.05" stroke-linejoin="round" />
<path d="M905.0,534.0 C904.7,533.2 907.2,530.7 908.0,531.0 C908.8,531.3 910.5,535.5 910.0,536.0 C909.5,536.5 905.3,534.8 905.0,534.0 Z" fill="none" stroke="#000" stroke-width="1.05" stroke-linejoin="round" />
<path d="M909.0,532.0 C909.3,531.2 914.4,529.5 915.0,530.0 C915.6,530.5 913.9,534.7 913.0,535.0 C912.1,535.3 908.7,532.8 909.0,532.0 Z" fill="none" stroke="#000" stroke-width="1.05" stroke-linejoin="round" />
<path d="M920.8,526.7 C921.4,526.1 925.0,526.1 925.0,526.7 C925.0,527.3 921.6,530.8 921.0,530.8 C920.4,530.8 920.2,527.3 920.8,526.7 Z" fill="none" stroke="#000" stroke-width="1.05" stroke-linejoin="round" />
<path d="M899.2,568.3 C901.6,567.8 914.3,569.2 915.0,570.0 C915.7,570.8 906.4,572.8 904.0,573.3 C901.6,573.8 899.9,573.8 899.2,573.0 C898.5,572.2 896.8,568.8 899.2,568.3 Z" fill="none" stroke="#000" stroke-width="1.05" stroke-linejoin="round" />
<path d="M980.1,546.1 C980.7,545.4 984.7,541.9 986.0,541.3 C987.3,540.7 989.2,541.3 988.6,542.0 C988.0,542.7 983.3,545.4 982.0,546.0 C980.7,546.6 979.5,546.8 980.1,546.1 Z" fill="none" stroke="#000" stroke-width="1.05" stroke-linejoin="round" />
<path d="M982.5,549.8 C983.0,549.3 987.2,550.8 987.4,551.5 C987.6,552.2 984.7,554.9 984.0,554.6 C983.3,554.3 982.0,550.3 982.5,549.8 Z" fill="none" stroke="#000" stroke-width="1.05" stroke-linejoin="round" />
<path d="M988.6,585.0 L989.5,586.0" fill="none" stroke="#000" stroke-width="1.05" stroke-linejoin="round" />
<path d="M55.0,762.0 C55.0,761.4 58.3,758.2 58.8,758.2 C59.3,758.2 59.1,761.4 58.5,762.0 C57.9,762.6 55.0,762.6 55.0,762.0 Z" fill="none" stroke="#000" stroke-width="1.05" stroke-linejoin="round" />
<path d="M120.0,477.0 C119.8,477.8 119.8,482.9 121.0,484.0 C122.2,485.1 125.8,484.8 128.0,484.5 C130.2,484.2 134.9,482.8 136.0,482.0 C137.1,481.2 136.2,479.6 135.0,479.0 C133.8,478.4 129.9,478.0 128.0,478.0 C126.0,478.0 123.2,479.1 122.0,479.0 C120.8,478.9 120.2,476.2 120.0,477.0 Z" fill="none" stroke="#000" stroke-width="1.05" stroke-linejoin="round" />
<path d="M509.4,304.4 C509.7,303.8 509.7,304.5 511.3,305.0 C512.9,305.5 517.9,306.9 520.0,307.5 C522.1,308.1 523.6,308.1 525.0,308.8 C526.4,309.6 529.6,312.3 529.4,312.5 C529.2,312.7 526.0,310.4 523.8,310.0 C521.6,309.6 517.2,310.2 515.0,310.0 C512.8,309.8 510.2,309.6 509.4,308.8 C508.6,308.0 509.1,305.0 509.4,304.4 Z" fill="none" stroke="#000" stroke-width="1.05" stroke-linejoin="round" />
<path d="M548.1,338.1 C549.1,338.2 555.6,341.0 556.3,341.9 C557.0,342.8 553.5,343.9 552.5,343.8 C551.5,343.7 550.1,342.2 549.4,341.3 C548.7,340.4 547.1,338.0 548.1,338.1 Z" fill="none" stroke="#000" stroke-width="1.05" stroke-linejoin="round" />
<path d="M563.1,332.5 C563.3,332.3 566.6,333.0 567.5,333.8 C568.4,334.6 569.0,337.9 568.8,338.1 C568.6,338.3 567.2,335.8 566.3,335.0 C565.4,334.2 562.9,332.7 563.1,332.5 Z" fill="none" stroke="#000" stroke-width="1.05" stroke-linejoin="round" />
<path d="M571.3,338.1 C572.4,337.7 578.6,338.5 580.0,339.4 C581.4,340.3 581.7,343.4 580.6,343.8 C579.5,344.2 573.9,342.8 572.5,341.9 C571.1,341.0 570.2,338.5 571.3,338.1 Z" fill="none" stroke="#000" stroke-width="1.05" stroke-linejoin="round" />
<path d="M513.8,358.8 C514.2,357.9 516.5,355.7 517.5,355.6 C518.5,355.5 521.0,357.2 520.6,358.1 C520.2,359.0 516.0,361.8 515.0,361.9 C514.0,362.0 513.4,359.7 513.8,358.8 Z" fill="none" stroke="#000" stroke-width="1.05" stroke-linejoin="round" />
<path d="M483.8,385.0 C484.0,384.1 483.7,382.6 485.0,381.3 C486.3,380.0 490.4,377.2 492.5,376.3 C494.6,375.4 497.2,374.7 498.8,375.0 C500.4,375.3 501.4,378.0 503.1,378.1 C504.8,378.2 508.2,377.0 510.0,375.6 C511.8,374.2 514.0,369.6 515.0,368.8 C516.0,368.0 516.9,368.3 516.9,370.0 C516.9,371.7 516.0,377.4 515.0,380.0 C514.0,382.6 512.2,386.0 510.0,387.5 C507.8,389.0 503.4,389.6 500.0,390.0 C496.6,390.4 489.9,390.4 487.5,390.0 C485.1,389.6 484.4,388.2 483.8,387.5 C483.2,386.8 483.6,385.9 483.8,385.0 Z" fill="none" stroke="#000" stroke-width="1.05" stroke-linejoin="round" />
<path d="M576.3,459.3 C576.3,461.2 575.6,467.6 576.3,472.2 C577.0,476.8 581.9,485.6 581.2,490.0 C580.5,494.4 572.2,498.2 571.5,501.4 C570.8,504.6 575.8,508.4 576.3,511.1 C576.8,513.8 576.4,517.5 574.7,519.2 C573.0,520.9 566.2,520.7 565.0,522.4 C563.8,524.1 564.9,528.1 566.6,530.5 C568.3,532.9 575.1,535.2 576.3,538.6 C577.5,542.0 574.9,551.0 574.7,553.2" fill="none" stroke="#000" stroke-width="1.05" stroke-linejoin="round" />
<ellipse cx="309" cy="158.5" rx="6.5" ry="2.5" transform="rotate(0 309 158.5)" fill="none" stroke="#000" stroke-width="1.05"/>
<ellipse cx="429" cy="234.8" rx="4" ry="2" transform="rotate(0 429 234.8)" fill="none" stroke="#000" stroke-width="1.05"/>
<ellipse cx="481" cy="268.7" rx="3" ry="1.5" transform="rotate(0 481 268.7)" fill="none" stroke="#000" stroke-width="1.05"/>
<ellipse cx="526.5" cy="440.5" rx="7.4" ry="2.2" transform="rotate(10 526.5 440.5)" fill="none" stroke="#000" stroke-width="1.05"/>
<ellipse cx="580.6" cy="528" rx="7" ry="3" transform="rotate(25 580.6 528)" fill="none" stroke="#000" stroke-width="1.05"/>
<ellipse cx="720" cy="547" rx="4.5" ry="2" transform="rotate(10 720 547)" fill="none" stroke="#000" stroke-width="1.05"/>
<ellipse cx="757.8" cy="551" rx="2.2" ry="1.6" transform="rotate(0 757.8 551)" fill="none" stroke="#000" stroke-width="1.05"/>
<ellipse cx="586" cy="579" rx="1.2" ry="1.2" transform="rotate(0 586 579)" fill="none" stroke="#000" stroke-width="1.05"/>
<ellipse cx="1070.2" cy="673.2" rx="3.5" ry="3.5" transform="rotate(0 1070.2 673.2)" fill="none" stroke="#000" stroke-width="1.05"/>
<ellipse cx="1044.2" cy="577.8" rx="3.4" ry="4.3" transform="rotate(-20 1044.2 577.8)" fill="none" stroke="#000" stroke-width="1.05"/>
<ellipse cx="999.9" cy="594.7" rx="6.5" ry="3" transform="rotate(45 999.9 594.7)" fill="none" stroke="#000" stroke-width="1.05"/>
<ellipse cx="1008" cy="604.3" rx="2.4" ry="3.6" transform="rotate(0 1008 604.3)" fill="none" stroke="#000" stroke-width="1.05"/>
<ellipse cx="1045.6" cy="604.5" rx="5" ry="5" transform="rotate(0 1045.6 604.5)" fill="none" stroke="#000" stroke-width="1.05"/>
<ellipse cx="1026.7" cy="628.8" rx="2.6" ry="4.3" transform="rotate(-10 1026.7 628.8)" fill="none" stroke="#000" stroke-width="1.05"/>
<ellipse cx="1083.2" cy="788" rx="4.5" ry="11" transform="rotate(0 1083.2 788)" fill="none" stroke="#000" stroke-width="1.05"/>
<ellipse cx="1073.3" cy="823.9" rx="4" ry="7.5" transform="rotate(0 1073.3 823.9)" fill="none" stroke="#000" stroke-width="1.05"/>
<ellipse cx="1060.5" cy="868" rx="1.7" ry="2.9" transform="rotate(0 1060.5 868)" fill="none" stroke="#000" stroke-width="1.05"/>
<ellipse cx="660" cy="865.5" rx="2.5" ry="6" transform="rotate(-25 660 865.5)" fill="none" stroke="#000" stroke-width="1.05"/>
<ellipse cx="447" cy="214.5" rx="3" ry="5.5" transform="rotate(10 447 214.5)" fill="none" stroke="#000" stroke-width="1.05"/>
</g>
<text x="4.25" y="109.0" font-size="13.7" font-weight="bold" fill="#a2a2a2" textLength="20.75" lengthAdjust="spacingAndGlyphs">26N</text>
<line x1="28" y1="103.9" x2="31" y2="103.9" stroke="#9a9a9a" stroke-width="1.5"/>
<text x="4.25" y="165.5" font-size="13.7" font-weight="bold" fill="#a2a2a2" textLength="20.75" lengthAdjust="spacingAndGlyphs">25N</text>
<line x1="28" y1="160.4" x2="31" y2="160.4" stroke="#9a9a9a" stroke-width="1.5"/>
<text x="4.25" y="222.1" font-size="13.7" font-weight="bold" fill="#a2a2a2" textLength="20.75" lengthAdjust="spacingAndGlyphs">24N</text>
<line x1="28" y1="217.0" x2="31" y2="217.0" stroke="#9a9a9a" stroke-width="1.5"/>
<text x="4.25" y="278.6" font-size="13.7" font-weight="bold" fill="#a2a2a2" textLength="20.75" lengthAdjust="spacingAndGlyphs">23N</text>
<line x1="28" y1="273.5" x2="31" y2="273.5" stroke="#9a9a9a" stroke-width="1.5"/>
<text x="4.25" y="335.2" font-size="13.7" font-weight="bold" fill="#a2a2a2" textLength="20.75" lengthAdjust="spacingAndGlyphs">22N</text>
<line x1="28" y1="330.1" x2="31" y2="330.1" stroke="#9a9a9a" stroke-width="1.5"/>
<text x="4.25" y="391.7" font-size="13.7" font-weight="bold" fill="#a2a2a2" textLength="20.75" lengthAdjust="spacingAndGlyphs">21N</text>
<line x1="28" y1="386.6" x2="31" y2="386.6" stroke="#9a9a9a" stroke-width="1.5"/>
<text x="4.25" y="448.2" font-size="13.7" font-weight="bold" fill="#a2a2a2" textLength="20.75" lengthAdjust="spacingAndGlyphs">20N</text>
<line x1="28" y1="443.1" x2="31" y2="443.1" stroke="#9a9a9a" stroke-width="1.5"/>
<text x="4.25" y="504.8" font-size="13.7" font-weight="bold" fill="#a2a2a2" textLength="20.75" lengthAdjust="spacingAndGlyphs">19N</text>
<line x1="28" y1="499.7" x2="31" y2="499.7" stroke="#9a9a9a" stroke-width="1.5"/>
<text x="4.25" y="561.3" font-size="13.7" font-weight="bold" fill="#a2a2a2" textLength="20.75" lengthAdjust="spacingAndGlyphs">18N</text>
<line x1="28" y1="556.2" x2="31" y2="556.2" stroke="#9a9a9a" stroke-width="1.5"/>
<text x="4.25" y="617.9" font-size="13.7" font-weight="bold" fill="#a2a2a2" textLength="20.75" lengthAdjust="spacingAndGlyphs">17N</text>
<line x1="28" y1="612.8" x2="31" y2="612.8" stroke="#9a9a9a" stroke-width="1.5"/>
<text x="4.25" y="674.4" font-size="13.7" font-weight="bold" fill="#a2a2a2" textLength="20.75" lengthAdjust="spacingAndGlyphs">16N</text>
<line x1="28" y1="669.3" x2="31" y2="669.3" stroke="#9a9a9a" stroke-width="1.5"/>
<text x="4.25" y="730.9" font-size="13.7" font-weight="bold" fill="#a2a2a2" textLength="20.75" lengthAdjust="spacingAndGlyphs">15N</text>
<line x1="28" y1="725.8" x2="31" y2="725.8" stroke="#9a9a9a" stroke-width="1.5"/>
<text x="4.25" y="787.5" font-size="13.7" font-weight="bold" fill="#a2a2a2" textLength="20.75" lengthAdjust="spacingAndGlyphs">14N</text>
<line x1="28" y1="782.4" x2="31" y2="782.4" stroke="#9a9a9a" stroke-width="1.5"/>
<text x="4.25" y="844.0" font-size="13.7" font-weight="bold" fill="#a2a2a2" textLength="20.75" lengthAdjust="spacingAndGlyphs">13N</text>
<line x1="28" y1="838.9" x2="31" y2="838.9" stroke="#9a9a9a" stroke-width="1.5"/>
<text x="4.25" y="900.6" font-size="13.7" font-weight="bold" fill="#a2a2a2" textLength="20.75" lengthAdjust="spacingAndGlyphs">12N</text>
<line x1="28" y1="895.5" x2="31" y2="895.5" stroke="#9a9a9a" stroke-width="1.5"/>
<text x="81.7" y="918.8" font-size="13.5" font-weight="bold" fill="#a2a2a2" textLength="22.7" lengthAdjust="spacingAndGlyphs">82W</text>
<line x1="93.0" y1="904.8" x2="93.0" y2="908" stroke="#9a9a9a" stroke-width="1.4"/>
<text x="175.9" y="918.8" font-size="13.5" font-weight="bold" fill="#a2a2a2" textLength="22.7" lengthAdjust="spacingAndGlyphs">80W</text>
<line x1="187.2" y1="904.8" x2="187.2" y2="908" stroke="#9a9a9a" stroke-width="1.4"/>
<text x="270.1" y="918.8" font-size="13.5" font-weight="bold" fill="#a2a2a2" textLength="22.7" lengthAdjust="spacingAndGlyphs">78W</text>
<line x1="281.5" y1="904.8" x2="281.5" y2="908" stroke="#9a9a9a" stroke-width="1.4"/>
<text x="364.4" y="918.8" font-size="13.5" font-weight="bold" fill="#a2a2a2" textLength="22.7" lengthAdjust="spacingAndGlyphs">76W</text>
<line x1="375.7" y1="904.8" x2="375.7" y2="908" stroke="#9a9a9a" stroke-width="1.4"/>
<text x="458.6" y="918.8" font-size="13.5" font-weight="bold" fill="#a2a2a2" textLength="22.7" lengthAdjust="spacingAndGlyphs">74W</text>
<line x1="470.0" y1="904.8" x2="470.0" y2="908" stroke="#9a9a9a" stroke-width="1.4"/>
<text x="552.9" y="918.8" font-size="13.5" font-weight="bold" fill="#a2a2a2" textLength="22.7" lengthAdjust="spacingAndGlyphs">72W</text>
<line x1="564.2" y1="904.8" x2="564.2" y2="908" stroke="#9a9a9a" stroke-width="1.4"/>
<text x="647.1" y="918.8" font-size="13.5" font-weight="bold" fill="#a2a2a2" textLength="22.7" lengthAdjust="spacingAndGlyphs">70W</text>
<line x1="658.4" y1="904.8" x2="658.4" y2="908" stroke="#9a9a9a" stroke-width="1.4"/>
<text x="741.3" y="918.8" font-size="13.5" font-weight="bold" fill="#a2a2a2" textLength="22.7" lengthAdjust="spacingAndGlyphs">68W</text>
<line x1="752.7" y1="904.8" x2="752.7" y2="908" stroke="#9a9a9a" stroke-width="1.4"/>
<text x="835.6" y="918.8" font-size="13.5" font-weight="bold" fill="#a2a2a2" textLength="22.7" lengthAdjust="spacingAndGlyphs">66W</text>
<line x1="846.9" y1="904.8" x2="846.9" y2="908" stroke="#9a9a9a" stroke-width="1.4"/>
<text x="929.8" y="918.8" font-size="13.5" font-weight="bold" fill="#a2a2a2" textLength="22.7" lengthAdjust="spacingAndGlyphs">64W</text>
<line x1="941.2" y1="904.8" x2="941.2" y2="908" stroke="#9a9a9a" stroke-width="1.4"/>
<text x="1024.1" y="918.8" font-size="13.5" font-weight="bold" fill="#a2a2a2" textLength="22.7" lengthAdjust="spacingAndGlyphs">62W</text>
<line x1="1035.4" y1="904.8" x2="1035.4" y2="908" stroke="#9a9a9a" stroke-width="1.4"/>
<text x="1118.3" y="918.8" font-size="13.5" font-weight="bold" fill="#a2a2a2" textLength="22.7" lengthAdjust="spacingAndGlyphs">60W</text>
<line x1="1129.6" y1="904.8" x2="1129.6" y2="908" stroke="#9a9a9a" stroke-width="1.4"/>
<rect x="1144" y="98" width="19" height="806.5" fill="#d4d4d4"/>
<rect x="1145.5" y="99" width="16" height="804" fill="#fbfbfb"/>
<rect x="1145.5" y="101.00" width="16" height="42.72" fill="#e8e8e8"/>
<rect x="1145.5" y="144.72" width="16" height="43.72" fill="#eef4d0"/>
<rect x="1145.5" y="189.44" width="16" height="43.72" fill="#e2f29e"/>
<rect x="1145.5" y="234.16" width="16" height="43.72" fill="#a4c864"/>
<rect x="1145.5" y="278.88" width="16" height="43.72" fill="#e0e81c"/>
<rect x="1145.5" y="323.60" width="16" height="43.72" fill="#fae800"/>
<rect x="1145.5" y="368.32" width="16" height="43.72" fill="#fee882"/>
<rect x="1145.5" y="413.04" width="16" height="43.72" fill="#f2ce7e"/>
<rect x="1145.5" y="457.76" width="16" height="43.72" fill="#eaa44c"/>
<rect x="1145.5" y="502.48" width="16" height="43.72" fill="#e48a3c"/>
<rect x="1145.5" y="547.20" width="16" height="43.72" fill="#d87a3c"/>
<rect x="1145.5" y="591.92" width="16" height="43.72" fill="#ec063e"/>
<rect x="1145.5" y="636.64" width="16" height="43.72" fill="#e4569e"/>
<rect x="1145.5" y="681.36" width="16" height="43.72" fill="#9a72a6"/>
<rect x="1145.5" y="726.08" width="16" height="43.72" fill="#6470f2"/>
<rect x="1145.5" y="770.80" width="16" height="43.72" fill="#7c92f8"/>
<rect x="1145.5" y="815.52" width="16" height="43.72" fill="#8cb0fc"/>
<rect x="1145.5" y="860.24" width="16" height="41.76" fill="#b6c6fa"/>
<text x="1165.8" y="148.7" font-size="13" fill="#111">5.831</text>
<text x="1165.8" y="193.4" font-size="13" fill="#111">5.819</text>
<text x="1165.8" y="238.2" font-size="13" fill="#111">5.807</text>
<text x="1165.8" y="282.9" font-size="13" fill="#111">5.795</text>
<text x="1165.8" y="327.6" font-size="13" fill="#111">5.783</text>
<text x="1165.8" y="372.3" font-size="13" fill="#111">5.772</text>
<text x="1165.8" y="417.0" font-size="13" fill="#111">5.76</text>
<text x="1165.8" y="461.8" font-size="13" fill="#111">5.748</text>
<text x="1165.8" y="506.5" font-size="13" fill="#111">5.736</text>
<text x="1165.8" y="551.2" font-size="13" fill="#111">5.724</text>
<text x="1165.8" y="595.9" font-size="13" fill="#111">5.712</text>
<text x="1165.8" y="640.6" font-size="13" fill="#111">5.7</text>
<text x="1165.8" y="685.4" font-size="13" fill="#111">5.688</text>
<text x="1165.8" y="730.1" font-size="13" fill="#111">5.676</text>
<text x="1165.8" y="774.8" font-size="13" fill="#111">5.664</text>
<text x="1165.8" y="819.5" font-size="13" fill="#111">5.652</text>
<text x="1165.8" y="864.2" font-size="13" fill="#111">5.64</text>
<rect x="916" y="878" width="208" height="20" fill="#fff" stroke="#a0a0a0" stroke-width="1"/>
<text x="931.3" y="894.2" font-size="14.2" textLength="21.6" lengthAdjust="spacingAndGlyphs" fill="#1aa0f5">Sis</text>
<text x="953.5" y="894.2" font-size="15.5" textLength="17.6" lengthAdjust="spacingAndGlyphs" fill="#2222e8">ππ</text>
<line x1="974" y1="889" x2="982.6" y2="889" stroke="#555" stroke-width="1.3"/>
<text x="992.6" y="894.2" font-size="14.2" textLength="126.6" lengthAdjust="spacingAndGlyphs" fill="#505050">ONAMET/REP.DOM.</text>
</svg></body></html>
